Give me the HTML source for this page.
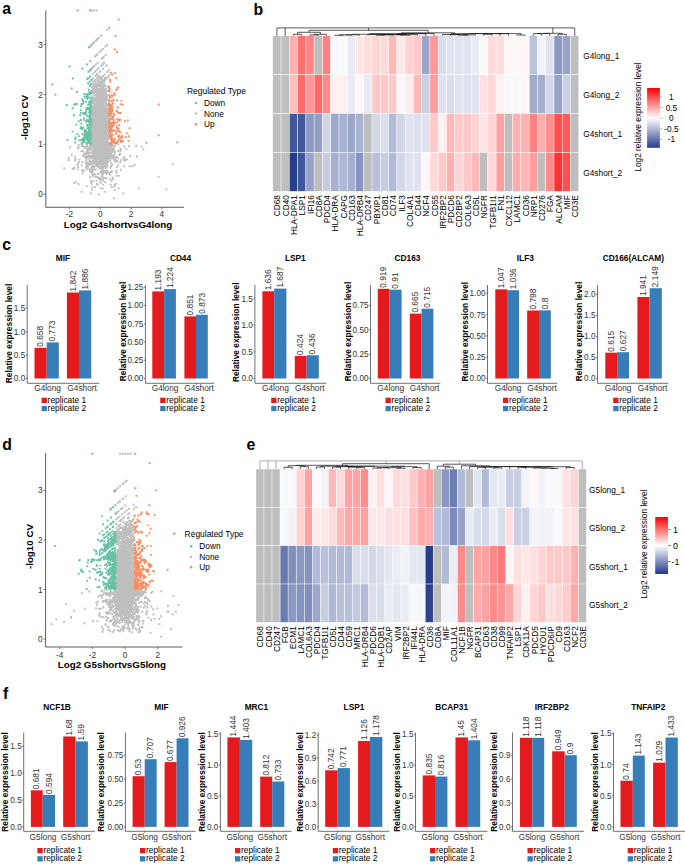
<!DOCTYPE html>
<html><head><meta charset="utf-8"><style>
html,body{margin:0;padding:0;background:#fff;width:685px;height:864px;overflow:hidden}
svg{display:block}
text{font-family:"Liberation Sans",sans-serif}
</style></head><body>
<svg width="685" height="864" viewBox="0 0 685 864">
<rect width="685" height="864" fill="#fff"/>
<text x="2.2" y="14.2" style="font-size:15.8px;font-weight:bold">a</text>
<text x="253.5" y="15.3" style="font-size:15.8px;font-weight:bold">b</text>
<text x="2.2" y="250.4" style="font-size:15.8px;font-weight:bold">c</text>
<text x="2.2" y="450.3" style="font-size:15.8px;font-weight:bold">d</text>
<text x="246.5" y="449.6" style="font-size:15.8px;font-weight:bold">e</text>
<text x="3" y="698.5" style="font-size:15.8px;font-weight:bold">f</text>
<text x="62.9" y="261" style="font-size:8.3px;font-weight:bold" text-anchor="middle">MIF</text>
<rect x="34.5" y="347.8" width="12.2" height="30.7" fill="#E41A1C"/>
<text transform="translate(43.2 346.8) rotate(-90)" style="font-size:8.35px" fill="#333">0.658</text>
<rect x="46.7" y="342.4" width="12.1" height="36.1" fill="#377EB8"/>
<text transform="translate(55.4 341.4) rotate(-90)" style="font-size:8.35px" fill="#333">0.773</text>
<rect x="66.9" y="292.5" width="12.1" height="86" fill="#E41A1C"/>
<text transform="translate(75.5 291.5) rotate(-90)" style="font-size:8.35px" fill="#333">1.842</text>
<rect x="79" y="290.4" width="12.2" height="88.1" fill="#377EB8"/>
<text transform="translate(87.7 289.4) rotate(-90)" style="font-size:8.35px" fill="#333">1.886</text>
<line x1="27.2" y1="285" x2="27.2" y2="383.3" stroke="#333" stroke-width="0.7"/>
<line x1="27.2" y1="383.3" x2="99.3" y2="383.3" stroke="#333" stroke-width="0.7"/>
<line x1="25.7" y1="378.5" x2="27.2" y2="378.5" stroke="#333" stroke-width="0.6"/>
<text x="25.2" y="381.4" style="font-size:8.2px" text-anchor="end" fill="#333">0.0</text>
<line x1="25.7" y1="355.1" x2="27.2" y2="355.1" stroke="#333" stroke-width="0.6"/>
<text x="25.2" y="358.1" style="font-size:8.2px" text-anchor="end" fill="#333">0.5</text>
<line x1="25.7" y1="331.8" x2="27.2" y2="331.8" stroke="#333" stroke-width="0.6"/>
<text x="25.2" y="334.8" style="font-size:8.2px" text-anchor="end" fill="#333">1.0</text>
<line x1="25.7" y1="308.4" x2="27.2" y2="308.4" stroke="#333" stroke-width="0.6"/>
<text x="25.2" y="311.4" style="font-size:8.2px" text-anchor="end" fill="#333">1.5</text>
<line x1="46.6" y1="383.3" x2="46.6" y2="384.8" stroke="#333" stroke-width="0.6"/>
<text x="47.6" y="391.3" style="font-size:8.3px" text-anchor="middle" fill="#333">G4long</text>
<line x1="79.1" y1="383.3" x2="79.1" y2="384.8" stroke="#333" stroke-width="0.6"/>
<text x="82.1" y="391.3" style="font-size:8.3px" text-anchor="middle" fill="#333">G4short</text>
<text transform="translate(12.3 333.5) rotate(-90)" style="font-size:8.4px;font-weight:bold" text-anchor="middle">Relative expression level</text>
<rect x="41.6" y="397.7" width="5.3" height="5.3" fill="#E41A1C"/>
<rect x="41.6" y="405.9" width="5.3" height="5.3" fill="#377EB8"/>
<text x="47.6" y="402.6" style="font-size:8.4px">replicate 1</text>
<text x="47.6" y="410.8" style="font-size:8.4px">replicate 2</text>
<text x="180.5" y="261" style="font-size:8.3px;font-weight:bold" text-anchor="middle">CD44</text>
<rect x="152.3" y="291.4" width="11.8" height="87.1" fill="#E41A1C"/>
<text transform="translate(160.8 290.4) rotate(-90)" style="font-size:8.35px" fill="#333">1.193</text>
<rect x="164.1" y="289.1" width="11.8" height="89.4" fill="#377EB8"/>
<text transform="translate(172.6 288.1) rotate(-90)" style="font-size:8.35px" fill="#333">1.224</text>
<rect x="184.4" y="316.4" width="11.6" height="62.1" fill="#E41A1C"/>
<text transform="translate(192.8 315.4) rotate(-90)" style="font-size:8.35px" fill="#333">0.851</text>
<rect x="196" y="314.8" width="11.8" height="63.7" fill="#377EB8"/>
<text transform="translate(204.5 313.8) rotate(-90)" style="font-size:8.35px" fill="#333">0.873</text>
<line x1="145.4" y1="285" x2="145.4" y2="383.3" stroke="#333" stroke-width="0.7"/>
<line x1="145.4" y1="383.3" x2="214.3" y2="383.3" stroke="#333" stroke-width="0.7"/>
<line x1="143.9" y1="378.5" x2="145.4" y2="378.5" stroke="#333" stroke-width="0.6"/>
<text x="143.4" y="381.4" style="font-size:8.2px" text-anchor="end" fill="#333">0.00</text>
<line x1="143.9" y1="360.2" x2="145.4" y2="360.2" stroke="#333" stroke-width="0.6"/>
<text x="143.4" y="363.2" style="font-size:8.2px" text-anchor="end" fill="#333">0.25</text>
<line x1="143.9" y1="342" x2="145.4" y2="342" stroke="#333" stroke-width="0.6"/>
<text x="143.4" y="344.9" style="font-size:8.2px" text-anchor="end" fill="#333">0.50</text>
<line x1="143.9" y1="323.8" x2="145.4" y2="323.8" stroke="#333" stroke-width="0.6"/>
<text x="143.4" y="326.7" style="font-size:8.2px" text-anchor="end" fill="#333">0.75</text>
<line x1="143.9" y1="305.5" x2="145.4" y2="305.5" stroke="#333" stroke-width="0.6"/>
<text x="143.4" y="308.4" style="font-size:8.2px" text-anchor="end" fill="#333">1.00</text>
<line x1="143.9" y1="287.2" x2="145.4" y2="287.2" stroke="#333" stroke-width="0.6"/>
<text x="143.4" y="290.2" style="font-size:8.2px" text-anchor="end" fill="#333">1.25</text>
<line x1="164.1" y1="383.3" x2="164.1" y2="384.8" stroke="#333" stroke-width="0.6"/>
<text x="165.1" y="391.3" style="font-size:8.3px" text-anchor="middle" fill="#333">G4long</text>
<line x1="196.1" y1="383.3" x2="196.1" y2="384.8" stroke="#333" stroke-width="0.6"/>
<text x="199.1" y="391.3" style="font-size:8.3px" text-anchor="middle" fill="#333">G4short</text>
<text transform="translate(125.8 331.5) rotate(-90)" style="font-size:8.4px;font-weight:bold" text-anchor="middle">Relative expression level</text>
<rect x="160.2" y="397.7" width="5.3" height="5.3" fill="#E41A1C"/>
<rect x="160.2" y="405.9" width="5.3" height="5.3" fill="#377EB8"/>
<text x="166.2" y="402.6" style="font-size:8.4px">replicate 1</text>
<text x="166.2" y="410.8" style="font-size:8.4px">replicate 2</text>
<text x="295.3" y="261" style="font-size:8.3px;font-weight:bold" text-anchor="middle">LSP1</text>
<rect x="262.4" y="291.3" width="11.8" height="87.2" fill="#E41A1C"/>
<text transform="translate(270.9 290.3) rotate(-90)" style="font-size:8.35px" fill="#333">1.636</text>
<rect x="274.2" y="288.6" width="12.2" height="89.9" fill="#377EB8"/>
<text transform="translate(282.9 287.6) rotate(-90)" style="font-size:8.35px" fill="#333">1.687</text>
<rect x="294.8" y="355.9" width="11.8" height="22.6" fill="#E41A1C"/>
<text transform="translate(303.3 354.9) rotate(-90)" style="font-size:8.35px" fill="#333">0.424</text>
<rect x="306.6" y="355.3" width="12.2" height="23.2" fill="#377EB8"/>
<text transform="translate(315.3 354.3) rotate(-90)" style="font-size:8.35px" fill="#333">0.436</text>
<line x1="254.9" y1="285" x2="254.9" y2="383.3" stroke="#333" stroke-width="0.7"/>
<line x1="254.9" y1="383.3" x2="326.3" y2="383.3" stroke="#333" stroke-width="0.7"/>
<line x1="253.4" y1="378.5" x2="254.9" y2="378.5" stroke="#333" stroke-width="0.6"/>
<text x="252.9" y="381.4" style="font-size:8.2px" text-anchor="end" fill="#333">0.0</text>
<line x1="253.4" y1="351.9" x2="254.9" y2="351.9" stroke="#333" stroke-width="0.6"/>
<text x="252.9" y="354.8" style="font-size:8.2px" text-anchor="end" fill="#333">0.5</text>
<line x1="253.4" y1="325.2" x2="254.9" y2="325.2" stroke="#333" stroke-width="0.6"/>
<text x="252.9" y="328.1" style="font-size:8.2px" text-anchor="end" fill="#333">1.0</text>
<line x1="253.4" y1="298.6" x2="254.9" y2="298.6" stroke="#333" stroke-width="0.6"/>
<text x="252.9" y="301.5" style="font-size:8.2px" text-anchor="end" fill="#333">1.5</text>
<line x1="274.4" y1="383.3" x2="274.4" y2="384.8" stroke="#333" stroke-width="0.6"/>
<text x="275.4" y="391.3" style="font-size:8.3px" text-anchor="middle" fill="#333">G4long</text>
<line x1="306.8" y1="383.3" x2="306.8" y2="384.8" stroke="#333" stroke-width="0.6"/>
<text x="309.8" y="391.3" style="font-size:8.3px" text-anchor="middle" fill="#333">G4short</text>
<text transform="translate(239 332.3) rotate(-90)" style="font-size:8.4px;font-weight:bold" text-anchor="middle">Relative expression level</text>
<rect x="271.2" y="397.7" width="5.3" height="5.3" fill="#E41A1C"/>
<rect x="271.2" y="405.9" width="5.3" height="5.3" fill="#377EB8"/>
<text x="277.2" y="402.6" style="font-size:8.4px">replicate 1</text>
<text x="277.2" y="410.8" style="font-size:8.4px">replicate 2</text>
<text x="407.5" y="261" style="font-size:8.3px;font-weight:bold" text-anchor="middle">CD163</text>
<rect x="377.8" y="288.8" width="11.8" height="89.7" fill="#E41A1C"/>
<text transform="translate(386.3 287.8) rotate(-90)" style="font-size:8.35px" fill="#333">0.919</text>
<rect x="389.6" y="289.7" width="12" height="88.8" fill="#377EB8"/>
<text transform="translate(398.2 288.7) rotate(-90)" style="font-size:8.35px" fill="#333">0.91</text>
<rect x="409.8" y="313.6" width="11.8" height="64.9" fill="#E41A1C"/>
<text transform="translate(418.3 312.6) rotate(-90)" style="font-size:8.35px" fill="#333">0.665</text>
<rect x="421.6" y="308.7" width="11.8" height="69.8" fill="#377EB8"/>
<text transform="translate(430.1 307.7) rotate(-90)" style="font-size:8.35px" fill="#333">0.715</text>
<line x1="370.5" y1="285" x2="370.5" y2="383.3" stroke="#333" stroke-width="0.7"/>
<line x1="370.5" y1="383.3" x2="440.3" y2="383.3" stroke="#333" stroke-width="0.7"/>
<line x1="369" y1="378.5" x2="370.5" y2="378.5" stroke="#333" stroke-width="0.6"/>
<text x="368.5" y="381.4" style="font-size:8.2px" text-anchor="end" fill="#333">0.00</text>
<line x1="369" y1="354.1" x2="370.5" y2="354.1" stroke="#333" stroke-width="0.6"/>
<text x="368.5" y="357.1" style="font-size:8.2px" text-anchor="end" fill="#333">0.25</text>
<line x1="369" y1="329.7" x2="370.5" y2="329.7" stroke="#333" stroke-width="0.6"/>
<text x="368.5" y="332.6" style="font-size:8.2px" text-anchor="end" fill="#333">0.50</text>
<line x1="369" y1="305.3" x2="370.5" y2="305.3" stroke="#333" stroke-width="0.6"/>
<text x="368.5" y="308.2" style="font-size:8.2px" text-anchor="end" fill="#333">0.75</text>
<line x1="389.7" y1="383.3" x2="389.7" y2="384.8" stroke="#333" stroke-width="0.6"/>
<text x="390.7" y="391.3" style="font-size:8.3px" text-anchor="middle" fill="#333">G4long</text>
<line x1="421.6" y1="383.3" x2="421.6" y2="384.8" stroke="#333" stroke-width="0.6"/>
<text x="424.6" y="391.3" style="font-size:8.3px" text-anchor="middle" fill="#333">G4short</text>
<text transform="translate(350.9 331.5) rotate(-90)" style="font-size:8.4px;font-weight:bold" text-anchor="middle">Relative expression level</text>
<rect x="385.5" y="397.7" width="5.3" height="5.3" fill="#E41A1C"/>
<rect x="385.5" y="405.9" width="5.3" height="5.3" fill="#377EB8"/>
<text x="391.5" y="402.6" style="font-size:8.4px">replicate 1</text>
<text x="391.5" y="410.8" style="font-size:8.4px">replicate 2</text>
<text x="525.3" y="261" style="font-size:8.3px;font-weight:bold" text-anchor="middle">ILF3</text>
<rect x="495.3" y="289.3" width="11.8" height="89.2" fill="#E41A1C"/>
<text transform="translate(503.8 288.3) rotate(-90)" style="font-size:8.35px" fill="#333">1.047</text>
<rect x="507.1" y="290.2" width="11.9" height="88.3" fill="#377EB8"/>
<text transform="translate(515.6 289.2) rotate(-90)" style="font-size:8.35px" fill="#333">1.036</text>
<rect x="527.2" y="310.5" width="11.8" height="68" fill="#E41A1C"/>
<text transform="translate(535.7 309.5) rotate(-90)" style="font-size:8.35px" fill="#333">0.798</text>
<rect x="539" y="310.3" width="11.8" height="68.2" fill="#377EB8"/>
<text transform="translate(547.5 309.3) rotate(-90)" style="font-size:8.35px" fill="#333">0.8</text>
<line x1="487.5" y1="285" x2="487.5" y2="383.3" stroke="#333" stroke-width="0.7"/>
<line x1="487.5" y1="383.3" x2="557.3" y2="383.3" stroke="#333" stroke-width="0.7"/>
<line x1="486" y1="378.5" x2="487.5" y2="378.5" stroke="#333" stroke-width="0.6"/>
<text x="485.5" y="381.4" style="font-size:8.2px" text-anchor="end" fill="#333">0.00</text>
<line x1="486" y1="357.2" x2="487.5" y2="357.2" stroke="#333" stroke-width="0.6"/>
<text x="485.5" y="360.1" style="font-size:8.2px" text-anchor="end" fill="#333">0.25</text>
<line x1="486" y1="335.9" x2="487.5" y2="335.9" stroke="#333" stroke-width="0.6"/>
<text x="485.5" y="338.8" style="font-size:8.2px" text-anchor="end" fill="#333">0.50</text>
<line x1="486" y1="314.6" x2="487.5" y2="314.6" stroke="#333" stroke-width="0.6"/>
<text x="485.5" y="317.6" style="font-size:8.2px" text-anchor="end" fill="#333">0.75</text>
<line x1="486" y1="293.3" x2="487.5" y2="293.3" stroke="#333" stroke-width="0.6"/>
<text x="485.5" y="296.2" style="font-size:8.2px" text-anchor="end" fill="#333">1.00</text>
<line x1="507.1" y1="383.3" x2="507.1" y2="384.8" stroke="#333" stroke-width="0.6"/>
<text x="508.1" y="391.3" style="font-size:8.3px" text-anchor="middle" fill="#333">G4long</text>
<line x1="539" y1="383.3" x2="539" y2="384.8" stroke="#333" stroke-width="0.6"/>
<text x="542" y="391.3" style="font-size:8.3px" text-anchor="middle" fill="#333">G4short</text>
<text transform="translate(468.2 331.7) rotate(-90)" style="font-size:8.4px;font-weight:bold" text-anchor="middle">Relative expression level</text>
<rect x="503" y="397.7" width="5.3" height="5.3" fill="#E41A1C"/>
<rect x="503" y="405.9" width="5.3" height="5.3" fill="#377EB8"/>
<text x="509" y="402.6" style="font-size:8.4px">replicate 1</text>
<text x="509" y="410.8" style="font-size:8.4px">replicate 2</text>
<text x="633.3" y="261" style="font-size:8.3px;font-weight:bold" text-anchor="middle">CD166(ALCAM)</text>
<rect x="605.3" y="352.7" width="11.8" height="25.8" fill="#E41A1C"/>
<text transform="translate(613.8 351.7) rotate(-90)" style="font-size:8.35px" fill="#333">0.615</text>
<rect x="617.1" y="352.2" width="11.9" height="26.3" fill="#377EB8"/>
<text transform="translate(625.6 351.2) rotate(-90)" style="font-size:8.35px" fill="#333">0.627</text>
<rect x="637.4" y="297" width="12.2" height="81.5" fill="#E41A1C"/>
<text transform="translate(646.1 296) rotate(-90)" style="font-size:8.35px" fill="#333">1.941</text>
<rect x="649.6" y="288.2" width="12.2" height="90.3" fill="#377EB8"/>
<text transform="translate(658.3 287.2) rotate(-90)" style="font-size:8.35px" fill="#333">2.149</text>
<line x1="597.5" y1="285" x2="597.5" y2="383.3" stroke="#333" stroke-width="0.7"/>
<line x1="597.5" y1="383.3" x2="668.3" y2="383.3" stroke="#333" stroke-width="0.7"/>
<line x1="596" y1="378.5" x2="597.5" y2="378.5" stroke="#333" stroke-width="0.6"/>
<text x="595.5" y="381.4" style="font-size:8.2px" text-anchor="end" fill="#333">0.0</text>
<line x1="596" y1="357.5" x2="597.5" y2="357.5" stroke="#333" stroke-width="0.6"/>
<text x="595.5" y="360.4" style="font-size:8.2px" text-anchor="end" fill="#333">0.5</text>
<line x1="596" y1="336.5" x2="597.5" y2="336.5" stroke="#333" stroke-width="0.6"/>
<text x="595.5" y="339.4" style="font-size:8.2px" text-anchor="end" fill="#333">1.0</text>
<line x1="596" y1="315.5" x2="597.5" y2="315.5" stroke="#333" stroke-width="0.6"/>
<text x="595.5" y="318.4" style="font-size:8.2px" text-anchor="end" fill="#333">1.5</text>
<line x1="596" y1="294.5" x2="597.5" y2="294.5" stroke="#333" stroke-width="0.6"/>
<text x="595.5" y="297.4" style="font-size:8.2px" text-anchor="end" fill="#333">2.0</text>
<line x1="617.1" y1="383.3" x2="617.1" y2="384.8" stroke="#333" stroke-width="0.6"/>
<text x="618.1" y="391.3" style="font-size:8.3px" text-anchor="middle" fill="#333">G4long</text>
<line x1="649.6" y1="383.3" x2="649.6" y2="384.8" stroke="#333" stroke-width="0.6"/>
<text x="652.6" y="391.3" style="font-size:8.3px" text-anchor="middle" fill="#333">G4short</text>
<text transform="translate(582 331.5) rotate(-90)" style="font-size:8.4px;font-weight:bold" text-anchor="middle">Relative expression level</text>
<rect x="613.2" y="397.7" width="5.3" height="5.3" fill="#E41A1C"/>
<rect x="613.2" y="405.9" width="5.3" height="5.3" fill="#377EB8"/>
<text x="619.2" y="402.6" style="font-size:8.4px">replicate 1</text>
<text x="619.2" y="410.8" style="font-size:8.4px">replicate 2</text>
<text x="57" y="709.9" style="font-size:8.3px;font-weight:bold" text-anchor="middle">NCF1B</text>
<rect x="30.9" y="790.3" width="11.8" height="36.6" fill="#E41A1C"/>
<text transform="translate(39.4 789.3) rotate(-90)" style="font-size:8.35px" fill="#333">0.681</text>
<rect x="42.7" y="794.9" width="12.3" height="32" fill="#377EB8"/>
<text transform="translate(51.5 793.9) rotate(-90)" style="font-size:8.35px" fill="#333">0.594</text>
<rect x="63.2" y="736.5" width="12.3" height="90.4" fill="#E41A1C"/>
<text transform="translate(71.9 735.5) rotate(-90)" style="font-size:8.35px" fill="#333">1.68</text>
<rect x="75.5" y="741.4" width="12.4" height="85.5" fill="#377EB8"/>
<text transform="translate(84.3 740.4) rotate(-90)" style="font-size:8.35px" fill="#333">1.59</text>
<line x1="23.7" y1="732.5" x2="23.7" y2="831.3" stroke="#333" stroke-width="0.7"/>
<line x1="23.7" y1="831.3" x2="95" y2="831.3" stroke="#333" stroke-width="0.7"/>
<line x1="22.2" y1="826.9" x2="23.7" y2="826.9" stroke="#333" stroke-width="0.6"/>
<text x="21.7" y="829.9" style="font-size:8.2px" text-anchor="end" fill="#333">0.0</text>
<line x1="22.2" y1="800" x2="23.7" y2="800" stroke="#333" stroke-width="0.6"/>
<text x="21.7" y="803" style="font-size:8.2px" text-anchor="end" fill="#333">0.5</text>
<line x1="22.2" y1="773.1" x2="23.7" y2="773.1" stroke="#333" stroke-width="0.6"/>
<text x="21.7" y="776.1" style="font-size:8.2px" text-anchor="end" fill="#333">1.0</text>
<line x1="22.2" y1="746.2" x2="23.7" y2="746.2" stroke="#333" stroke-width="0.6"/>
<text x="21.7" y="749.2" style="font-size:8.2px" text-anchor="end" fill="#333">1.5</text>
<line x1="43" y1="831.3" x2="43" y2="832.8" stroke="#333" stroke-width="0.6"/>
<text x="43" y="839.6" style="font-size:8.3px" text-anchor="middle" fill="#333">G5long</text>
<line x1="75.6" y1="831.3" x2="75.6" y2="832.8" stroke="#333" stroke-width="0.6"/>
<text x="75.6" y="839.6" style="font-size:8.3px" text-anchor="middle" fill="#333">G5short</text>
<text transform="translate(7.8 782) rotate(-90)" style="font-size:8.4px;font-weight:bold" text-anchor="middle">Relative expression level</text>
<rect x="37.4" y="848" width="5.3" height="5.3" fill="#E41A1C"/>
<rect x="37.4" y="856.2" width="5.3" height="5.3" fill="#377EB8"/>
<text x="43.4" y="852.9" style="font-size:8.4px">replicate 1</text>
<text x="43.4" y="861.1" style="font-size:8.4px">replicate 2</text>
<text x="161.4" y="709.9" style="font-size:8.3px;font-weight:bold" text-anchor="middle">MIF</text>
<rect x="132.6" y="776.2" width="12.1" height="50.7" fill="#E41A1C"/>
<text transform="translate(141.2 775.2) rotate(-90)" style="font-size:8.35px" fill="#333">0.53</text>
<rect x="144.7" y="759.2" width="12" height="67.7" fill="#377EB8"/>
<text transform="translate(153.3 758.2) rotate(-90)" style="font-size:8.35px" fill="#333">0.707</text>
<rect x="164.6" y="762.1" width="12" height="64.8" fill="#E41A1C"/>
<text transform="translate(173.2 761.1) rotate(-90)" style="font-size:8.35px" fill="#333">0.677</text>
<rect x="176.6" y="738.3" width="11.9" height="88.6" fill="#377EB8"/>
<text transform="translate(185.2 737.3) rotate(-90)" style="font-size:8.35px" fill="#333">0.926</text>
<line x1="125.4" y1="732.5" x2="125.4" y2="831.3" stroke="#333" stroke-width="0.7"/>
<line x1="125.4" y1="831.3" x2="195.5" y2="831.3" stroke="#333" stroke-width="0.7"/>
<line x1="123.9" y1="826.9" x2="125.4" y2="826.9" stroke="#333" stroke-width="0.6"/>
<text x="123.4" y="829.9" style="font-size:8.2px" text-anchor="end" fill="#333">0.00</text>
<line x1="123.9" y1="803" x2="125.4" y2="803" stroke="#333" stroke-width="0.6"/>
<text x="123.4" y="805.9" style="font-size:8.2px" text-anchor="end" fill="#333">0.25</text>
<line x1="123.9" y1="779" x2="125.4" y2="779" stroke="#333" stroke-width="0.6"/>
<text x="123.4" y="782" style="font-size:8.2px" text-anchor="end" fill="#333">0.50</text>
<line x1="123.9" y1="755.1" x2="125.4" y2="755.1" stroke="#333" stroke-width="0.6"/>
<text x="123.4" y="758.1" style="font-size:8.2px" text-anchor="end" fill="#333">0.75</text>
<line x1="144.6" y1="831.3" x2="144.6" y2="832.8" stroke="#333" stroke-width="0.6"/>
<text x="144.6" y="839.6" style="font-size:8.3px" text-anchor="middle" fill="#333">G5long</text>
<line x1="176.6" y1="831.3" x2="176.6" y2="832.8" stroke="#333" stroke-width="0.6"/>
<text x="176.6" y="839.6" style="font-size:8.3px" text-anchor="middle" fill="#333">G5short</text>
<text transform="translate(104.3 782) rotate(-90)" style="font-size:8.4px;font-weight:bold" text-anchor="middle">Relative expression level</text>
<rect x="140" y="848" width="5.3" height="5.3" fill="#E41A1C"/>
<rect x="140" y="856.2" width="5.3" height="5.3" fill="#377EB8"/>
<text x="146" y="852.9" style="font-size:8.4px">replicate 1</text>
<text x="146" y="861.1" style="font-size:8.4px">replicate 2</text>
<text x="256.4" y="709.9" style="font-size:8.3px;font-weight:bold" text-anchor="middle">MRC1</text>
<rect x="227.4" y="737.4" width="12.5" height="89.5" fill="#E41A1C"/>
<text transform="translate(236.2 736.4) rotate(-90)" style="font-size:8.35px" fill="#333">1.444</text>
<rect x="239.9" y="739.9" width="12.3" height="87" fill="#377EB8"/>
<text transform="translate(248.7 738.9) rotate(-90)" style="font-size:8.35px" fill="#333">1.403</text>
<rect x="260.2" y="776.6" width="12" height="50.3" fill="#E41A1C"/>
<text transform="translate(268.8 775.6) rotate(-90)" style="font-size:8.35px" fill="#333">0.812</text>
<rect x="272.2" y="781.5" width="12.1" height="45.4" fill="#377EB8"/>
<text transform="translate(280.9 780.5) rotate(-90)" style="font-size:8.35px" fill="#333">0.733</text>
<line x1="220.4" y1="732.5" x2="220.4" y2="831.3" stroke="#333" stroke-width="0.7"/>
<line x1="220.4" y1="831.3" x2="291.5" y2="831.3" stroke="#333" stroke-width="0.7"/>
<line x1="218.9" y1="826.9" x2="220.4" y2="826.9" stroke="#333" stroke-width="0.6"/>
<text x="218.4" y="829.9" style="font-size:8.2px" text-anchor="end" fill="#333">0.0</text>
<line x1="218.9" y1="795.9" x2="220.4" y2="795.9" stroke="#333" stroke-width="0.6"/>
<text x="218.4" y="798.9" style="font-size:8.2px" text-anchor="end" fill="#333">0.5</text>
<line x1="218.9" y1="764.9" x2="220.4" y2="764.9" stroke="#333" stroke-width="0.6"/>
<text x="218.4" y="767.9" style="font-size:8.2px" text-anchor="end" fill="#333">1.0</text>
<line x1="218.9" y1="733.9" x2="220.4" y2="733.9" stroke="#333" stroke-width="0.6"/>
<text x="218.4" y="736.9" style="font-size:8.2px" text-anchor="end" fill="#333">1.5</text>
<line x1="239.8" y1="831.3" x2="239.8" y2="832.8" stroke="#333" stroke-width="0.6"/>
<text x="239.8" y="839.6" style="font-size:8.3px" text-anchor="middle" fill="#333">G5long</text>
<line x1="272.2" y1="831.3" x2="272.2" y2="832.8" stroke="#333" stroke-width="0.6"/>
<text x="272.2" y="839.6" style="font-size:8.3px" text-anchor="middle" fill="#333">G5short</text>
<text transform="translate(205.4 782) rotate(-90)" style="font-size:8.4px;font-weight:bold" text-anchor="middle">Relative expression level</text>
<rect x="235" y="848" width="5.3" height="5.3" fill="#E41A1C"/>
<rect x="235" y="856.2" width="5.3" height="5.3" fill="#377EB8"/>
<text x="241" y="852.9" style="font-size:8.4px">replicate 1</text>
<text x="241" y="861.1" style="font-size:8.4px">replicate 2</text>
<text x="354" y="709.9" style="font-size:8.3px;font-weight:bold" text-anchor="middle">LSP1</text>
<rect x="325.2" y="770.3" width="12.4" height="56.6" fill="#E41A1C"/>
<text transform="translate(334 769.3) rotate(-90)" style="font-size:8.35px" fill="#333">0.742</text>
<rect x="337.6" y="768.1" width="12.3" height="58.8" fill="#377EB8"/>
<text transform="translate(346.4 767.1) rotate(-90)" style="font-size:8.35px" fill="#333">0.771</text>
<rect x="358.1" y="741" width="11.9" height="85.9" fill="#E41A1C"/>
<text transform="translate(366.7 740) rotate(-90)" style="font-size:8.35px" fill="#333">1.126</text>
<rect x="370" y="737" width="12.3" height="89.9" fill="#377EB8"/>
<text transform="translate(378.8 736) rotate(-90)" style="font-size:8.35px" fill="#333">1.178</text>
<line x1="318.2" y1="732.5" x2="318.2" y2="831.3" stroke="#333" stroke-width="0.7"/>
<line x1="318.2" y1="831.3" x2="389.5" y2="831.3" stroke="#333" stroke-width="0.7"/>
<line x1="316.7" y1="826.9" x2="318.2" y2="826.9" stroke="#333" stroke-width="0.6"/>
<text x="316.2" y="829.9" style="font-size:8.2px" text-anchor="end" fill="#333">0.0</text>
<line x1="316.7" y1="804" x2="318.2" y2="804" stroke="#333" stroke-width="0.6"/>
<text x="316.2" y="807" style="font-size:8.2px" text-anchor="end" fill="#333">0.3</text>
<line x1="316.7" y1="781.1" x2="318.2" y2="781.1" stroke="#333" stroke-width="0.6"/>
<text x="316.2" y="784.1" style="font-size:8.2px" text-anchor="end" fill="#333">0.6</text>
<line x1="316.7" y1="758.2" x2="318.2" y2="758.2" stroke="#333" stroke-width="0.6"/>
<text x="316.2" y="761.2" style="font-size:8.2px" text-anchor="end" fill="#333">0.9</text>
<line x1="316.7" y1="735.3" x2="318.2" y2="735.3" stroke="#333" stroke-width="0.6"/>
<text x="316.2" y="738.3" style="font-size:8.2px" text-anchor="end" fill="#333">1.2</text>
<line x1="337.5" y1="831.3" x2="337.5" y2="832.8" stroke="#333" stroke-width="0.6"/>
<text x="337.5" y="839.6" style="font-size:8.3px" text-anchor="middle" fill="#333">G5long</text>
<line x1="370.2" y1="831.3" x2="370.2" y2="832.8" stroke="#333" stroke-width="0.6"/>
<text x="370.2" y="839.6" style="font-size:8.3px" text-anchor="middle" fill="#333">G5short</text>
<text transform="translate(302.6 782) rotate(-90)" style="font-size:8.4px;font-weight:bold" text-anchor="middle">Relative expression level</text>
<rect x="332.8" y="848" width="5.3" height="5.3" fill="#E41A1C"/>
<rect x="332.8" y="856.2" width="5.3" height="5.3" fill="#377EB8"/>
<text x="338.8" y="852.9" style="font-size:8.4px">replicate 1</text>
<text x="338.8" y="861.1" style="font-size:8.4px">replicate 2</text>
<text x="451.7" y="709.9" style="font-size:8.3px;font-weight:bold" text-anchor="middle">BCAP31</text>
<rect x="422.7" y="775.4" width="12.3" height="51.5" fill="#E41A1C"/>
<text transform="translate(431.5 774.4) rotate(-90)" style="font-size:8.35px" fill="#333">0.835</text>
<rect x="435" y="776.6" width="12.4" height="50.3" fill="#377EB8"/>
<text transform="translate(443.8 775.6) rotate(-90)" style="font-size:8.35px" fill="#333">0.816</text>
<rect x="455.5" y="737.4" width="12.4" height="89.5" fill="#E41A1C"/>
<text transform="translate(464.3 736.4) rotate(-90)" style="font-size:8.35px" fill="#333">1.45</text>
<rect x="467.9" y="740.3" width="12.3" height="86.6" fill="#377EB8"/>
<text transform="translate(476.6 739.3) rotate(-90)" style="font-size:8.35px" fill="#333">1.404</text>
<line x1="415.5" y1="732.5" x2="415.5" y2="831.3" stroke="#333" stroke-width="0.7"/>
<line x1="415.5" y1="831.3" x2="487.5" y2="831.3" stroke="#333" stroke-width="0.7"/>
<line x1="414" y1="826.9" x2="415.5" y2="826.9" stroke="#333" stroke-width="0.6"/>
<text x="413.5" y="829.9" style="font-size:8.2px" text-anchor="end" fill="#333">0.0</text>
<line x1="414" y1="796" x2="415.5" y2="796" stroke="#333" stroke-width="0.6"/>
<text x="413.5" y="799" style="font-size:8.2px" text-anchor="end" fill="#333">0.5</text>
<line x1="414" y1="765.2" x2="415.5" y2="765.2" stroke="#333" stroke-width="0.6"/>
<text x="413.5" y="768.1" style="font-size:8.2px" text-anchor="end" fill="#333">1.0</text>
<line x1="414" y1="734.3" x2="415.5" y2="734.3" stroke="#333" stroke-width="0.6"/>
<text x="413.5" y="737.3" style="font-size:8.2px" text-anchor="end" fill="#333">1.5</text>
<line x1="435" y1="831.3" x2="435" y2="832.8" stroke="#333" stroke-width="0.6"/>
<text x="435" y="839.6" style="font-size:8.3px" text-anchor="middle" fill="#333">G5long</text>
<line x1="467.9" y1="831.3" x2="467.9" y2="832.8" stroke="#333" stroke-width="0.6"/>
<text x="467.9" y="839.6" style="font-size:8.3px" text-anchor="middle" fill="#333">G5short</text>
<text transform="translate(400.2 782) rotate(-90)" style="font-size:8.4px;font-weight:bold" text-anchor="middle">Relative expression level</text>
<rect x="430" y="848" width="5.3" height="5.3" fill="#E41A1C"/>
<rect x="430" y="856.2" width="5.3" height="5.3" fill="#377EB8"/>
<text x="436" y="852.9" style="font-size:8.4px">replicate 1</text>
<text x="436" y="861.1" style="font-size:8.4px">replicate 2</text>
<text x="551.8" y="709.9" style="font-size:8.3px;font-weight:bold" text-anchor="middle">IRF2BP2</text>
<rect x="520" y="737.8" width="12.3" height="89.1" fill="#E41A1C"/>
<text transform="translate(528.8 736.8) rotate(-90)" style="font-size:8.35px" fill="#333">1.118</text>
<rect x="532.3" y="737.8" width="11.9" height="89.1" fill="#377EB8"/>
<text transform="translate(540.9 736.8) rotate(-90)" style="font-size:8.35px" fill="#333">1.118</text>
<rect x="552.2" y="751.3" width="12.5" height="75.6" fill="#E41A1C"/>
<text transform="translate(561.1 750.3) rotate(-90)" style="font-size:8.35px" fill="#333">0.949</text>
<rect x="564.7" y="755.2" width="12.1" height="71.7" fill="#377EB8"/>
<text transform="translate(573.4 754.2) rotate(-90)" style="font-size:8.35px" fill="#333">0.9</text>
<line x1="512.5" y1="732.5" x2="512.5" y2="831.3" stroke="#333" stroke-width="0.7"/>
<line x1="512.5" y1="831.3" x2="584" y2="831.3" stroke="#333" stroke-width="0.7"/>
<line x1="511" y1="826.9" x2="512.5" y2="826.9" stroke="#333" stroke-width="0.6"/>
<text x="510.5" y="829.9" style="font-size:8.2px" text-anchor="end" fill="#333">0.0</text>
<line x1="511" y1="803" x2="512.5" y2="803" stroke="#333" stroke-width="0.6"/>
<text x="510.5" y="805.9" style="font-size:8.2px" text-anchor="end" fill="#333">0.3</text>
<line x1="511" y1="779.1" x2="512.5" y2="779.1" stroke="#333" stroke-width="0.6"/>
<text x="510.5" y="782" style="font-size:8.2px" text-anchor="end" fill="#333">0.6</text>
<line x1="511" y1="755.2" x2="512.5" y2="755.2" stroke="#333" stroke-width="0.6"/>
<text x="510.5" y="758.1" style="font-size:8.2px" text-anchor="end" fill="#333">0.9</text>
<line x1="532.1" y1="831.3" x2="532.1" y2="832.8" stroke="#333" stroke-width="0.6"/>
<text x="532.1" y="839.6" style="font-size:8.3px" text-anchor="middle" fill="#333">G5long</text>
<line x1="564.5" y1="831.3" x2="564.5" y2="832.8" stroke="#333" stroke-width="0.6"/>
<text x="564.5" y="839.6" style="font-size:8.3px" text-anchor="middle" fill="#333">G5short</text>
<text transform="translate(497.1 782) rotate(-90)" style="font-size:8.4px;font-weight:bold" text-anchor="middle">Relative expression level</text>
<rect x="527.5" y="848" width="5.3" height="5.3" fill="#E41A1C"/>
<rect x="527.5" y="856.2" width="5.3" height="5.3" fill="#377EB8"/>
<text x="533.5" y="852.9" style="font-size:8.4px">replicate 1</text>
<text x="533.5" y="861.1" style="font-size:8.4px">replicate 2</text>
<text x="648.2" y="709.9" style="font-size:8.3px;font-weight:bold" text-anchor="middle">TNFAIP2</text>
<rect x="620.5" y="780.7" width="12.3" height="46.2" fill="#E41A1C"/>
<text transform="translate(629.2 779.7) rotate(-90)" style="font-size:8.35px" fill="#333">0.74</text>
<rect x="632.8" y="755.6" width="12" height="71.3" fill="#377EB8"/>
<text transform="translate(641.4 754.6) rotate(-90)" style="font-size:8.35px" fill="#333">1.143</text>
<rect x="653.1" y="762.7" width="12.4" height="64.2" fill="#E41A1C"/>
<text transform="translate(661.9 761.7) rotate(-90)" style="font-size:8.35px" fill="#333">1.029</text>
<rect x="665.5" y="737.5" width="12.3" height="89.4" fill="#377EB8"/>
<text transform="translate(674.2 736.5) rotate(-90)" style="font-size:8.35px" fill="#333">1.433</text>
<line x1="613.5" y1="732.5" x2="613.5" y2="831.3" stroke="#333" stroke-width="0.7"/>
<line x1="613.5" y1="831.3" x2="685" y2="831.3" stroke="#333" stroke-width="0.7"/>
<line x1="612" y1="826.9" x2="613.5" y2="826.9" stroke="#333" stroke-width="0.6"/>
<text x="611.5" y="829.9" style="font-size:8.2px" text-anchor="end" fill="#333">0.0</text>
<line x1="612" y1="795.7" x2="613.5" y2="795.7" stroke="#333" stroke-width="0.6"/>
<text x="611.5" y="798.6" style="font-size:8.2px" text-anchor="end" fill="#333">0.5</text>
<line x1="612" y1="764.5" x2="613.5" y2="764.5" stroke="#333" stroke-width="0.6"/>
<text x="611.5" y="767.5" style="font-size:8.2px" text-anchor="end" fill="#333">1.0</text>
<line x1="612" y1="733.3" x2="613.5" y2="733.3" stroke="#333" stroke-width="0.6"/>
<text x="611.5" y="736.2" style="font-size:8.2px" text-anchor="end" fill="#333">1.5</text>
<line x1="632.6" y1="831.3" x2="632.6" y2="832.8" stroke="#333" stroke-width="0.6"/>
<text x="632.6" y="839.6" style="font-size:8.3px" text-anchor="middle" fill="#333">G5long</text>
<line x1="665.5" y1="831.3" x2="665.5" y2="832.8" stroke="#333" stroke-width="0.6"/>
<text x="665.5" y="839.6" style="font-size:8.3px" text-anchor="middle" fill="#333">G5short</text>
<text transform="translate(597.6 782) rotate(-90)" style="font-size:8.4px;font-weight:bold" text-anchor="middle">Relative expression level</text>
<rect x="627.7" y="848" width="5.3" height="5.3" fill="#E41A1C"/>
<rect x="627.7" y="856.2" width="5.3" height="5.3" fill="#377EB8"/>
<text x="633.7" y="852.9" style="font-size:8.4px">replicate 1</text>
<text x="633.7" y="861.1" style="font-size:8.4px">replicate 2</text>
<rect x="272.8" y="35.7" width="8.3" height="38.9" fill="#BEBEBE" stroke="#fff" stroke-width="0.45"/>
<rect x="272.8" y="74.6" width="8.3" height="38.9" fill="#BEBEBE" stroke="#fff" stroke-width="0.45"/>
<rect x="272.8" y="113.5" width="8.3" height="38.9" fill="#BEBEBE" stroke="#fff" stroke-width="0.45"/>
<rect x="272.8" y="152.4" width="8.3" height="38.9" fill="#BEBEBE" stroke="#fff" stroke-width="0.45"/>
<rect x="281.1" y="35.7" width="8.3" height="38.9" fill="#BEBEBE" stroke="#fff" stroke-width="0.45"/>
<rect x="281.1" y="74.6" width="8.3" height="38.9" fill="#BEBEBE" stroke="#fff" stroke-width="0.45"/>
<rect x="281.1" y="113.5" width="8.3" height="38.9" fill="#BEBEBE" stroke="#fff" stroke-width="0.45"/>
<rect x="281.1" y="152.4" width="8.3" height="38.9" fill="#BEBEBE" stroke="#fff" stroke-width="0.45"/>
<rect x="289.3" y="35.7" width="8.3" height="38.9" fill="#FFB0B0" stroke="#fff" stroke-width="0.45"/>
<rect x="289.3" y="74.6" width="8.3" height="38.9" fill="#FFBFBF" stroke="#fff" stroke-width="0.45"/>
<rect x="289.3" y="113.5" width="8.3" height="38.9" fill="#42589C" stroke="#fff" stroke-width="0.45"/>
<rect x="289.3" y="152.4" width="8.3" height="38.9" fill="#253E8C" stroke="#fff" stroke-width="0.45"/>
<rect x="297.6" y="35.7" width="8.3" height="38.9" fill="#FF7070" stroke="#fff" stroke-width="0.45"/>
<rect x="297.6" y="74.6" width="8.3" height="38.9" fill="#FF6B6B" stroke="#fff" stroke-width="0.45"/>
<rect x="297.6" y="113.5" width="8.3" height="38.9" fill="#42589C" stroke="#fff" stroke-width="0.45"/>
<rect x="297.6" y="152.4" width="8.3" height="38.9" fill="#40569A" stroke="#fff" stroke-width="0.45"/>
<rect x="305.9" y="35.7" width="8.3" height="38.9" fill="#FF8787" stroke="#fff" stroke-width="0.45"/>
<rect x="305.9" y="74.6" width="8.3" height="38.9" fill="#FF9999" stroke="#fff" stroke-width="0.45"/>
<rect x="305.9" y="113.5" width="8.3" height="38.9" fill="#8C99C2" stroke="#fff" stroke-width="0.45"/>
<rect x="305.9" y="152.4" width="8.3" height="38.9" fill="#97A2C8" stroke="#fff" stroke-width="0.45"/>
<rect x="314.1" y="35.7" width="8.3" height="38.9" fill="#BEBEBE" stroke="#fff" stroke-width="0.45"/>
<rect x="314.1" y="74.6" width="8.3" height="38.9" fill="#FF6969" stroke="#fff" stroke-width="0.45"/>
<rect x="314.1" y="113.5" width="8.3" height="38.9" fill="#929EC6" stroke="#fff" stroke-width="0.45"/>
<rect x="314.1" y="152.4" width="8.3" height="38.9" fill="#BEBEBE" stroke="#fff" stroke-width="0.45"/>
<rect x="322.4" y="35.7" width="8.3" height="38.9" fill="#FF8080" stroke="#fff" stroke-width="0.45"/>
<rect x="322.4" y="74.6" width="8.3" height="38.9" fill="#FF8A8A" stroke="#fff" stroke-width="0.45"/>
<rect x="322.4" y="113.5" width="8.3" height="38.9" fill="#D0D6E6" stroke="#fff" stroke-width="0.45"/>
<rect x="322.4" y="152.4" width="8.3" height="38.9" fill="#C5CCE1" stroke="#fff" stroke-width="0.45"/>
<rect x="330.7" y="35.7" width="8.3" height="38.9" fill="#F8F9FB" stroke="#fff" stroke-width="0.45"/>
<rect x="330.7" y="74.6" width="8.3" height="38.9" fill="#FFF0F0" stroke="#fff" stroke-width="0.45"/>
<rect x="330.7" y="113.5" width="8.3" height="38.9" fill="#9DA8CC" stroke="#fff" stroke-width="0.45"/>
<rect x="330.7" y="152.4" width="8.3" height="38.9" fill="#A6B0D0" stroke="#fff" stroke-width="0.45"/>
<rect x="339" y="35.7" width="8.3" height="38.9" fill="#F8F9FB" stroke="#fff" stroke-width="0.45"/>
<rect x="339" y="74.6" width="8.3" height="38.9" fill="#FFF0F0" stroke="#fff" stroke-width="0.45"/>
<rect x="339" y="113.5" width="8.3" height="38.9" fill="#A6B0D0" stroke="#fff" stroke-width="0.45"/>
<rect x="339" y="152.4" width="8.3" height="38.9" fill="#AFB8D5" stroke="#fff" stroke-width="0.45"/>
<rect x="347.2" y="35.7" width="8.3" height="38.9" fill="#E9EBF3" stroke="#fff" stroke-width="0.45"/>
<rect x="347.2" y="74.6" width="8.3" height="38.9" fill="#E9EBF3" stroke="#fff" stroke-width="0.45"/>
<rect x="347.2" y="113.5" width="8.3" height="38.9" fill="#9BA6CA" stroke="#fff" stroke-width="0.45"/>
<rect x="347.2" y="152.4" width="8.3" height="38.9" fill="#A6B0D0" stroke="#fff" stroke-width="0.45"/>
<rect x="355.5" y="35.7" width="8.3" height="38.9" fill="#FFE6E6" stroke="#fff" stroke-width="0.45"/>
<rect x="355.5" y="74.6" width="8.3" height="38.9" fill="#FFF7F7" stroke="#fff" stroke-width="0.45"/>
<rect x="355.5" y="113.5" width="8.3" height="38.9" fill="#A8B2D1" stroke="#fff" stroke-width="0.45"/>
<rect x="355.5" y="152.4" width="8.3" height="38.9" fill="#8795C0" stroke="#fff" stroke-width="0.45"/>
<rect x="363.8" y="35.7" width="8.3" height="38.9" fill="#FFDEDE" stroke="#fff" stroke-width="0.45"/>
<rect x="363.8" y="74.6" width="8.3" height="38.9" fill="#E9EBF3" stroke="#fff" stroke-width="0.45"/>
<rect x="363.8" y="113.5" width="8.3" height="38.9" fill="#BEBEBE" stroke="#fff" stroke-width="0.45"/>
<rect x="363.8" y="152.4" width="8.3" height="38.9" fill="#BEBEBE" stroke="#fff" stroke-width="0.45"/>
<rect x="372" y="35.7" width="8.3" height="38.9" fill="#FFD4D4" stroke="#fff" stroke-width="0.45"/>
<rect x="372" y="74.6" width="8.3" height="38.9" fill="#FFC7C7" stroke="#fff" stroke-width="0.45"/>
<rect x="372" y="113.5" width="8.3" height="38.9" fill="#D3D8E8" stroke="#fff" stroke-width="0.45"/>
<rect x="372" y="152.4" width="8.3" height="38.9" fill="#B8C0DA" stroke="#fff" stroke-width="0.45"/>
<rect x="380.3" y="35.7" width="8.3" height="38.9" fill="#FFD9D9" stroke="#fff" stroke-width="0.45"/>
<rect x="380.3" y="74.6" width="8.3" height="38.9" fill="#FFC7C7" stroke="#fff" stroke-width="0.45"/>
<rect x="380.3" y="113.5" width="8.3" height="38.9" fill="#D9DEEB" stroke="#fff" stroke-width="0.45"/>
<rect x="380.3" y="152.4" width="8.3" height="38.9" fill="#C8CEE2" stroke="#fff" stroke-width="0.45"/>
<rect x="388.6" y="35.7" width="8.3" height="38.9" fill="#FFB8B8" stroke="#fff" stroke-width="0.45"/>
<rect x="388.6" y="74.6" width="8.3" height="38.9" fill="#FFC9C9" stroke="#fff" stroke-width="0.45"/>
<rect x="388.6" y="113.5" width="8.3" height="38.9" fill="#B1BAD6" stroke="#fff" stroke-width="0.45"/>
<rect x="388.6" y="152.4" width="8.3" height="38.9" fill="#B1BAD6" stroke="#fff" stroke-width="0.45"/>
<rect x="396.9" y="35.7" width="8.3" height="38.9" fill="#FFE8E8" stroke="#fff" stroke-width="0.45"/>
<rect x="396.9" y="74.6" width="8.3" height="38.9" fill="#FFF7F7" stroke="#fff" stroke-width="0.45"/>
<rect x="396.9" y="113.5" width="8.3" height="38.9" fill="#D0D6E6" stroke="#fff" stroke-width="0.45"/>
<rect x="396.9" y="152.4" width="8.3" height="38.9" fill="#D3D8E8" stroke="#fff" stroke-width="0.45"/>
<rect x="405.1" y="35.7" width="8.3" height="38.9" fill="#FFD1D1" stroke="#fff" stroke-width="0.45"/>
<rect x="405.1" y="74.6" width="8.3" height="38.9" fill="#FFEDED" stroke="#fff" stroke-width="0.45"/>
<rect x="405.1" y="113.5" width="8.3" height="38.9" fill="#E0E3EF" stroke="#fff" stroke-width="0.45"/>
<rect x="405.1" y="152.4" width="8.3" height="38.9" fill="#E0E3EF" stroke="#fff" stroke-width="0.45"/>
<rect x="413.4" y="35.7" width="8.3" height="38.9" fill="#FFC9C9" stroke="#fff" stroke-width="0.45"/>
<rect x="413.4" y="74.6" width="8.3" height="38.9" fill="#FFB8B8" stroke="#fff" stroke-width="0.45"/>
<rect x="413.4" y="113.5" width="8.3" height="38.9" fill="#DBDFEC" stroke="#fff" stroke-width="0.45"/>
<rect x="413.4" y="152.4" width="8.3" height="38.9" fill="#E0E3EF" stroke="#fff" stroke-width="0.45"/>
<rect x="421.7" y="35.7" width="8.3" height="38.9" fill="#9BA6CA" stroke="#fff" stroke-width="0.45"/>
<rect x="421.7" y="74.6" width="8.3" height="38.9" fill="#CAD0E3" stroke="#fff" stroke-width="0.45"/>
<rect x="421.7" y="113.5" width="8.3" height="38.9" fill="#E0E3EF" stroke="#fff" stroke-width="0.45"/>
<rect x="421.7" y="152.4" width="8.3" height="38.9" fill="#FFF7F7" stroke="#fff" stroke-width="0.45"/>
<rect x="429.9" y="35.7" width="8.3" height="38.9" fill="#FF9999" stroke="#fff" stroke-width="0.45"/>
<rect x="429.9" y="74.6" width="8.3" height="38.9" fill="#FF9C9C" stroke="#fff" stroke-width="0.45"/>
<rect x="429.9" y="113.5" width="8.3" height="38.9" fill="#FFC9C9" stroke="#fff" stroke-width="0.45"/>
<rect x="429.9" y="152.4" width="8.3" height="38.9" fill="#FFD9D9" stroke="#fff" stroke-width="0.45"/>
<rect x="438.2" y="35.7" width="8.3" height="38.9" fill="#D9DEEB" stroke="#fff" stroke-width="0.45"/>
<rect x="438.2" y="74.6" width="8.3" height="38.9" fill="#E0E3EF" stroke="#fff" stroke-width="0.45"/>
<rect x="438.2" y="113.5" width="8.3" height="38.9" fill="#FFF0F0" stroke="#fff" stroke-width="0.45"/>
<rect x="438.2" y="152.4" width="8.3" height="38.9" fill="#FFC9C9" stroke="#fff" stroke-width="0.45"/>
<rect x="446.5" y="35.7" width="8.3" height="38.9" fill="#E0E3EF" stroke="#fff" stroke-width="0.45"/>
<rect x="446.5" y="74.6" width="8.3" height="38.9" fill="#D9DEEB" stroke="#fff" stroke-width="0.45"/>
<rect x="446.5" y="113.5" width="8.3" height="38.9" fill="#FFB8B8" stroke="#fff" stroke-width="0.45"/>
<rect x="446.5" y="152.4" width="8.3" height="38.9" fill="#FFB0B0" stroke="#fff" stroke-width="0.45"/>
<rect x="454.7" y="35.7" width="8.3" height="38.9" fill="#E0E3EF" stroke="#fff" stroke-width="0.45"/>
<rect x="454.7" y="74.6" width="8.3" height="38.9" fill="#E0E3EF" stroke="#fff" stroke-width="0.45"/>
<rect x="454.7" y="113.5" width="8.3" height="38.9" fill="#FFC9C9" stroke="#fff" stroke-width="0.45"/>
<rect x="454.7" y="152.4" width="8.3" height="38.9" fill="#FFD6D6" stroke="#fff" stroke-width="0.45"/>
<rect x="463" y="35.7" width="8.3" height="38.9" fill="#E0E3EF" stroke="#fff" stroke-width="0.45"/>
<rect x="463" y="74.6" width="8.3" height="38.9" fill="#DEE1ED" stroke="#fff" stroke-width="0.45"/>
<rect x="463" y="113.5" width="8.3" height="38.9" fill="#FFC7C7" stroke="#fff" stroke-width="0.45"/>
<rect x="463" y="152.4" width="8.3" height="38.9" fill="#FFC7C7" stroke="#fff" stroke-width="0.45"/>
<rect x="471.3" y="35.7" width="8.3" height="38.9" fill="#E9EBF3" stroke="#fff" stroke-width="0.45"/>
<rect x="471.3" y="74.6" width="8.3" height="38.9" fill="#E0E3EF" stroke="#fff" stroke-width="0.45"/>
<rect x="471.3" y="113.5" width="8.3" height="38.9" fill="#FFD4D4" stroke="#fff" stroke-width="0.45"/>
<rect x="471.3" y="152.4" width="8.3" height="38.9" fill="#FFB8B8" stroke="#fff" stroke-width="0.45"/>
<rect x="479.6" y="35.7" width="8.3" height="38.9" fill="#F8F9FB" stroke="#fff" stroke-width="0.45"/>
<rect x="479.6" y="74.6" width="8.3" height="38.9" fill="#FFE0E0" stroke="#fff" stroke-width="0.45"/>
<rect x="479.6" y="113.5" width="8.3" height="38.9" fill="#FFE6E6" stroke="#fff" stroke-width="0.45"/>
<rect x="479.6" y="152.4" width="8.3" height="38.9" fill="#BEBEBE" stroke="#fff" stroke-width="0.45"/>
<rect x="487.8" y="35.7" width="8.3" height="38.9" fill="#FFDBDB" stroke="#fff" stroke-width="0.45"/>
<rect x="487.8" y="74.6" width="8.3" height="38.9" fill="#FFD9D9" stroke="#fff" stroke-width="0.45"/>
<rect x="487.8" y="113.5" width="8.3" height="38.9" fill="#FFD4D4" stroke="#fff" stroke-width="0.45"/>
<rect x="487.8" y="152.4" width="8.3" height="38.9" fill="#FFD9D9" stroke="#fff" stroke-width="0.45"/>
<rect x="496.1" y="35.7" width="8.3" height="38.9" fill="#FFDBDB" stroke="#fff" stroke-width="0.45"/>
<rect x="496.1" y="74.6" width="8.3" height="38.9" fill="#FFF0F0" stroke="#fff" stroke-width="0.45"/>
<rect x="496.1" y="113.5" width="8.3" height="38.9" fill="#FFA1A1" stroke="#fff" stroke-width="0.45"/>
<rect x="496.1" y="152.4" width="8.3" height="38.9" fill="#FF9C9C" stroke="#fff" stroke-width="0.45"/>
<rect x="504.4" y="35.7" width="8.3" height="38.9" fill="#FFF7F7" stroke="#fff" stroke-width="0.45"/>
<rect x="504.4" y="74.6" width="8.3" height="38.9" fill="#F8F9FB" stroke="#fff" stroke-width="0.45"/>
<rect x="504.4" y="113.5" width="8.3" height="38.9" fill="#BEBEBE" stroke="#fff" stroke-width="0.45"/>
<rect x="504.4" y="152.4" width="8.3" height="38.9" fill="#BEBEBE" stroke="#fff" stroke-width="0.45"/>
<rect x="512.6" y="35.7" width="8.3" height="38.9" fill="#FFF7F7" stroke="#fff" stroke-width="0.45"/>
<rect x="512.6" y="74.6" width="8.3" height="38.9" fill="#F8F9FB" stroke="#fff" stroke-width="0.45"/>
<rect x="512.6" y="113.5" width="8.3" height="38.9" fill="#FFB0B0" stroke="#fff" stroke-width="0.45"/>
<rect x="512.6" y="152.4" width="8.3" height="38.9" fill="#FFABAB" stroke="#fff" stroke-width="0.45"/>
<rect x="520.9" y="35.7" width="8.3" height="38.9" fill="#FFF7F7" stroke="#fff" stroke-width="0.45"/>
<rect x="520.9" y="74.6" width="8.3" height="38.9" fill="#FFF7F7" stroke="#fff" stroke-width="0.45"/>
<rect x="520.9" y="113.5" width="8.3" height="38.9" fill="#FFB0B0" stroke="#fff" stroke-width="0.45"/>
<rect x="520.9" y="152.4" width="8.3" height="38.9" fill="#FFB5B5" stroke="#fff" stroke-width="0.45"/>
<rect x="529.2" y="35.7" width="8.3" height="38.9" fill="#BAC2DB" stroke="#fff" stroke-width="0.45"/>
<rect x="529.2" y="74.6" width="8.3" height="38.9" fill="#A0AACD" stroke="#fff" stroke-width="0.45"/>
<rect x="529.2" y="113.5" width="8.3" height="38.9" fill="#FF8080" stroke="#fff" stroke-width="0.45"/>
<rect x="529.2" y="152.4" width="8.3" height="38.9" fill="#FF9C9C" stroke="#fff" stroke-width="0.45"/>
<rect x="537.4" y="35.7" width="8.3" height="38.9" fill="#F2F3F8" stroke="#fff" stroke-width="0.45"/>
<rect x="537.4" y="74.6" width="8.3" height="38.9" fill="#A4AECF" stroke="#fff" stroke-width="0.45"/>
<rect x="537.4" y="113.5" width="8.3" height="38.9" fill="#FFADAD" stroke="#fff" stroke-width="0.45"/>
<rect x="537.4" y="152.4" width="8.3" height="38.9" fill="#BEBEBE" stroke="#fff" stroke-width="0.45"/>
<rect x="545.7" y="35.7" width="8.3" height="38.9" fill="#E0E3EF" stroke="#fff" stroke-width="0.45"/>
<rect x="545.7" y="74.6" width="8.3" height="38.9" fill="#D3D8E8" stroke="#fff" stroke-width="0.45"/>
<rect x="545.7" y="113.5" width="8.3" height="38.9" fill="#FF8F8F" stroke="#fff" stroke-width="0.45"/>
<rect x="545.7" y="152.4" width="8.3" height="38.9" fill="#FF8A8A" stroke="#fff" stroke-width="0.45"/>
<rect x="554" y="35.7" width="8.3" height="38.9" fill="#8C99C2" stroke="#fff" stroke-width="0.45"/>
<rect x="554" y="74.6" width="8.3" height="38.9" fill="#97A2C8" stroke="#fff" stroke-width="0.45"/>
<rect x="554" y="113.5" width="8.3" height="38.9" fill="#FF4F4F" stroke="#fff" stroke-width="0.45"/>
<rect x="554" y="152.4" width="8.3" height="38.9" fill="#FF3030" stroke="#fff" stroke-width="0.45"/>
<rect x="562.2" y="35.7" width="8.3" height="38.9" fill="#99A4C9" stroke="#fff" stroke-width="0.45"/>
<rect x="562.2" y="74.6" width="8.3" height="38.9" fill="#CAD0E3" stroke="#fff" stroke-width="0.45"/>
<rect x="562.2" y="113.5" width="8.3" height="38.9" fill="#FF5959" stroke="#fff" stroke-width="0.45"/>
<rect x="562.2" y="152.4" width="8.3" height="38.9" fill="#FF4F4F" stroke="#fff" stroke-width="0.45"/>
<rect x="570.5" y="35.7" width="8.3" height="38.9" fill="#BEBEBE" stroke="#fff" stroke-width="0.45"/>
<rect x="570.5" y="74.6" width="8.3" height="38.9" fill="#BEBEBE" stroke="#fff" stroke-width="0.45"/>
<rect x="570.5" y="113.5" width="8.3" height="38.9" fill="#BEBEBE" stroke="#fff" stroke-width="0.45"/>
<rect x="570.5" y="152.4" width="8.3" height="38.9" fill="#BEBEBE" stroke="#fff" stroke-width="0.45"/>
<text x="583.3" y="59.3" style="font-size:8.3px">G4long_1</text>
<text x="583.3" y="98.1" style="font-size:8.3px">G4long_2</text>
<text x="583.3" y="137" style="font-size:8.3px">G4short_1</text>
<text x="583.3" y="176" style="font-size:8.3px">G4short_2</text>
<text transform="translate(280.4 195.1) rotate(-90)" style="font-size:8.3px" text-anchor="end">CD68</text>
<text transform="translate(288.7 195.1) rotate(-90)" style="font-size:8.3px" text-anchor="end">CD40</text>
<text transform="translate(297 195.1) rotate(-90)" style="font-size:8.3px" text-anchor="end">HLA-DPA1</text>
<text transform="translate(305.2 195.1) rotate(-90)" style="font-size:8.3px" text-anchor="end">LSP1</text>
<text transform="translate(313.5 195.1) rotate(-90)" style="font-size:8.3px" text-anchor="end">IFI16</text>
<text transform="translate(321.8 195.1) rotate(-90)" style="font-size:8.3px" text-anchor="end">CD8A</text>
<text transform="translate(330.1 195.1) rotate(-90)" style="font-size:8.3px" text-anchor="end">PDCD4</text>
<text transform="translate(338.3 195.1) rotate(-90)" style="font-size:8.3px" text-anchor="end">HLA-DRA</text>
<text transform="translate(346.6 195.1) rotate(-90)" style="font-size:8.3px" text-anchor="end">CAPG</text>
<text transform="translate(354.9 195.1) rotate(-90)" style="font-size:8.3px" text-anchor="end">CD163</text>
<text transform="translate(363.1 195.1) rotate(-90)" style="font-size:8.3px" text-anchor="end">HLA-DRB4</text>
<text transform="translate(371.4 195.1) rotate(-90)" style="font-size:8.3px" text-anchor="end">CD247</text>
<text transform="translate(379.7 195.1) rotate(-90)" style="font-size:8.3px" text-anchor="end">PBXIP1</text>
<text transform="translate(387.9 195.1) rotate(-90)" style="font-size:8.3px" text-anchor="end">CD81</text>
<text transform="translate(396.2 195.1) rotate(-90)" style="font-size:8.3px" text-anchor="end">CD74</text>
<text transform="translate(404.5 195.1) rotate(-90)" style="font-size:8.3px" text-anchor="end">ILF3</text>
<text transform="translate(412.8 195.1) rotate(-90)" style="font-size:8.3px" text-anchor="end">COL4A1</text>
<text transform="translate(421 195.1) rotate(-90)" style="font-size:8.3px" text-anchor="end">CD44</text>
<text transform="translate(429.3 195.1) rotate(-90)" style="font-size:8.3px" text-anchor="end">NCF4</text>
<text transform="translate(437.6 195.1) rotate(-90)" style="font-size:8.3px" text-anchor="end">CD55</text>
<text transform="translate(445.8 195.1) rotate(-90)" style="font-size:8.3px" text-anchor="end">IRF2BP2</text>
<text transform="translate(454.1 195.1) rotate(-90)" style="font-size:8.3px" text-anchor="end">PDCD6</text>
<text transform="translate(462.4 195.1) rotate(-90)" style="font-size:8.3px" text-anchor="end">CD2BP2</text>
<text transform="translate(470.6 195.1) rotate(-90)" style="font-size:8.3px" text-anchor="end">COL6A3</text>
<text transform="translate(478.9 195.1) rotate(-90)" style="font-size:8.3px" text-anchor="end">CD5L</text>
<text transform="translate(487.2 195.1) rotate(-90)" style="font-size:8.3px" text-anchor="end">NGFR</text>
<text transform="translate(495.5 195.1) rotate(-90)" style="font-size:8.3px" text-anchor="end">TGFB1I1</text>
<text transform="translate(503.7 195.1) rotate(-90)" style="font-size:8.3px" text-anchor="end">FN1</text>
<text transform="translate(512 195.1) rotate(-90)" style="font-size:8.3px" text-anchor="end">CXCL12</text>
<text transform="translate(520.3 195.1) rotate(-90)" style="font-size:8.3px" text-anchor="end">LAMC1</text>
<text transform="translate(528.5 195.1) rotate(-90)" style="font-size:8.3px" text-anchor="end">CD36</text>
<text transform="translate(536.8 195.1) rotate(-90)" style="font-size:8.3px" text-anchor="end">NRP1</text>
<text transform="translate(545.1 195.1) rotate(-90)" style="font-size:8.3px" text-anchor="end">CD276</text>
<text transform="translate(553.3 195.1) rotate(-90)" style="font-size:8.3px" text-anchor="end">FGA</text>
<text transform="translate(561.6 195.1) rotate(-90)" style="font-size:8.3px" text-anchor="end">ALCAM</text>
<text transform="translate(569.9 195.1) rotate(-90)" style="font-size:8.3px" text-anchor="end">MIF</text>
<text transform="translate(578.2 195.1) rotate(-90)" style="font-size:8.3px" text-anchor="end">CD3E</text>
<linearGradient id="g272" x1="0" y1="0" x2="0" y2="1">
<stop offset="0.000" stop-color="#FF0000"/>
<stop offset="0.050" stop-color="#FF1919"/>
<stop offset="0.100" stop-color="#FF3232"/>
<stop offset="0.150" stop-color="#FF4C4C"/>
<stop offset="0.200" stop-color="#FF6565"/>
<stop offset="0.250" stop-color="#FF7E7E"/>
<stop offset="0.300" stop-color="#FF9797"/>
<stop offset="0.350" stop-color="#FFB1B1"/>
<stop offset="0.400" stop-color="#FFCACA"/>
<stop offset="0.450" stop-color="#FFE3E3"/>
<stop offset="0.500" stop-color="#FFFCFC"/>
<stop offset="0.550" stop-color="#EBEDF5"/>
<stop offset="0.600" stop-color="#D5DAE9"/>
<stop offset="0.650" stop-color="#BFC6DD"/>
<stop offset="0.700" stop-color="#A9B3D2"/>
<stop offset="0.750" stop-color="#939FC6"/>
<stop offset="0.800" stop-color="#7D8CBB"/>
<stop offset="0.850" stop-color="#6778AF"/>
<stop offset="0.900" stop-color="#5165A3"/>
<stop offset="0.950" stop-color="#3B5198"/>
<stop offset="1.000" stop-color="#253E8C"/>
</linearGradient>
<rect x="647.1" y="88" width="12.8" height="59.8" fill="url(#g272)"/>
<line x1="659.9" y1="97" x2="662.7" y2="97" stroke="#999" stroke-width="0.6"/>
<text x="671.4" y="100" style="font-size:8.3px" text-anchor="middle">1</text>
<line x1="659.9" y1="107.6" x2="662.7" y2="107.6" stroke="#999" stroke-width="0.6"/>
<text x="671.4" y="110.6" style="font-size:8.3px" text-anchor="middle">0.5</text>
<line x1="659.9" y1="118.2" x2="662.7" y2="118.2" stroke="#999" stroke-width="0.6"/>
<text x="671.4" y="121.2" style="font-size:8.3px" text-anchor="middle">0</text>
<line x1="659.9" y1="128.8" x2="662.7" y2="128.8" stroke="#999" stroke-width="0.6"/>
<text x="671.4" y="131.8" style="font-size:8.3px" text-anchor="middle">-0.5</text>
<line x1="659.9" y1="139.4" x2="662.7" y2="139.4" stroke="#999" stroke-width="0.6"/>
<text x="671.4" y="142.4" style="font-size:8.3px" text-anchor="middle">-1</text>
<text transform="translate(640.7 117) rotate(-90)" style="font-size:8.3px" text-anchor="middle">Log2 relative expression level</text>
<path d="M276.9 27.9H574.7M276.9 27.9V35.7M285.2 27.9V35.7M368.5 27.9V30.3M552.9 27.9V33.3M574.7 27.9V35.7" fill="none" stroke="#111" stroke-width="0.7"/>
<path d="M309.0 30.3H428.0M309.0 30.3V32.3M297.6 32.3H320.4M297.6 32.3V34.3M293.5 34.3H301.7M293.5 34.3V35.7M301.7 34.3V35.7M320.4 32.3V34.3M314.1 34.3H326.6M314.1 34.3V34.9M310.0 34.9H318.3M310.0 34.9V35.7M318.3 34.9V35.7M326.6 34.3V35.7M428.0 30.3V32.8M401.2 32.8H454.8M401.2 32.8V33.6M397.8 33.6H434.1M397.8 33.6V33.7M369.8 33.7H425.8M369.8 33.7V34.3M352.4 34.3H387.3M352.4 34.3V34.8M345.2 34.8H359.6M345.2 34.8V34.9M339.0 34.9H351.4M339.0 34.9V35.3M334.8 35.3H343.1M334.8 35.3V35.7M343.1 35.3V35.7M351.4 34.9V35.7M359.6 34.8V35.7M387.3 34.3V34.3M367.9 34.3H406.7M367.9 34.3V35.7M406.7 34.3V34.7M395.8 34.7H417.5M395.8 34.7V34.7M386.5 34.7H405.1M386.5 34.7V34.8M380.3 34.8H392.7M380.3 34.8V35.2M376.2 35.2H384.4M376.2 35.2V35.7M384.4 35.2V35.7M392.7 34.8V35.7M405.1 34.7V35.0M401.0 35.0H409.3M401.0 35.0V35.7M409.3 35.0V35.7M417.5 34.7V35.7M425.8 33.7V35.7M434.1 33.6V35.7M454.8 32.8V33.6M496.7 33.6H520.9M496.7 33.6V33.6M484.8 33.6H508.5M484.8 33.6V33.6M469.5 33.6H500.2M469.5 33.6V33.6M451.1 33.6H487.8M451.1 33.6V34.5M442.3 34.5H459.9M442.3 34.5V35.7M459.9 34.5V34.7M450.6 34.7H469.2M450.6 34.7V35.7M469.2 34.7V34.8M463.0 34.8H475.4M463.0 34.8V35.0M458.9 35.0H467.1M458.9 35.0V35.7M467.1 35.0V35.7M475.4 34.8V35.7M487.8 33.6V34.2M483.7 34.2H492.0M483.7 34.2V35.7M492.0 34.2V35.7M500.2 33.6V35.7M508.5 33.6V35.7M520.9 33.6V35.0M516.8 35.0H525.0M516.8 35.0V35.7M525.0 35.0V35.7M543.6 33.3H562.2M543.6 33.3V33.6M537.4 33.6H549.8M537.4 33.6V33.6M533.3 33.6H541.6M533.3 33.6V35.7M541.6 33.6V35.7M549.8 33.6V35.7M562.2 33.3V34.3M558.1 34.3H566.4M558.1 34.3V35.7M566.4 34.3V35.7" fill="none" stroke="#111" stroke-width="0.7"/>
<rect x="255.9" y="469" width="8.1" height="38.4" fill="#BEBEBE" stroke="#fff" stroke-width="0.45"/>
<rect x="255.9" y="507.4" width="8.1" height="38.4" fill="#BEBEBE" stroke="#fff" stroke-width="0.45"/>
<rect x="255.9" y="545.7" width="8.1" height="38.4" fill="#BEBEBE" stroke="#fff" stroke-width="0.45"/>
<rect x="255.9" y="584" width="8.1" height="38.4" fill="#BEBEBE" stroke="#fff" stroke-width="0.45"/>
<rect x="264" y="469" width="8.1" height="38.4" fill="#BEBEBE" stroke="#fff" stroke-width="0.45"/>
<rect x="264" y="507.4" width="8.1" height="38.4" fill="#BEBEBE" stroke="#fff" stroke-width="0.45"/>
<rect x="264" y="545.7" width="8.1" height="38.4" fill="#BEBEBE" stroke="#fff" stroke-width="0.45"/>
<rect x="264" y="584" width="8.1" height="38.4" fill="#BEBEBE" stroke="#fff" stroke-width="0.45"/>
<rect x="272" y="469" width="8.1" height="38.4" fill="#BEBEBE" stroke="#fff" stroke-width="0.45"/>
<rect x="272" y="507.4" width="8.1" height="38.4" fill="#BEBEBE" stroke="#fff" stroke-width="0.45"/>
<rect x="272" y="545.7" width="8.1" height="38.4" fill="#BEBEBE" stroke="#fff" stroke-width="0.45"/>
<rect x="272" y="584" width="8.1" height="38.4" fill="#BEBEBE" stroke="#fff" stroke-width="0.45"/>
<rect x="280.1" y="469" width="8.1" height="38.4" fill="#F8F9FB" stroke="#fff" stroke-width="0.45"/>
<rect x="280.1" y="507.4" width="8.1" height="38.4" fill="#F8F9FB" stroke="#fff" stroke-width="0.45"/>
<rect x="280.1" y="545.7" width="8.1" height="38.4" fill="#6879AF" stroke="#fff" stroke-width="0.45"/>
<rect x="280.1" y="584" width="8.1" height="38.4" fill="#6C7DB2" stroke="#fff" stroke-width="0.45"/>
<rect x="288.1" y="469" width="8.1" height="38.4" fill="#F8F9FB" stroke="#fff" stroke-width="0.45"/>
<rect x="288.1" y="507.4" width="8.1" height="38.4" fill="#F2F3F8" stroke="#fff" stroke-width="0.45"/>
<rect x="288.1" y="545.7" width="8.1" height="38.4" fill="#808FBC" stroke="#fff" stroke-width="0.45"/>
<rect x="288.1" y="584" width="8.1" height="38.4" fill="#8997C1" stroke="#fff" stroke-width="0.45"/>
<rect x="296.2" y="469" width="8.1" height="38.4" fill="#FFD1D1" stroke="#fff" stroke-width="0.45"/>
<rect x="296.2" y="507.4" width="8.1" height="38.4" fill="#FFD1D1" stroke="#fff" stroke-width="0.45"/>
<rect x="296.2" y="545.7" width="8.1" height="38.4" fill="#8997C1" stroke="#fff" stroke-width="0.45"/>
<rect x="296.2" y="584" width="8.1" height="38.4" fill="#8593BF" stroke="#fff" stroke-width="0.45"/>
<rect x="304.3" y="469" width="8.1" height="38.4" fill="#FFA3A3" stroke="#fff" stroke-width="0.45"/>
<rect x="304.3" y="507.4" width="8.1" height="38.4" fill="#FFA3A3" stroke="#fff" stroke-width="0.45"/>
<rect x="304.3" y="545.7" width="8.1" height="38.4" fill="#8593BF" stroke="#fff" stroke-width="0.45"/>
<rect x="304.3" y="584" width="8.1" height="38.4" fill="#808FBC" stroke="#fff" stroke-width="0.45"/>
<rect x="312.3" y="469" width="8.1" height="38.4" fill="#FFF7F7" stroke="#fff" stroke-width="0.45"/>
<rect x="312.3" y="507.4" width="8.1" height="38.4" fill="#FFEDED" stroke="#fff" stroke-width="0.45"/>
<rect x="312.3" y="545.7" width="8.1" height="38.4" fill="#B1BAD6" stroke="#fff" stroke-width="0.45"/>
<rect x="312.3" y="584" width="8.1" height="38.4" fill="#9DA8CC" stroke="#fff" stroke-width="0.45"/>
<rect x="320.4" y="469" width="8.1" height="38.4" fill="#F2F3F8" stroke="#fff" stroke-width="0.45"/>
<rect x="320.4" y="507.4" width="8.1" height="38.4" fill="#FFE6E6" stroke="#fff" stroke-width="0.45"/>
<rect x="320.4" y="545.7" width="8.1" height="38.4" fill="#BAC2DB" stroke="#fff" stroke-width="0.45"/>
<rect x="320.4" y="584" width="8.1" height="38.4" fill="#C8CEE2" stroke="#fff" stroke-width="0.45"/>
<rect x="328.4" y="469" width="8.1" height="38.4" fill="#FFB8B8" stroke="#fff" stroke-width="0.45"/>
<rect x="328.4" y="507.4" width="8.1" height="38.4" fill="#FFDBDB" stroke="#fff" stroke-width="0.45"/>
<rect x="328.4" y="545.7" width="8.1" height="38.4" fill="#B1BAD6" stroke="#fff" stroke-width="0.45"/>
<rect x="328.4" y="584" width="8.1" height="38.4" fill="#AFB8D5" stroke="#fff" stroke-width="0.45"/>
<rect x="336.5" y="469" width="8.1" height="38.4" fill="#FFD9D9" stroke="#fff" stroke-width="0.45"/>
<rect x="336.5" y="507.4" width="8.1" height="38.4" fill="#FFB8B8" stroke="#fff" stroke-width="0.45"/>
<rect x="336.5" y="545.7" width="8.1" height="38.4" fill="#B1BAD6" stroke="#fff" stroke-width="0.45"/>
<rect x="336.5" y="584" width="8.1" height="38.4" fill="#BAC2DB" stroke="#fff" stroke-width="0.45"/>
<rect x="344.6" y="469" width="8.1" height="38.4" fill="#FFA3A3" stroke="#fff" stroke-width="0.45"/>
<rect x="344.6" y="507.4" width="8.1" height="38.4" fill="#FFA8A8" stroke="#fff" stroke-width="0.45"/>
<rect x="344.6" y="545.7" width="8.1" height="38.4" fill="#B1BAD6" stroke="#fff" stroke-width="0.45"/>
<rect x="344.6" y="584" width="8.1" height="38.4" fill="#BAC2DB" stroke="#fff" stroke-width="0.45"/>
<rect x="352.6" y="469" width="8.1" height="38.4" fill="#FFA3A3" stroke="#fff" stroke-width="0.45"/>
<rect x="352.6" y="507.4" width="8.1" height="38.4" fill="#FFA8A8" stroke="#fff" stroke-width="0.45"/>
<rect x="352.6" y="545.7" width="8.1" height="38.4" fill="#D9DEEB" stroke="#fff" stroke-width="0.45"/>
<rect x="352.6" y="584" width="8.1" height="38.4" fill="#C3CADF" stroke="#fff" stroke-width="0.45"/>
<rect x="360.7" y="469" width="8.1" height="38.4" fill="#FF8C8C" stroke="#fff" stroke-width="0.45"/>
<rect x="360.7" y="507.4" width="8.1" height="38.4" fill="#FFA1A1" stroke="#fff" stroke-width="0.45"/>
<rect x="360.7" y="545.7" width="8.1" height="38.4" fill="#D9DEEB" stroke="#fff" stroke-width="0.45"/>
<rect x="360.7" y="584" width="8.1" height="38.4" fill="#B1BAD6" stroke="#fff" stroke-width="0.45"/>
<rect x="368.7" y="469" width="8.1" height="38.4" fill="#FFF0F0" stroke="#fff" stroke-width="0.45"/>
<rect x="368.7" y="507.4" width="8.1" height="38.4" fill="#FFE6E6" stroke="#fff" stroke-width="0.45"/>
<rect x="368.7" y="545.7" width="8.1" height="38.4" fill="#D3D8E8" stroke="#fff" stroke-width="0.45"/>
<rect x="368.7" y="584" width="8.1" height="38.4" fill="#DBDFEC" stroke="#fff" stroke-width="0.45"/>
<rect x="376.8" y="469" width="8.1" height="38.4" fill="#FFE0E0" stroke="#fff" stroke-width="0.45"/>
<rect x="376.8" y="507.4" width="8.1" height="38.4" fill="#FFE6E6" stroke="#fff" stroke-width="0.45"/>
<rect x="376.8" y="545.7" width="8.1" height="38.4" fill="#DBDFEC" stroke="#fff" stroke-width="0.45"/>
<rect x="376.8" y="584" width="8.1" height="38.4" fill="#D9DEEB" stroke="#fff" stroke-width="0.45"/>
<rect x="384.9" y="469" width="8.1" height="38.4" fill="#FFF7F7" stroke="#fff" stroke-width="0.45"/>
<rect x="384.9" y="507.4" width="8.1" height="38.4" fill="#FFE0E0" stroke="#fff" stroke-width="0.45"/>
<rect x="384.9" y="545.7" width="8.1" height="38.4" fill="#E4E7F1" stroke="#fff" stroke-width="0.45"/>
<rect x="384.9" y="584" width="8.1" height="38.4" fill="#EBEDF4" stroke="#fff" stroke-width="0.45"/>
<rect x="392.9" y="469" width="8.1" height="38.4" fill="#FFD9D9" stroke="#fff" stroke-width="0.45"/>
<rect x="392.9" y="507.4" width="8.1" height="38.4" fill="#FFE0E0" stroke="#fff" stroke-width="0.45"/>
<rect x="392.9" y="545.7" width="8.1" height="38.4" fill="#EBEDF4" stroke="#fff" stroke-width="0.45"/>
<rect x="392.9" y="584" width="8.1" height="38.4" fill="#E4E7F1" stroke="#fff" stroke-width="0.45"/>
<rect x="401" y="469" width="8.1" height="38.4" fill="#FFE0E0" stroke="#fff" stroke-width="0.45"/>
<rect x="401" y="507.4" width="8.1" height="38.4" fill="#FFE0E0" stroke="#fff" stroke-width="0.45"/>
<rect x="401" y="545.7" width="8.1" height="38.4" fill="#F2F3F8" stroke="#fff" stroke-width="0.45"/>
<rect x="401" y="584" width="8.1" height="38.4" fill="#EBEDF4" stroke="#fff" stroke-width="0.45"/>
<rect x="409" y="469" width="8.1" height="38.4" fill="#FFC9C9" stroke="#fff" stroke-width="0.45"/>
<rect x="409" y="507.4" width="8.1" height="38.4" fill="#FFBFBF" stroke="#fff" stroke-width="0.45"/>
<rect x="409" y="545.7" width="8.1" height="38.4" fill="#E4E7F1" stroke="#fff" stroke-width="0.45"/>
<rect x="409" y="584" width="8.1" height="38.4" fill="#F8F9FB" stroke="#fff" stroke-width="0.45"/>
<rect x="417.1" y="469" width="8.1" height="38.4" fill="#FFB0B0" stroke="#fff" stroke-width="0.45"/>
<rect x="417.1" y="507.4" width="8.1" height="38.4" fill="#FFA8A8" stroke="#fff" stroke-width="0.45"/>
<rect x="417.1" y="545.7" width="8.1" height="38.4" fill="#E4E7F1" stroke="#fff" stroke-width="0.45"/>
<rect x="417.1" y="584" width="8.1" height="38.4" fill="#F6F7FA" stroke="#fff" stroke-width="0.45"/>
<rect x="425.2" y="469" width="8.1" height="38.4" fill="#FFA3A3" stroke="#fff" stroke-width="0.45"/>
<rect x="425.2" y="507.4" width="8.1" height="38.4" fill="#FFB0B0" stroke="#fff" stroke-width="0.45"/>
<rect x="425.2" y="545.7" width="8.1" height="38.4" fill="#253E8C" stroke="#fff" stroke-width="0.45"/>
<rect x="425.2" y="584" width="8.1" height="38.4" fill="#2C4490" stroke="#fff" stroke-width="0.45"/>
<rect x="433.2" y="469" width="8.1" height="38.4" fill="#BEBEBE" stroke="#fff" stroke-width="0.45"/>
<rect x="433.2" y="507.4" width="8.1" height="38.4" fill="#BAC2DB" stroke="#fff" stroke-width="0.45"/>
<rect x="433.2" y="545.7" width="8.1" height="38.4" fill="#BEBEBE" stroke="#fff" stroke-width="0.45"/>
<rect x="433.2" y="584" width="8.1" height="38.4" fill="#BEBEBE" stroke="#fff" stroke-width="0.45"/>
<rect x="441.3" y="469" width="8.1" height="38.4" fill="#8997C1" stroke="#fff" stroke-width="0.45"/>
<rect x="441.3" y="507.4" width="8.1" height="38.4" fill="#B1BAD6" stroke="#fff" stroke-width="0.45"/>
<rect x="441.3" y="545.7" width="8.1" height="38.4" fill="#B1BAD6" stroke="#fff" stroke-width="0.45"/>
<rect x="441.3" y="584" width="8.1" height="38.4" fill="#F2F3F8" stroke="#fff" stroke-width="0.45"/>
<rect x="449.3" y="469" width="8.1" height="38.4" fill="#6C7DB2" stroke="#fff" stroke-width="0.45"/>
<rect x="449.3" y="507.4" width="8.1" height="38.4" fill="#7A89B9" stroke="#fff" stroke-width="0.45"/>
<rect x="449.3" y="545.7" width="8.1" height="38.4" fill="#EBEDF4" stroke="#fff" stroke-width="0.45"/>
<rect x="449.3" y="584" width="8.1" height="38.4" fill="#F2F3F8" stroke="#fff" stroke-width="0.45"/>
<rect x="457.4" y="469" width="8.1" height="38.4" fill="#B1BAD6" stroke="#fff" stroke-width="0.45"/>
<rect x="457.4" y="507.4" width="8.1" height="38.4" fill="#97A2C8" stroke="#fff" stroke-width="0.45"/>
<rect x="457.4" y="545.7" width="8.1" height="38.4" fill="#FF8787" stroke="#fff" stroke-width="0.45"/>
<rect x="457.4" y="584" width="8.1" height="38.4" fill="#FF8C8C" stroke="#fff" stroke-width="0.45"/>
<rect x="465.5" y="469" width="8.1" height="38.4" fill="#BEBEBE" stroke="#fff" stroke-width="0.45"/>
<rect x="465.5" y="507.4" width="8.1" height="38.4" fill="#E9EBF3" stroke="#fff" stroke-width="0.45"/>
<rect x="465.5" y="545.7" width="8.1" height="38.4" fill="#BEBEBE" stroke="#fff" stroke-width="0.45"/>
<rect x="465.5" y="584" width="8.1" height="38.4" fill="#BEBEBE" stroke="#fff" stroke-width="0.45"/>
<rect x="473.5" y="469" width="8.1" height="38.4" fill="#E4E7F1" stroke="#fff" stroke-width="0.45"/>
<rect x="473.5" y="507.4" width="8.1" height="38.4" fill="#D9DEEB" stroke="#fff" stroke-width="0.45"/>
<rect x="473.5" y="545.7" width="8.1" height="38.4" fill="#FFA3A3" stroke="#fff" stroke-width="0.45"/>
<rect x="473.5" y="584" width="8.1" height="38.4" fill="#FFABAB" stroke="#fff" stroke-width="0.45"/>
<rect x="481.6" y="469" width="8.1" height="38.4" fill="#B1BAD6" stroke="#fff" stroke-width="0.45"/>
<rect x="481.6" y="507.4" width="8.1" height="38.4" fill="#D3D8E8" stroke="#fff" stroke-width="0.45"/>
<rect x="481.6" y="545.7" width="8.1" height="38.4" fill="#FFA1A1" stroke="#fff" stroke-width="0.45"/>
<rect x="481.6" y="584" width="8.1" height="38.4" fill="#FFA1A1" stroke="#fff" stroke-width="0.45"/>
<rect x="489.6" y="469" width="8.1" height="38.4" fill="#E4E7F1" stroke="#fff" stroke-width="0.45"/>
<rect x="489.6" y="507.4" width="8.1" height="38.4" fill="#EBEDF4" stroke="#fff" stroke-width="0.45"/>
<rect x="489.6" y="545.7" width="8.1" height="38.4" fill="#FF8787" stroke="#fff" stroke-width="0.45"/>
<rect x="489.6" y="584" width="8.1" height="38.4" fill="#FF8C8C" stroke="#fff" stroke-width="0.45"/>
<rect x="497.7" y="469" width="8.1" height="38.4" fill="#EBEDF4" stroke="#fff" stroke-width="0.45"/>
<rect x="497.7" y="507.4" width="8.1" height="38.4" fill="#D9DEEB" stroke="#fff" stroke-width="0.45"/>
<rect x="497.7" y="545.7" width="8.1" height="38.4" fill="#FF7878" stroke="#fff" stroke-width="0.45"/>
<rect x="497.7" y="584" width="8.1" height="38.4" fill="#FF9494" stroke="#fff" stroke-width="0.45"/>
<rect x="505.8" y="469" width="8.1" height="38.4" fill="#C8CEE2" stroke="#fff" stroke-width="0.45"/>
<rect x="505.8" y="507.4" width="8.1" height="38.4" fill="#FFE0E0" stroke="#fff" stroke-width="0.45"/>
<rect x="505.8" y="545.7" width="8.1" height="38.4" fill="#FFF7F7" stroke="#fff" stroke-width="0.45"/>
<rect x="505.8" y="584" width="8.1" height="38.4" fill="#FFA8A8" stroke="#fff" stroke-width="0.45"/>
<rect x="513.8" y="469" width="8.1" height="38.4" fill="#C8CEE2" stroke="#fff" stroke-width="0.45"/>
<rect x="513.8" y="507.4" width="8.1" height="38.4" fill="#C8CEE2" stroke="#fff" stroke-width="0.45"/>
<rect x="513.8" y="545.7" width="8.1" height="38.4" fill="#FFE0E0" stroke="#fff" stroke-width="0.45"/>
<rect x="513.8" y="584" width="8.1" height="38.4" fill="#FFD4D4" stroke="#fff" stroke-width="0.45"/>
<rect x="521.9" y="469" width="8.1" height="38.4" fill="#F2F3F8" stroke="#fff" stroke-width="0.45"/>
<rect x="521.9" y="507.4" width="8.1" height="38.4" fill="#CAD0E3" stroke="#fff" stroke-width="0.45"/>
<rect x="521.9" y="545.7" width="8.1" height="38.4" fill="#FFE6E6" stroke="#fff" stroke-width="0.45"/>
<rect x="521.9" y="584" width="8.1" height="38.4" fill="#FFF0F0" stroke="#fff" stroke-width="0.45"/>
<rect x="529.9" y="469" width="8.1" height="38.4" fill="#FFF7F7" stroke="#fff" stroke-width="0.45"/>
<rect x="529.9" y="507.4" width="8.1" height="38.4" fill="#F2F3F8" stroke="#fff" stroke-width="0.45"/>
<rect x="529.9" y="545.7" width="8.1" height="38.4" fill="#FFE0E0" stroke="#fff" stroke-width="0.45"/>
<rect x="529.9" y="584" width="8.1" height="38.4" fill="#FFD4D4" stroke="#fff" stroke-width="0.45"/>
<rect x="538" y="469" width="8.1" height="38.4" fill="#F2F3F8" stroke="#fff" stroke-width="0.45"/>
<rect x="538" y="507.4" width="8.1" height="38.4" fill="#F2F3F8" stroke="#fff" stroke-width="0.45"/>
<rect x="538" y="545.7" width="8.1" height="38.4" fill="#FFD4D4" stroke="#fff" stroke-width="0.45"/>
<rect x="538" y="584" width="8.1" height="38.4" fill="#FFC7C7" stroke="#fff" stroke-width="0.45"/>
<rect x="546.1" y="469" width="8.1" height="38.4" fill="#F8F9FB" stroke="#fff" stroke-width="0.45"/>
<rect x="546.1" y="507.4" width="8.1" height="38.4" fill="#F2F3F8" stroke="#fff" stroke-width="0.45"/>
<rect x="546.1" y="545.7" width="8.1" height="38.4" fill="#FFC9C9" stroke="#fff" stroke-width="0.45"/>
<rect x="546.1" y="584" width="8.1" height="38.4" fill="#FFE0E0" stroke="#fff" stroke-width="0.45"/>
<rect x="554.1" y="469" width="8.1" height="38.4" fill="#F8F9FB" stroke="#fff" stroke-width="0.45"/>
<rect x="554.1" y="507.4" width="8.1" height="38.4" fill="#F8F9FB" stroke="#fff" stroke-width="0.45"/>
<rect x="554.1" y="545.7" width="8.1" height="38.4" fill="#FFC9C9" stroke="#fff" stroke-width="0.45"/>
<rect x="554.1" y="584" width="8.1" height="38.4" fill="#FFD9D9" stroke="#fff" stroke-width="0.45"/>
<rect x="562.2" y="469" width="8.1" height="38.4" fill="#FFE0E0" stroke="#fff" stroke-width="0.45"/>
<rect x="562.2" y="507.4" width="8.1" height="38.4" fill="#FFE6E6" stroke="#fff" stroke-width="0.45"/>
<rect x="562.2" y="545.7" width="8.1" height="38.4" fill="#FFC9C9" stroke="#fff" stroke-width="0.45"/>
<rect x="562.2" y="584" width="8.1" height="38.4" fill="#FFCCCC" stroke="#fff" stroke-width="0.45"/>
<rect x="570.2" y="469" width="8.1" height="38.4" fill="#FFD4D4" stroke="#fff" stroke-width="0.45"/>
<rect x="570.2" y="507.4" width="8.1" height="38.4" fill="#FFE0E0" stroke="#fff" stroke-width="0.45"/>
<rect x="570.2" y="545.7" width="8.1" height="38.4" fill="#FFB0B0" stroke="#fff" stroke-width="0.45"/>
<rect x="570.2" y="584" width="8.1" height="38.4" fill="#FFA8A8" stroke="#fff" stroke-width="0.45"/>
<rect x="578.3" y="469" width="8.1" height="38.4" fill="#BEBEBE" stroke="#fff" stroke-width="0.45"/>
<rect x="578.3" y="507.4" width="8.1" height="38.4" fill="#BEBEBE" stroke="#fff" stroke-width="0.45"/>
<rect x="578.3" y="545.7" width="8.1" height="38.4" fill="#BEBEBE" stroke="#fff" stroke-width="0.45"/>
<rect x="578.3" y="584" width="8.1" height="38.4" fill="#BEBEBE" stroke="#fff" stroke-width="0.45"/>
<text x="589.1" y="493.1" style="font-size:8.3px">G5long_1</text>
<text x="589.1" y="531.4" style="font-size:8.3px">G5long_2</text>
<text x="589.1" y="569.8" style="font-size:8.3px">G5short_1</text>
<text x="589.1" y="608.1" style="font-size:8.3px">G5short_2</text>
<text transform="translate(263.4 626.2) rotate(-90)" style="font-size:8.3px" text-anchor="end">CD68</text>
<text transform="translate(271.5 626.2) rotate(-90)" style="font-size:8.3px" text-anchor="end">CD40</text>
<text transform="translate(279.6 626.2) rotate(-90)" style="font-size:8.3px" text-anchor="end">CD247</text>
<text transform="translate(287.6 626.2) rotate(-90)" style="font-size:8.3px" text-anchor="end">FGB</text>
<text transform="translate(295.7 626.2) rotate(-90)" style="font-size:8.3px" text-anchor="end">ECM1</text>
<text transform="translate(303.7 626.2) rotate(-90)" style="font-size:8.3px" text-anchor="end">LAMC1</text>
<text transform="translate(311.8 626.2) rotate(-90)" style="font-size:8.3px" text-anchor="end">COL6A3</text>
<text transform="translate(319.9 626.2) rotate(-90)" style="font-size:8.3px" text-anchor="end">PDCD4</text>
<text transform="translate(327.9 626.2) rotate(-90)" style="font-size:8.3px" text-anchor="end">TGFB1I1</text>
<text transform="translate(336 626.2) rotate(-90)" style="font-size:8.3px" text-anchor="end">CD5L</text>
<text transform="translate(344 626.2) rotate(-90)" style="font-size:8.3px" text-anchor="end">CD44</text>
<text transform="translate(352.1 626.2) rotate(-90)" style="font-size:8.3px" text-anchor="end">CD59</text>
<text transform="translate(360.1 626.2) rotate(-90)" style="font-size:8.3px" text-anchor="end">MRC1</text>
<text transform="translate(368.2 626.2) rotate(-90)" style="font-size:8.3px" text-anchor="end">HLA-DRB4</text>
<text transform="translate(376.3 626.2) rotate(-90)" style="font-size:8.3px" text-anchor="end">PDCD6</text>
<text transform="translate(384.3 626.2) rotate(-90)" style="font-size:8.3px" text-anchor="end">HLA-DQB1</text>
<text transform="translate(392.4 626.2) rotate(-90)" style="font-size:8.3px" text-anchor="end">CD2AP</text>
<text transform="translate(400.5 626.2) rotate(-90)" style="font-size:8.3px" text-anchor="end">VIM</text>
<text transform="translate(408.5 626.2) rotate(-90)" style="font-size:8.3px" text-anchor="end">IRF2BP2</text>
<text transform="translate(416.6 626.2) rotate(-90)" style="font-size:8.3px" text-anchor="end">IFI44L</text>
<text transform="translate(424.6 626.2) rotate(-90)" style="font-size:8.3px" text-anchor="end">HLA-DRA</text>
<text transform="translate(432.7 626.2) rotate(-90)" style="font-size:8.3px" text-anchor="end">CD36</text>
<text transform="translate(440.8 626.2) rotate(-90)" style="font-size:8.3px" text-anchor="end">CD8A</text>
<text transform="translate(448.8 626.2) rotate(-90)" style="font-size:8.3px" text-anchor="end">MIF</text>
<text transform="translate(456.9 626.2) rotate(-90)" style="font-size:8.3px" text-anchor="end">COL11A1</text>
<text transform="translate(464.9 626.2) rotate(-90)" style="font-size:8.3px" text-anchor="end">NCF1B</text>
<text transform="translate(473 626.2) rotate(-90)" style="font-size:8.3px" text-anchor="end">NGFR</text>
<text transform="translate(481.1 626.2) rotate(-90)" style="font-size:8.3px" text-anchor="end">BCAP31</text>
<text transform="translate(489.1 626.2) rotate(-90)" style="font-size:8.3px" text-anchor="end">CD63</text>
<text transform="translate(497.2 626.2) rotate(-90)" style="font-size:8.3px" text-anchor="end">CD38</text>
<text transform="translate(505.2 626.2) rotate(-90)" style="font-size:8.3px" text-anchor="end">CD99</text>
<text transform="translate(513.3 626.2) rotate(-90)" style="font-size:8.3px" text-anchor="end">TNFAIP2</text>
<text transform="translate(521.4 626.2) rotate(-90)" style="font-size:8.3px" text-anchor="end">LSP1</text>
<text transform="translate(529.4 626.2) rotate(-90)" style="font-size:8.3px" text-anchor="end">CDK11A</text>
<text transform="translate(537.5 626.2) rotate(-90)" style="font-size:8.3px" text-anchor="end">PDCD5</text>
<text transform="translate(545.5 626.2) rotate(-90)" style="font-size:8.3px" text-anchor="end">HYOU1</text>
<text transform="translate(553.6 626.2) rotate(-90)" style="font-size:8.3px" text-anchor="end">PDCD6IP</text>
<text transform="translate(561.6 626.2) rotate(-90)" style="font-size:8.3px" text-anchor="end">CD9</text>
<text transform="translate(569.7 626.2) rotate(-90)" style="font-size:8.3px" text-anchor="end">CD163</text>
<text transform="translate(577.8 626.2) rotate(-90)" style="font-size:8.3px" text-anchor="end">NCF2</text>
<text transform="translate(585.8 626.2) rotate(-90)" style="font-size:8.3px" text-anchor="end">CD3E</text>
<linearGradient id="g255" x1="0" y1="0" x2="0" y2="1">
<stop offset="0.000" stop-color="#FF0000"/>
<stop offset="0.050" stop-color="#FF1A1A"/>
<stop offset="0.100" stop-color="#FF3333"/>
<stop offset="0.150" stop-color="#FF4C4C"/>
<stop offset="0.200" stop-color="#FF6666"/>
<stop offset="0.250" stop-color="#FF8080"/>
<stop offset="0.300" stop-color="#FF9999"/>
<stop offset="0.350" stop-color="#FFB2B2"/>
<stop offset="0.400" stop-color="#FFCCCC"/>
<stop offset="0.450" stop-color="#FFE6E6"/>
<stop offset="0.500" stop-color="#FFFFFF"/>
<stop offset="0.550" stop-color="#E9EBF3"/>
<stop offset="0.600" stop-color="#D3D8E8"/>
<stop offset="0.650" stop-color="#BCC4DC"/>
<stop offset="0.700" stop-color="#A6B0D0"/>
<stop offset="0.750" stop-color="#909CC4"/>
<stop offset="0.800" stop-color="#7A89B9"/>
<stop offset="0.850" stop-color="#6475AD"/>
<stop offset="0.900" stop-color="#4D61A1"/>
<stop offset="0.950" stop-color="#374E96"/>
<stop offset="1.000" stop-color="#213A8A"/>
</linearGradient>
<rect x="655.2" y="517" width="12.8" height="57" fill="url(#g255)"/>
<line x1="668" y1="529.5" x2="670.8" y2="529.5" stroke="#333" stroke-width="0.6"/>
<text x="675.5" y="532.7" style="font-size:8.9px" text-anchor="middle">1</text>
<line x1="668" y1="545.5" x2="670.8" y2="545.5" stroke="#333" stroke-width="0.6"/>
<text x="675.5" y="548.7" style="font-size:8.9px" text-anchor="middle">0</text>
<line x1="668" y1="561.5" x2="670.8" y2="561.5" stroke="#333" stroke-width="0.6"/>
<text x="675.5" y="564.7" style="font-size:8.9px" text-anchor="middle">-1</text>
<text transform="translate(647 544.2) rotate(-90)" style="font-size:8.3px" text-anchor="middle">Log2 relative expression level</text>
<path d="M259.9 460.9H582.3M259.9 460.9V469.0M268.0 460.9V469.0M276.1 460.9V469.0M385.9 460.9V463.7M459.4 460.9V464.2M582.3 460.9V469.0" fill="none" stroke="#8a8a8a" stroke-width="0.7"/>
<path d="M342.6 463.7H429.2M342.6 463.7V465.3M296.2 465.3H347.7M296.2 465.3V465.7M288.1 465.7H304.3M288.1 465.7V467.3M284.1 467.3H292.2M284.1 467.3V469.0M292.2 467.3V469.0M304.3 465.7V466.7M300.2 466.7H308.3M300.2 466.7V469.0M308.3 466.7V469.0M347.7 465.3V466.2M320.4 466.2H375.0M320.4 466.2V467.0M316.4 467.0H324.4M316.4 467.0V469.0M324.4 467.0V469.0M375.0 466.2V466.2M345.6 466.2H404.5M345.6 466.2V466.7M336.5 466.7H354.6M336.5 466.7V467.1M332.5 467.1H340.5M332.5 467.1V469.0M340.5 467.1V469.0M354.6 466.7V467.2M348.6 467.2H360.7M348.6 467.2V469.0M360.7 467.2V467.6M356.6 467.6H364.7M356.6 467.6V469.0M364.7 467.6V469.0M404.5 466.2V466.7M391.9 466.7H417.1M391.9 466.7V467.7M382.8 467.7H401.0M382.8 467.7V467.7M376.8 467.7H388.9M376.8 467.7V468.0M372.8 468.0H380.8M372.8 468.0V469.0M380.8 468.0V469.0M388.9 467.7V469.0M401.0 467.7V468.2M397.0 468.2H405.0M397.0 468.2V469.0M405.0 468.2V469.0M417.1 466.7V467.5M413.1 467.5H421.1M413.1 467.5V469.0M421.1 467.5V469.0M429.2 463.7V469.0M443.3 464.2H475.6M443.3 464.2V466.2M437.2 466.2H449.3M437.2 466.2V469.0M449.3 466.2V467.1M445.3 467.1H453.4M445.3 467.1V469.0M453.4 467.1V469.0M475.6 464.2V465.8M461.4 465.8H489.7M461.4 465.8V469.0M489.7 465.8V466.6M469.5 466.6H510.0M469.5 466.6V469.0M510.0 466.6V466.6M489.6 466.6H530.3M489.6 466.6V467.2M481.6 467.2H497.7M481.6 467.2V467.2M477.6 467.2H485.6M477.6 467.2V469.0M485.6 467.2V469.0M497.7 467.2V467.9M493.7 467.9H501.7M493.7 467.9V469.0M501.7 467.9V469.0M530.3 466.6V466.6M509.8 466.6H550.8M509.8 466.6V469.0M550.8 466.6V466.7M531.5 466.7H570.2M531.5 466.7V467.2M521.9 467.2H541.0M521.9 467.2V467.3M517.9 467.3H525.9M517.9 467.3V469.0M525.9 467.3V469.0M541.0 467.2V468.0M534.0 468.0H548.1M534.0 468.0V469.0M548.1 468.0V468.0M542.0 468.0H554.1M542.0 468.0V469.0M554.1 468.0V468.4M550.1 468.4H558.1M550.1 468.4V469.0M558.1 468.4V469.0M570.2 466.7V467.5M566.2 467.5H574.3M566.2 467.5V469.0M574.3 467.5V469.0" fill="none" stroke="#111" stroke-width="0.7"/>
<path d="M95.7 121.7h0M103.2 111.0h0M99.0 122.0h0M105.2 158.7h0M100.9 109.1h0M93.0 141.5h0M103.9 116.4h0M103.0 121.2h0M91.6 122.8h0M97.7 128.8h0M100.7 117.1h0M93.7 146.0h0M96.4 116.0h0M94.4 128.5h0M105.4 147.0h0M98.4 135.2h0M103.0 129.3h0M102.4 135.6h0M97.8 100.7h0M102.9 106.8h0M111.8 171.9h0M100.1 133.4h0M104.2 124.6h0M102.6 124.6h0M104.8 154.4h0M91.5 137.9h0M102.1 82.0h0M105.4 114.9h0M105.2 114.5h0M97.3 141.0h0M106.2 166.5h0M102.8 125.7h0M108.0 127.0h0M85.6 157.0h0M100.3 144.8h0M94.4 131.1h0M97.7 150.7h0M104.3 131.6h0M100.1 127.3h0M103.8 128.6h0M99.7 116.1h0M92.2 109.4h0M101.8 122.2h0M107.2 147.8h0M103.2 113.0h0M101.1 140.7h0M91.3 109.7h0M101.4 153.5h0M93.0 108.9h0M99.1 129.9h0M105.8 157.5h0M94.8 136.5h0M99.8 128.2h0M95.2 151.5h0M103.9 154.3h0M100.3 125.0h0M93.3 139.9h0M107.5 124.1h0M96.3 112.4h0M103.6 166.5h0M99.0 123.7h0M99.6 102.0h0M106.8 147.7h0M97.5 112.5h0M102.6 123.7h0M95.7 109.3h0M93.7 137.2h0M87.5 162.8h0M107.0 131.9h0M95.5 139.5h0M92.8 112.0h0M97.4 125.1h0M98.5 166.1h0M90.2 156.3h0M102.3 109.6h0M100.2 114.2h0M99.8 143.8h0M101.9 129.5h0M99.4 118.9h0M105.8 109.7h0M104.9 123.7h0M98.6 135.3h0M96.8 105.7h0M100.7 180.1h0M106.3 161.5h0M105.7 122.0h0M94.3 144.1h0M104.2 110.0h0M101.8 132.3h0M98.2 114.4h0M91.6 102.8h0M105.9 120.8h0M110.5 149.1h0M96.5 163.5h0M100.1 90.1h0M100.4 131.9h0M112.3 144.9h0M105.6 133.7h0M100.9 128.7h0M92.1 129.1h0M103.5 145.5h0M105.7 118.9h0M96.2 152.7h0M97.5 114.5h0M100.6 95.0h0M103.8 163.7h0M97.4 184.9h0M100.9 115.6h0M102.8 151.9h0M99.0 157.6h0M97.4 116.2h0M101.0 148.3h0M96.9 140.8h0M101.9 137.3h0M95.1 117.5h0M96.3 138.6h0M100.7 123.2h0M103.1 133.4h0M100.7 148.4h0M92.4 150.8h0M98.5 129.3h0M101.2 154.7h0M103.0 154.0h0M97.2 97.6h0M98.3 130.6h0M93.0 130.7h0M99.9 117.9h0M102.4 138.9h0M94.2 134.6h0M97.2 123.1h0M107.8 155.5h0M98.0 110.7h0M103.7 153.2h0M87.0 149.7h0M95.4 138.2h0M96.3 94.6h0M93.6 155.9h0M93.9 125.8h0M112.7 177.5h0M101.3 129.5h0M98.9 109.2h0M106.7 134.8h0M104.6 143.6h0M107.3 124.2h0M99.9 113.7h0M99.6 114.5h0M96.9 87.6h0M98.5 124.7h0M92.2 132.3h0M91.7 131.1h0M101.3 127.0h0M103.8 125.5h0M78.1 167.0h0M99.7 110.8h0M106.1 142.4h0M104.5 155.8h0M100.3 99.8h0M100.6 118.4h0M108.1 125.8h0M97.7 150.4h0M96.5 109.6h0M99.5 155.1h0M101.6 147.0h0M104.0 127.5h0M112.2 164.4h0M104.4 139.8h0M97.7 107.8h0M95.3 128.5h0M101.3 165.8h0M99.7 104.5h0M104.2 125.7h0M107.2 117.1h0M98.0 153.4h0M96.7 90.5h0M101.0 83.4h0M107.8 153.4h0M104.7 144.6h0M106.5 130.0h0M110.2 157.9h0M102.2 86.1h0M82.9 151.2h0M108.2 136.1h0M92.1 134.8h0M106.2 142.1h0M97.4 132.4h0M88.1 155.8h0M97.1 139.3h0M99.9 134.1h0M91.5 128.2h0M97.7 136.0h0M93.9 112.5h0M104.4 136.7h0M100.4 132.5h0M100.0 144.4h0M98.7 141.3h0M97.9 157.9h0M99.4 117.8h0M107.0 155.1h0M104.6 146.2h0M108.0 121.4h0M103.8 120.4h0M104.9 138.4h0M110.0 174.8h0M99.3 120.0h0M94.1 123.6h0M103.3 161.2h0M107.3 112.1h0M104.0 145.2h0M113.7 154.8h0M95.6 127.3h0M108.8 133.5h0M105.2 165.5h0M99.5 89.1h0M96.6 143.0h0M97.9 164.1h0M94.1 115.5h0M92.7 137.4h0M96.0 137.1h0M96.4 123.9h0M99.2 146.2h0M94.4 140.0h0M105.7 149.0h0M102.5 127.7h0M98.7 119.4h0M98.2 134.6h0M100.0 148.8h0M103.1 115.5h0M72.7 169.0h0M100.7 152.6h0M97.8 128.6h0M106.1 160.0h0M98.9 128.8h0M104.9 130.7h0M106.9 109.2h0M107.5 150.0h0M98.8 143.5h0M104.2 121.9h0M97.4 184.7h0M102.4 145.1h0M90.9 145.9h0M103.3 110.1h0M107.3 130.3h0M94.2 169.5h0M99.0 115.3h0M95.5 139.6h0M99.7 118.5h0M102.9 149.9h0M97.3 119.6h0M99.7 144.6h0M124.3 160.7h0M98.2 134.5h0M100.8 149.1h0M96.2 106.9h0M92.4 126.2h0M102.5 111.9h0M99.8 126.4h0M97.9 123.5h0M98.0 147.0h0M96.4 114.4h0M100.6 89.1h0M95.6 136.4h0M102.0 133.0h0M97.3 140.3h0M95.8 145.2h0M102.6 126.3h0M107.0 136.0h0M99.8 97.2h0M101.4 129.4h0M108.4 122.2h0M96.9 108.0h0M103.3 136.2h0M100.5 97.1h0M93.0 143.7h0M85.7 147.6h0M92.2 137.7h0M105.3 132.0h0M86.3 160.9h0M91.5 166.9h0M100.9 98.0h0M96.5 131.3h0M104.2 143.9h0M101.7 149.9h0M99.5 138.1h0M99.0 134.5h0M86.8 152.9h0M98.6 150.1h0M106.2 133.6h0M97.2 141.1h0M101.0 108.3h0M102.1 103.8h0M96.9 129.1h0M102.9 118.8h0M86.5 159.5h0M107.7 115.1h0M101.7 130.1h0M100.9 118.5h0M95.1 95.6h0M91.2 180.7h0M100.6 123.6h0M110.1 154.2h0M97.7 159.0h0M104.6 140.6h0M101.1 124.9h0M101.6 127.8h0M88.6 147.3h0M102.2 109.5h0M103.9 129.6h0M116.8 167.3h0M106.3 110.5h0M101.5 109.8h0M102.6 137.0h0M102.1 110.8h0M100.9 153.3h0M93.9 116.6h0M101.7 140.5h0M104.6 114.3h0M98.0 106.8h0M114.2 146.0h0M101.7 130.6h0M99.8 128.6h0M93.1 103.2h0M105.8 113.5h0M93.3 156.9h0M106.4 112.7h0M93.6 167.2h0M98.5 141.5h0M101.4 99.2h0M95.9 159.9h0M101.7 156.4h0M94.9 117.8h0M98.7 106.5h0M99.0 144.5h0M97.8 117.3h0M101.6 126.8h0M97.5 96.2h0M99.6 129.5h0M100.7 107.2h0M110.1 149.7h0M95.9 133.6h0M96.2 103.9h0M106.9 116.4h0M95.5 146.3h0M98.5 114.1h0M95.4 112.1h0M97.3 131.9h0M95.7 135.2h0M103.1 133.8h0M100.0 167.6h0M108.7 125.2h0M100.8 124.2h0M106.4 148.9h0M101.1 112.7h0M68.5 160.3h0M103.8 141.8h0M100.3 140.1h0M81.6 165.4h0M102.3 116.8h0M97.8 108.3h0M100.8 120.9h0M102.9 102.7h0M96.5 152.0h0M103.3 180.7h0M107.7 112.2h0M98.7 156.3h0M103.2 136.8h0M102.0 155.9h0M99.0 105.8h0M101.4 110.0h0M105.7 145.6h0M100.8 126.7h0M97.9 132.6h0M100.2 128.1h0M102.0 115.6h0M104.5 122.5h0M98.4 106.8h0M95.3 143.2h0M93.6 123.0h0M95.9 119.9h0M100.1 140.8h0M101.3 89.6h0M98.6 125.5h0M118.4 144.6h0M105.0 116.3h0M104.9 154.3h0M94.4 154.8h0M101.5 141.9h0M98.2 144.6h0M102.4 104.9h0M99.2 98.7h0M96.4 109.9h0M100.1 139.1h0M98.1 109.5h0M106.7 108.9h0M103.1 135.7h0M101.4 128.6h0M93.7 140.3h0M106.1 147.0h0M102.2 133.6h0M106.4 125.0h0M98.8 89.1h0M100.2 128.3h0M101.0 98.8h0M102.4 88.4h0M101.4 127.7h0M92.7 113.4h0M99.1 138.8h0M98.3 123.5h0M106.5 128.9h0M92.7 134.7h0M96.6 126.2h0M98.6 119.7h0M89.9 149.3h0M102.7 129.7h0M89.8 163.7h0M96.3 123.6h0M96.0 115.4h0M99.1 125.8h0M92.7 123.0h0M98.0 116.2h0M107.2 144.4h0M99.4 134.8h0M98.2 118.0h0M100.4 106.9h0M98.5 120.6h0M95.8 131.5h0M94.3 107.0h0M97.7 101.3h0M104.5 132.4h0M103.8 147.9h0M111.4 156.0h0M99.6 125.8h0M101.5 104.5h0M102.0 138.0h0M98.1 116.8h0M90.2 177.5h0M107.1 124.2h0M99.9 128.8h0M97.1 160.3h0M117.2 160.6h0M93.6 153.7h0M94.1 156.4h0M103.0 149.4h0M103.8 114.4h0M105.4 123.6h0M101.3 158.8h0M103.4 90.3h0M102.2 158.5h0M113.5 148.1h0M106.5 133.1h0M95.3 111.2h0M103.8 112.8h0M108.4 153.4h0M96.5 116.6h0M96.8 165.3h0M102.5 94.0h0M95.7 146.7h0M97.9 128.2h0M95.2 162.7h0M94.9 174.2h0M106.4 158.6h0M96.7 142.4h0M100.7 115.8h0M106.6 123.4h0M100.8 157.5h0M102.8 116.7h0M100.9 102.5h0M99.3 107.2h0M100.9 129.0h0M98.4 107.3h0M102.4 151.2h0M104.5 112.6h0M100.4 104.0h0M103.0 119.0h0M110.0 153.9h0M99.8 126.6h0M97.8 102.3h0M101.8 154.8h0M96.0 142.0h0M91.8 146.7h0M103.8 163.1h0M101.9 107.8h0M96.9 100.5h0M106.1 111.4h0M101.4 124.0h0M101.3 130.6h0M102.4 124.1h0M98.3 145.9h0M104.4 109.3h0M95.6 105.9h0M97.1 108.5h0M93.4 141.4h0M98.2 133.2h0M105.2 86.3h0M100.1 125.4h0M100.8 171.8h0M91.4 120.5h0M104.1 84.5h0M98.1 114.0h0M102.2 109.7h0M96.8 128.6h0M82.7 173.8h0M81.8 170.1h0M114.1 157.5h0M98.8 132.3h0M99.0 113.9h0M102.2 137.1h0M101.2 107.9h0M97.5 135.7h0M107.1 145.3h0M103.2 110.3h0M97.7 150.0h0M96.0 153.3h0M99.9 136.9h0M95.5 161.5h0M97.3 162.8h0M91.9 139.8h0M100.9 141.7h0M107.4 100.2h0M98.5 121.0h0M102.6 165.0h0M87.9 148.7h0M99.5 113.6h0M95.6 90.0h0M107.2 120.7h0M94.0 122.5h0M97.7 89.2h0M102.8 136.4h0M103.4 161.2h0M104.0 161.4h0M102.4 129.2h0M98.9 161.1h0M100.1 126.6h0M95.1 134.9h0M99.2 113.0h0M104.8 113.2h0M101.0 119.4h0M98.9 91.5h0M103.7 111.9h0M98.2 136.3h0M103.4 144.7h0M95.4 148.4h0M99.0 118.7h0M96.7 136.7h0M101.2 87.3h0M94.8 134.3h0M104.3 136.8h0M105.6 88.7h0M107.0 171.8h0M107.3 139.6h0M104.2 108.1h0M107.0 149.9h0M102.6 137.3h0M97.4 114.6h0M98.1 126.3h0M95.9 120.4h0M102.2 116.1h0M99.4 128.8h0M99.6 145.8h0M90.0 161.7h0M77.7 169.4h0M98.3 165.9h0M94.0 141.8h0M99.9 106.3h0M96.1 153.5h0M104.0 138.5h0M101.1 161.7h0M98.7 140.1h0M99.9 106.6h0M98.3 178.3h0M102.8 134.8h0M97.2 177.1h0M106.0 146.2h0M101.5 176.3h0M99.0 127.2h0M105.3 85.4h0M104.2 127.0h0M103.3 103.2h0M98.0 131.0h0M105.4 178.0h0M99.4 118.4h0M82.4 162.3h0M99.1 111.8h0M95.6 123.0h0M101.6 141.3h0M92.5 109.9h0M111.0 149.0h0M105.2 115.0h0M82.9 150.6h0M101.4 117.4h0M120.1 154.2h0M105.4 94.2h0M99.2 123.7h0M105.1 147.9h0M99.4 140.1h0M95.5 110.6h0M92.6 153.4h0M101.1 106.2h0M105.4 119.0h0M92.9 136.4h0M106.7 116.8h0M107.0 145.9h0M115.1 160.3h0M85.8 167.5h0M102.2 174.4h0M92.7 141.4h0M99.6 123.0h0M96.4 149.2h0M93.5 181.3h0M101.3 83.1h0M96.9 154.2h0M102.3 93.5h0M98.4 123.3h0M104.2 142.3h0M102.4 126.5h0M110.8 155.4h0M95.4 129.4h0M95.1 117.5h0M94.6 108.1h0M107.8 86.3h0M105.3 138.2h0M102.1 106.0h0M100.1 147.2h0M111.2 149.6h0M100.0 143.3h0M98.3 151.5h0M100.7 107.4h0M102.5 108.7h0M102.6 100.5h0M98.2 130.0h0M103.8 123.3h0M97.1 142.4h0M100.2 155.3h0M103.8 123.4h0M101.9 154.3h0M99.0 116.3h0M100.2 168.6h0M98.3 133.5h0M101.6 143.6h0M97.2 141.3h0M98.8 153.8h0M93.7 108.0h0M103.2 116.7h0M99.2 102.9h0M103.1 158.6h0M91.7 138.0h0M99.6 156.2h0M97.1 102.7h0M98.7 122.3h0M93.4 143.2h0M103.6 138.1h0M101.9 125.2h0M98.5 162.3h0M99.7 126.4h0M98.9 125.3h0M93.0 142.0h0M98.6 139.2h0M96.4 126.0h0M108.1 148.3h0M111.5 148.3h0M97.7 112.3h0M102.4 124.9h0M102.7 90.9h0M96.4 152.1h0M91.7 169.9h0M104.2 108.8h0M101.4 108.4h0M104.2 146.6h0M93.6 163.0h0M101.5 131.1h0M90.3 169.4h0M96.4 137.7h0M112.9 179.2h0M98.1 135.5h0M99.4 177.8h0M96.7 135.5h0M101.3 95.7h0M101.1 144.7h0M94.7 150.3h0M88.2 164.0h0M91.4 106.9h0M106.9 131.6h0M107.0 91.1h0M93.4 156.9h0M98.3 128.6h0M102.0 98.3h0M100.3 89.4h0M102.2 145.1h0M90.4 156.0h0M95.8 169.6h0M103.2 100.0h0M101.8 132.5h0M105.8 145.1h0M97.7 131.7h0M100.6 188.1h0M92.9 169.4h0M101.7 109.6h0M102.4 121.7h0M95.5 127.2h0M94.1 153.1h0M92.6 117.4h0M103.0 89.1h0M68.6 158.2h0M99.0 130.3h0M103.4 140.4h0M106.7 130.3h0M98.6 150.5h0M98.0 131.0h0M100.1 144.5h0M103.6 133.9h0M95.5 132.1h0M100.6 143.7h0M93.8 137.9h0M98.3 106.5h0M102.0 135.6h0M104.5 136.5h0M102.8 111.2h0M101.3 124.5h0M97.5 128.6h0M101.5 125.7h0M99.7 158.5h0M102.3 120.3h0M102.7 100.4h0M99.8 117.5h0M93.7 165.6h0M107.0 124.1h0M94.3 150.9h0M101.5 135.6h0M98.2 127.6h0M93.8 157.3h0M94.1 101.3h0M105.2 131.9h0M100.2 116.1h0M99.5 103.6h0M100.0 163.5h0M98.9 129.3h0M98.4 178.3h0M100.2 140.3h0M99.8 114.2h0M95.0 109.7h0M103.0 100.9h0M91.4 138.7h0M97.3 123.0h0M103.2 128.0h0M98.8 101.8h0M102.2 138.2h0M97.3 130.2h0M95.3 138.4h0M97.7 116.7h0M95.8 113.1h0M99.9 117.8h0M108.1 144.7h0M103.7 96.0h0M106.8 128.9h0M106.5 93.3h0M106.7 97.3h0M113.4 158.6h0M109.8 152.0h0M101.5 152.5h0M95.6 124.3h0M103.0 128.7h0M96.9 123.9h0M99.8 148.2h0M95.1 120.3h0M104.0 97.4h0M108.0 159.9h0M95.4 124.2h0M105.6 132.7h0M105.2 134.3h0M103.0 88.5h0M101.5 100.8h0M94.0 110.7h0M78.7 146.9h0M104.3 121.7h0M99.1 142.8h0M103.5 140.8h0M95.7 86.0h0M95.5 128.3h0M103.4 178.2h0M97.7 113.2h0M106.7 153.5h0M93.4 155.1h0M105.4 116.0h0M89.0 149.1h0M97.7 110.9h0M99.7 104.5h0M102.2 170.0h0M102.9 132.8h0M87.2 165.1h0M109.1 109.2h0M97.7 160.4h0M96.5 91.4h0M97.3 136.7h0M94.3 156.4h0M98.7 132.6h0M99.1 112.0h0M106.5 160.8h0M101.0 129.8h0M103.1 126.3h0M97.3 139.4h0M96.0 106.6h0M98.5 158.8h0M100.8 138.7h0M99.3 132.7h0M97.2 100.0h0M102.5 125.5h0M106.0 145.6h0M101.7 135.4h0M101.4 128.2h0M102.5 139.1h0M120.5 148.4h0M97.8 147.5h0M104.5 163.3h0M98.1 127.4h0M105.6 121.1h0M104.2 113.1h0M102.9 170.5h0M93.0 111.8h0M104.0 130.3h0M105.8 162.1h0M93.3 127.7h0M102.7 118.2h0M104.4 109.8h0M101.8 130.7h0M95.3 176.8h0M106.8 147.0h0M96.5 121.9h0M103.4 114.5h0M96.1 112.0h0M100.3 128.8h0M96.3 90.2h0M101.4 151.8h0M97.6 140.5h0M94.3 147.4h0M105.9 116.6h0M102.1 143.7h0M101.2 156.1h0M99.5 129.1h0M110.4 148.8h0M104.1 135.2h0M98.9 138.2h0M113.9 155.3h0M90.5 157.9h0M107.6 151.9h0M104.7 108.0h0M100.0 114.8h0M106.7 122.2h0M89.8 157.0h0M91.8 146.6h0M99.5 152.2h0M104.1 123.3h0M98.1 104.8h0M101.3 107.9h0M100.8 134.9h0M100.8 148.2h0M100.5 152.1h0M105.7 116.5h0M102.4 137.4h0M100.5 137.1h0M91.6 183.8h0M102.8 131.2h0M93.4 138.4h0M99.8 123.3h0M92.2 125.1h0M100.4 110.6h0M92.4 187.4h0M84.4 154.5h0M103.4 157.2h0M92.2 136.0h0M100.7 113.9h0M94.3 149.6h0M101.0 113.5h0M108.3 161.9h0M103.0 172.8h0M98.5 159.6h0M100.2 166.9h0M107.1 130.2h0M94.6 136.9h0M101.2 122.4h0M102.1 153.0h0M101.7 131.9h0M95.1 130.8h0M94.2 119.5h0M98.9 135.2h0M99.8 127.8h0M99.6 109.1h0M105.4 114.8h0M106.3 108.6h0M101.7 147.2h0M99.5 135.1h0M95.9 119.0h0M92.3 99.8h0M94.9 160.1h0M94.3 140.5h0M98.0 139.5h0M102.9 136.5h0M78.5 184.0h0M97.1 131.9h0M102.1 123.0h0M106.3 117.6h0M100.5 116.2h0M105.9 156.8h0M103.5 149.1h0M106.6 157.3h0M105.9 151.7h0M95.9 148.7h0M97.2 125.8h0M98.3 111.1h0M96.3 176.9h0M100.0 141.8h0M99.2 109.3h0M103.2 125.0h0M101.4 118.2h0M98.3 163.3h0M103.6 108.1h0M112.3 164.7h0M96.1 125.2h0M94.0 100.2h0M94.2 91.2h0M93.8 117.9h0M97.7 109.6h0M103.7 143.1h0M108.9 102.7h0M105.8 129.4h0M101.9 132.3h0M104.8 161.2h0M102.1 126.1h0M98.7 114.9h0M107.4 147.3h0M105.9 140.8h0M99.7 125.4h0M103.9 135.9h0M100.1 155.0h0M107.4 143.4h0M99.1 135.1h0M101.5 98.4h0M94.8 92.3h0M97.6 150.3h0M95.1 137.5h0M97.0 110.5h0M98.6 134.8h0M104.3 148.1h0M96.2 119.3h0M105.6 168.0h0M98.3 135.0h0M101.8 131.9h0M98.3 138.5h0M97.4 137.6h0M100.7 128.6h0M95.8 113.0h0M102.3 134.4h0M98.5 95.9h0M106.5 149.9h0M97.1 101.0h0M100.5 148.7h0M103.3 133.1h0M101.3 121.3h0M99.1 84.2h0M104.5 109.3h0M97.4 138.6h0M101.1 100.1h0M102.0 134.2h0M99.5 147.2h0M97.5 119.3h0M94.8 141.8h0M98.7 120.9h0M105.4 115.2h0M97.9 123.2h0M101.3 130.1h0M82.0 145.1h0M102.4 126.4h0M100.6 118.3h0M105.8 129.1h0M97.9 152.8h0M101.8 112.2h0M96.1 127.3h0M101.1 110.1h0M98.4 122.4h0M96.8 99.5h0M96.5 133.7h0M124.3 166.3h0M102.2 119.7h0M102.2 133.2h0M100.0 151.3h0M102.4 114.8h0M105.5 123.5h0M100.7 119.4h0M99.4 136.9h0M107.5 123.7h0M100.0 89.7h0M100.0 144.8h0M97.5 129.7h0M104.8 121.3h0M100.2 168.2h0M86.5 165.5h0M86.8 169.2h0M100.8 116.5h0M98.4 148.5h0M111.3 146.6h0M98.2 174.0h0M94.7 149.7h0M103.7 160.7h0M104.2 116.0h0M97.3 122.4h0M105.1 140.1h0M91.9 102.1h0M97.8 135.9h0M106.9 166.8h0M93.8 97.7h0M103.2 160.1h0M106.1 140.1h0M98.5 109.6h0M95.0 104.4h0M97.7 148.5h0M95.0 130.2h0M94.6 135.3h0M99.3 102.9h0M104.4 170.6h0M93.3 108.8h0M104.2 129.1h0M102.8 154.4h0M103.9 81.8h0M97.8 125.7h0M87.1 146.0h0M97.3 140.7h0M96.6 142.4h0M101.1 125.2h0M106.6 114.7h0M92.2 113.7h0M95.5 157.0h0M97.2 166.0h0M82.0 146.4h0M101.4 105.8h0M95.8 137.0h0M106.8 144.5h0M100.2 126.3h0M89.6 161.3h0M96.4 155.1h0M102.6 118.0h0M103.5 136.3h0M92.3 139.6h0M102.1 122.3h0M99.0 144.9h0M95.4 139.8h0M99.4 115.9h0M102.7 128.1h0M103.0 156.3h0M101.9 136.3h0M99.4 114.9h0M94.8 91.0h0M98.7 155.1h0M96.3 135.3h0M102.3 110.9h0M96.8 97.4h0M105.4 117.8h0M97.2 141.7h0M102.5 141.6h0M100.9 120.3h0M98.3 120.6h0M93.5 95.1h0M99.2 155.8h0M103.8 121.6h0M100.1 159.4h0M87.8 166.7h0M101.8 112.7h0M97.4 117.0h0M96.1 152.8h0M105.1 90.2h0M105.6 151.4h0M100.7 155.7h0M93.4 114.8h0M102.1 124.5h0M98.0 133.0h0M108.4 124.4h0M98.0 132.6h0M106.3 133.3h0M101.0 172.1h0M104.5 159.6h0M91.7 115.7h0M91.1 145.3h0M109.0 100.7h0M98.4 123.1h0M92.6 89.1h0M103.9 113.8h0M93.8 92.1h0M92.0 98.0h0M103.5 112.5h0M95.8 148.4h0M99.1 154.4h0M106.9 118.5h0M97.6 118.9h0M102.9 133.4h0M104.6 110.4h0M97.8 104.5h0M106.0 128.5h0M100.3 130.3h0M103.6 129.4h0M103.1 131.7h0M105.9 165.7h0M103.0 125.5h0M98.1 101.7h0M104.4 113.3h0M100.3 136.2h0M97.4 91.9h0M96.3 153.5h0M106.2 158.8h0M103.6 116.7h0M79.0 162.1h0M74.2 182.9h0M104.7 109.6h0M99.0 112.3h0M108.4 113.0h0M102.3 140.4h0M99.7 125.3h0M82.8 151.1h0M97.7 91.8h0M95.5 111.7h0M100.6 112.7h0M92.3 173.3h0M93.6 111.3h0M93.0 98.2h0M105.4 101.6h0M93.9 111.7h0M92.3 129.5h0M102.4 137.1h0M98.2 115.9h0M100.8 120.8h0M100.9 124.1h0M95.9 136.4h0M103.3 90.1h0M99.9 155.7h0M97.9 129.9h0M100.2 142.5h0M106.5 95.5h0M98.5 101.7h0M105.9 112.5h0M90.5 161.0h0M97.9 84.6h0M92.8 117.8h0M104.0 131.9h0M92.8 129.0h0M104.0 137.1h0M94.8 119.9h0M97.9 122.5h0M99.7 137.5h0M111.9 187.2h0M101.1 130.2h0M96.0 118.7h0M98.3 117.6h0M103.2 132.9h0M98.4 119.2h0M96.9 106.3h0M99.7 140.0h0M93.3 98.6h0M107.0 173.4h0M101.4 157.8h0M103.8 149.8h0M97.5 184.4h0M96.2 151.9h0M100.7 101.3h0M94.4 124.1h0M99.0 124.0h0M100.5 132.5h0M101.7 112.9h0M86.0 163.2h0M99.8 107.0h0M101.4 139.8h0M98.1 110.2h0M78.2 164.1h0M96.0 109.2h0M95.5 156.8h0M100.7 91.7h0M99.8 118.6h0M97.1 141.3h0M98.6 102.2h0M95.8 127.1h0M96.2 103.6h0M93.9 112.2h0M95.4 139.0h0M93.4 116.3h0M85.3 148.2h0M97.8 144.5h0M102.5 114.5h0M102.9 188.6h0M104.0 113.2h0M97.6 134.2h0M103.2 111.9h0M101.7 109.9h0M93.2 128.3h0M97.4 152.3h0M101.7 160.9h0M106.8 171.6h0M79.5 159.6h0M93.7 122.6h0M97.1 100.3h0M96.6 103.9h0M86.6 164.6h0M99.8 98.9h0M91.1 146.6h0M104.8 172.5h0M124.4 157.1h0M108.6 151.2h0M96.1 129.6h0M90.0 152.6h0M89.4 163.4h0M103.9 135.4h0M101.5 145.2h0M94.9 119.0h0M105.2 127.6h0M111.2 172.1h0M109.0 158.3h0M99.8 142.8h0M95.7 131.6h0M97.6 146.6h0M116.5 171.9h0M106.4 99.3h0M103.3 148.3h0M100.1 134.9h0M92.2 130.0h0M95.5 127.3h0M106.8 123.4h0M102.0 120.7h0M95.3 110.2h0M105.8 139.0h0M103.7 146.3h0M84.3 153.4h0M103.1 116.1h0M101.0 117.0h0M106.2 117.3h0M98.2 92.6h0M98.9 124.8h0M94.5 112.5h0M89.3 156.5h0M94.7 153.7h0M97.8 136.4h0M106.2 156.8h0M101.0 113.9h0M127.1 159.4h0M96.2 127.9h0M110.6 184.7h0M106.7 154.3h0M99.7 135.3h0M120.9 169.7h0M94.9 127.0h0M99.4 107.5h0M103.0 114.9h0M100.0 144.2h0M100.1 142.6h0M108.7 156.1h0M102.8 115.3h0M97.6 97.8h0M102.8 141.3h0M73.9 167.6h0M101.5 124.9h0M95.2 113.5h0M104.0 126.3h0M97.3 111.0h0M104.7 117.1h0M101.7 120.4h0M108.3 105.6h0M106.1 150.6h0M98.1 148.4h0M96.4 120.3h0M104.4 144.8h0M101.1 123.6h0M101.2 172.4h0M99.3 112.4h0M99.1 110.4h0M102.6 128.5h0M99.6 125.7h0M103.3 153.8h0M105.0 150.0h0M97.5 154.0h0M111.9 152.2h0M103.7 144.1h0M101.0 162.0h0M97.2 164.3h0M95.9 102.6h0M102.6 131.0h0M99.4 134.6h0M99.6 128.8h0M102.8 131.3h0M95.8 116.8h0M107.2 148.0h0M104.0 153.9h0M96.9 157.6h0M89.1 150.0h0M93.6 174.8h0M100.0 148.4h0M90.9 147.2h0M97.0 122.0h0M94.0 149.4h0M91.3 120.7h0M108.7 99.8h0M98.5 99.4h0M94.4 155.5h0M93.1 138.5h0M92.5 123.9h0M100.4 82.8h0M99.5 114.2h0M97.1 102.6h0M102.6 133.4h0M95.4 116.2h0M106.5 113.3h0M103.6 139.7h0M101.6 105.4h0M103.9 90.6h0M106.5 129.4h0M104.2 136.4h0M105.8 143.4h0M106.4 138.7h0M102.6 136.5h0M99.2 146.8h0M99.4 164.0h0M103.4 150.5h0M97.2 122.0h0M112.9 156.0h0M97.2 93.9h0M97.5 145.0h0M99.6 115.9h0M98.0 144.1h0M101.4 92.3h0M96.2 142.6h0M101.9 127.6h0M100.5 98.2h0M108.9 148.1h0M104.3 99.4h0M99.3 147.8h0M96.8 124.1h0M96.4 131.4h0M100.5 125.8h0M93.6 131.1h0M103.6 152.3h0M100.7 113.2h0M94.1 101.4h0M125.9 159.7h0M105.6 99.7h0M96.3 100.9h0M102.1 106.1h0M97.3 97.3h0M107.7 141.6h0M106.0 160.4h0M106.3 137.5h0M100.0 156.7h0M95.5 135.1h0M98.2 151.8h0M100.6 138.4h0M95.2 187.0h0M94.4 121.3h0M104.6 96.5h0M96.6 133.9h0M92.7 138.0h0M117.8 157.9h0M104.0 157.5h0M110.2 160.7h0M102.0 133.0h0M99.9 120.6h0M105.1 131.5h0M105.4 117.1h0M103.0 118.3h0M95.6 147.6h0M96.6 101.8h0M95.5 153.0h0M95.5 135.1h0M96.4 133.5h0M100.4 153.6h0M124.4 159.8h0M101.8 108.2h0M94.4 145.5h0M91.4 130.8h0M106.5 114.2h0M99.2 115.6h0M104.6 143.3h0M95.8 137.5h0M94.4 131.3h0M102.4 139.7h0M114.5 184.6h0M98.1 129.0h0M108.2 123.6h0M115.1 151.8h0M98.2 121.7h0M89.2 169.2h0M101.4 179.0h0M102.7 118.7h0M112.0 150.9h0M94.7 106.9h0M107.6 144.9h0M96.5 129.7h0M98.4 114.3h0M119.3 155.0h0M103.5 101.0h0M100.9 114.6h0M97.2 141.6h0M98.9 110.2h0M102.9 156.4h0M96.8 85.4h0M102.4 136.2h0M103.8 121.1h0M103.2 141.2h0M106.0 120.8h0M103.2 103.2h0M104.4 147.6h0M103.3 166.7h0M98.0 139.6h0M101.5 158.8h0M99.4 146.5h0M97.6 132.3h0M105.4 130.9h0M94.6 101.3h0M101.6 152.3h0M105.8 140.9h0M105.1 97.7h0M101.1 122.6h0M99.5 92.1h0M106.9 165.4h0M95.1 158.0h0M77.1 164.9h0M100.2 150.9h0M101.3 103.5h0M93.8 119.0h0M94.7 139.0h0M114.8 145.7h0M108.0 128.7h0M105.4 126.3h0M105.1 123.7h0M102.5 121.1h0M100.5 132.1h0M102.8 172.7h0M104.1 154.5h0M103.9 148.0h0M99.0 91.9h0M98.4 139.0h0M99.2 114.3h0M99.0 96.9h0M99.7 121.9h0M97.7 138.3h0M91.7 152.4h0M97.6 122.5h0M103.0 104.0h0M96.0 116.6h0M104.6 112.1h0M92.6 113.3h0M98.4 85.8h0M107.7 143.7h0M105.3 125.9h0M98.2 113.6h0M92.6 102.3h0M97.0 184.0h0M101.7 152.6h0M97.2 110.4h0M97.5 124.5h0M106.8 138.4h0M129.8 166.2h0M101.5 159.2h0M106.7 151.6h0M92.4 119.2h0M107.7 156.9h0M92.7 176.0h0M105.0 162.1h0M106.2 142.8h0M105.8 89.1h0M102.1 140.3h0M107.6 108.2h0M101.8 97.5h0M101.6 100.3h0M100.0 132.1h0M103.0 158.7h0M111.9 171.3h0M101.4 124.1h0M105.1 112.0h0M107.3 172.0h0M103.0 122.9h0M99.5 101.4h0M103.9 111.4h0M99.4 144.9h0M102.4 137.7h0M99.4 102.4h0M99.4 143.1h0M104.8 130.4h0M105.4 92.3h0M104.2 160.3h0M101.0 136.1h0M97.1 115.1h0M101.5 133.7h0M102.1 103.2h0M95.9 101.3h0M98.6 144.1h0M94.9 140.8h0M98.6 131.8h0M107.9 156.5h0M101.8 120.9h0M101.2 133.5h0M96.7 111.8h0M92.5 142.9h0M101.4 149.2h0M99.4 88.6h0M93.5 149.2h0M99.8 142.6h0M95.3 145.9h0M98.8 150.0h0M93.6 145.3h0M95.3 138.8h0M102.3 121.3h0M136.2 146.0h0M94.4 120.5h0M95.7 132.1h0M97.2 131.8h0M91.6 168.2h0M107.2 114.3h0M100.6 132.6h0M96.5 93.0h0M104.6 115.0h0M109.0 154.5h0M95.5 160.3h0M102.9 103.5h0M99.0 149.1h0M97.6 114.0h0M97.0 136.2h0M95.6 127.6h0M102.5 94.6h0M97.2 100.0h0M103.1 136.8h0M102.6 95.1h0M101.4 129.3h0M101.1 148.8h0M100.8 102.1h0M97.4 130.0h0M96.1 98.6h0M101.4 132.6h0M94.4 99.7h0M94.5 134.2h0M96.7 99.6h0M104.3 116.4h0M96.9 123.2h0M94.8 140.7h0M95.9 153.8h0M104.0 152.2h0M96.1 129.6h0M86.5 152.1h0M102.6 118.3h0M105.1 116.2h0M101.9 117.5h0M102.3 126.8h0M107.4 128.6h0M101.3 98.0h0M92.2 146.1h0M100.3 136.6h0M99.4 133.2h0M104.6 131.1h0M91.2 144.8h0M99.8 142.0h0M108.4 105.0h0M104.4 142.2h0M100.0 107.2h0M105.1 77.8h0M64.3 168.5h0M98.2 110.4h0M103.2 117.1h0M91.6 115.6h0M106.4 164.4h0M94.7 110.8h0M99.1 152.4h0M99.1 99.0h0M94.9 103.9h0M108.6 136.6h0M93.2 162.2h0M100.4 108.3h0M106.7 136.6h0M96.8 98.3h0M95.0 112.5h0M103.0 157.0h0M100.5 135.9h0M104.8 138.1h0M97.5 130.5h0M97.5 123.7h0M91.3 132.5h0M97.7 114.8h0M100.9 129.7h0M94.5 134.1h0M106.3 130.3h0M103.6 171.2h0M102.2 124.5h0M81.3 151.2h0M95.6 125.7h0M100.2 161.2h0M97.3 107.3h0M97.9 122.8h0M100.3 158.5h0M102.2 122.7h0M105.3 145.2h0M94.2 91.5h0M94.8 117.0h0M102.6 146.0h0M99.3 123.0h0M100.9 128.8h0M101.6 100.9h0M98.7 116.5h0M100.6 153.1h0M107.4 110.2h0M100.6 113.6h0M94.3 128.8h0M99.2 124.3h0M108.3 149.4h0M101.3 123.7h0M114.7 152.6h0M104.0 126.9h0M96.3 136.6h0M100.8 146.6h0M102.2 114.9h0M114.6 161.4h0M106.8 128.8h0M94.4 157.7h0M96.5 89.3h0M107.8 77.2h0M98.9 86.2h0M91.3 115.7h0M99.5 148.0h0M99.9 125.0h0M101.9 139.9h0M105.8 137.8h0M100.3 111.5h0M86.5 163.0h0M100.0 132.8h0M96.5 145.1h0M101.0 134.6h0M101.4 152.7h0M106.0 100.2h0M99.0 86.1h0M114.6 153.0h0M101.7 113.4h0M102.5 114.5h0M91.2 152.2h0M106.6 125.7h0M100.3 96.3h0M98.5 109.0h0M109.0 87.2h0M86.5 154.4h0M96.1 144.8h0M100.6 121.5h0M94.2 120.1h0M99.8 127.6h0M102.9 141.8h0M114.8 190.3h0M103.6 90.6h0M102.0 160.4h0M97.3 116.1h0M100.2 159.9h0M101.6 119.7h0M100.7 137.4h0M92.4 115.1h0M99.9 110.7h0M91.4 101.1h0M97.0 135.0h0M101.1 160.3h0M99.8 115.2h0M106.1 125.6h0M101.7 158.7h0M104.9 96.7h0M123.5 158.2h0M96.2 115.7h0M104.5 99.8h0M92.7 109.7h0M101.7 150.7h0M115.6 160.1h0M105.6 139.8h0M106.7 131.0h0M98.1 132.4h0M100.5 131.7h0M101.2 112.2h0M96.7 122.3h0M104.3 123.9h0M102.4 149.3h0M96.6 117.0h0M106.3 130.0h0M99.8 110.5h0M102.8 80.5h0M99.7 124.7h0M98.2 111.8h0M101.7 151.9h0M92.6 97.1h0M106.3 130.3h0M96.0 143.2h0M93.4 124.3h0M95.4 133.1h0M106.6 134.3h0M95.1 88.2h0M102.2 148.5h0M101.3 138.2h0M100.5 141.8h0M108.7 99.9h0M98.6 135.2h0M104.1 125.2h0M104.1 129.5h0M105.7 161.8h0M97.9 102.0h0M98.9 116.8h0M107.6 131.6h0M97.3 138.3h0M100.3 157.5h0M102.2 137.0h0M106.0 143.1h0M107.0 126.4h0M94.0 131.0h0M99.1 92.6h0M94.8 111.6h0M105.0 142.4h0M89.4 153.8h0M99.0 134.3h0M96.6 149.5h0M104.6 127.2h0M94.5 119.9h0M100.5 114.6h0M105.7 119.6h0M101.3 133.2h0M106.1 115.4h0M99.1 148.9h0M105.8 130.6h0M100.9 122.4h0M104.0 157.4h0M71.7 154.8h0M89.5 165.1h0M105.2 163.6h0M93.9 131.9h0M91.8 93.0h0M98.2 104.5h0M97.7 99.6h0M92.2 112.1h0M103.2 129.5h0M97.3 119.4h0M98.9 120.3h0M106.1 95.9h0M94.6 148.9h0M93.9 160.8h0M101.7 128.1h0M105.0 124.0h0M104.9 95.5h0M102.1 112.5h0M103.3 142.7h0M95.2 115.9h0M102.5 103.4h0M100.7 122.2h0M108.1 136.3h0M108.3 113.4h0M91.8 136.6h0M93.1 170.6h0M87.5 157.6h0M98.1 136.2h0M94.0 135.8h0M105.5 136.2h0M96.5 135.1h0M101.0 161.1h0M103.2 116.9h0M101.8 128.1h0M103.8 127.9h0M94.5 104.7h0M102.6 104.0h0M95.2 99.8h0M103.4 85.1h0M99.7 118.6h0M106.3 163.4h0M103.7 124.0h0M98.5 127.3h0M103.1 142.3h0M96.1 148.8h0M101.4 110.9h0M103.9 107.0h0M98.7 153.9h0M102.3 116.7h0M105.4 132.6h0M99.4 137.5h0M97.5 113.4h0M98.3 130.0h0M104.8 141.3h0M101.9 127.6h0M106.7 173.7h0M99.3 142.2h0M99.7 138.8h0M75.0 160.3h0M98.2 124.9h0M103.2 122.9h0M96.5 142.5h0M97.5 132.9h0M99.3 113.9h0M96.6 105.2h0M113.6 146.2h0M99.8 121.5h0M103.2 105.8h0M94.8 129.8h0M93.6 146.5h0M99.1 136.5h0M97.1 152.5h0M95.4 87.9h0M97.6 142.1h0M106.1 120.8h0M98.4 125.2h0M103.3 115.0h0M102.7 138.0h0M92.4 158.6h0M103.4 91.1h0M102.7 126.8h0M98.2 124.9h0M101.3 100.9h0M95.0 112.1h0M101.0 103.0h0M104.9 126.0h0M108.8 146.1h0M103.1 173.0h0M101.0 134.8h0M99.5 153.5h0M104.2 92.8h0M106.0 102.8h0M93.9 141.8h0M103.4 80.4h0M99.3 167.7h0M84.5 156.6h0M97.4 147.0h0M103.1 150.9h0M96.6 126.4h0M102.7 125.0h0M101.7 107.0h0M101.5 120.0h0M104.3 132.7h0M108.3 144.8h0M100.7 163.3h0M99.6 149.0h0M97.9 138.0h0M96.8 112.3h0M98.2 167.3h0M106.0 160.1h0M103.9 124.5h0M94.3 153.0h0M105.8 121.9h0M97.2 138.7h0M99.6 146.3h0M89.4 159.4h0M100.1 131.5h0M96.1 145.8h0M96.6 143.2h0M98.1 143.7h0M103.7 125.2h0M99.9 126.1h0M100.8 168.0h0M99.3 133.0h0M101.0 120.5h0M92.5 111.8h0M108.6 155.1h0M93.4 146.8h0M96.0 108.9h0M102.2 145.2h0M98.9 101.0h0M101.3 153.3h0M107.9 119.5h0M99.5 132.0h0M100.7 110.6h0M100.8 140.9h0M108.4 120.3h0M120.6 150.1h0M105.6 132.8h0M93.6 124.8h0M100.6 126.1h0M97.6 122.5h0M107.5 149.8h0M102.7 171.1h0M99.9 137.6h0M108.7 149.5h0M94.1 145.2h0M103.1 103.2h0M101.9 133.4h0M89.9 161.7h0M96.2 158.6h0M94.5 121.3h0M94.1 135.9h0M102.9 126.4h0M98.3 123.7h0M103.0 105.5h0M92.3 171.7h0M109.1 125.9h0M100.7 120.3h0M102.0 120.5h0M106.2 154.2h0M94.8 142.5h0M94.9 163.7h0M101.3 125.1h0M97.4 125.1h0M98.1 117.9h0M120.2 151.2h0M104.7 155.1h0M103.4 125.3h0M97.3 91.8h0M92.1 119.6h0M97.6 162.3h0M95.6 111.3h0M100.1 139.6h0M116.4 172.7h0M105.6 114.5h0M103.6 132.6h0M100.1 123.2h0M92.0 189.8h0M99.3 119.2h0M113.4 148.9h0M103.1 109.5h0M84.1 170.5h0M104.9 171.3h0M102.7 139.6h0M97.1 93.9h0M104.8 91.1h0M97.1 143.1h0M94.0 107.0h0M103.2 116.4h0M98.0 123.6h0M99.2 145.8h0M103.0 105.6h0M106.4 108.9h0M103.2 184.6h0M101.0 156.6h0M103.4 122.0h0M101.2 128.0h0M82.7 171.4h0M99.9 132.7h0M100.1 130.7h0M99.6 132.3h0M107.0 108.8h0M100.8 96.4h0M103.7 114.2h0M96.6 154.5h0M104.5 149.0h0M99.0 144.4h0M95.3 130.8h0M107.5 137.4h0M101.2 150.3h0M97.2 108.2h0M101.5 110.4h0M95.9 108.1h0M95.7 131.3h0M94.9 119.3h0M100.4 150.0h0M104.1 152.3h0M98.0 116.4h0M95.4 132.9h0M93.5 155.2h0M94.1 127.4h0M107.3 120.0h0M98.3 125.8h0M103.0 144.5h0M101.8 128.0h0M105.9 136.8h0M94.5 131.5h0M99.3 89.0h0M99.3 94.8h0M101.5 115.3h0M108.1 138.5h0M103.2 135.4h0M98.7 123.6h0M102.8 174.2h0M92.1 129.5h0M94.7 100.7h0M97.8 149.9h0M111.4 180.8h0M101.4 100.1h0M102.7 94.7h0M99.6 118.2h0M98.9 101.4h0M96.7 147.5h0M95.5 103.3h0M100.8 90.9h0M99.2 115.0h0M102.2 123.1h0M99.1 104.0h0M100.3 146.3h0M94.6 100.1h0M94.1 125.9h0M102.9 99.7h0M95.9 108.6h0M102.8 112.7h0M103.6 110.7h0M108.7 154.4h0M105.9 167.5h0M110.5 167.8h0M95.5 119.5h0M100.5 131.3h0M101.3 127.5h0M100.8 116.1h0M99.1 121.6h0M106.0 149.4h0M95.8 127.8h0M101.4 141.1h0M100.5 132.2h0M101.6 137.7h0M97.3 144.0h0M104.7 137.0h0M104.9 124.2h0M103.4 80.3h0M101.4 147.8h0M97.1 117.7h0M99.0 162.3h0M102.5 92.7h0M102.9 136.9h0M97.1 126.3h0M108.8 99.5h0M98.1 107.2h0M102.1 163.0h0M97.9 117.0h0M96.5 115.5h0M99.2 126.0h0M101.6 122.9h0M92.6 103.4h0M101.5 164.2h0M99.8 139.2h0M109.6 150.9h0M95.7 132.7h0M101.3 139.1h0M105.7 132.8h0M98.0 140.0h0M104.2 166.4h0M100.9 130.3h0M93.8 142.8h0M100.7 143.9h0M98.5 92.5h0M98.7 125.2h0M100.3 120.7h0M100.5 136.2h0M103.9 140.7h0M101.9 149.2h0M102.2 167.7h0M95.0 122.7h0M100.4 130.0h0M102.0 135.2h0M107.4 164.7h0M96.2 157.2h0M97.5 107.4h0M106.7 145.0h0M95.8 109.7h0M101.9 114.4h0M95.4 116.4h0M99.5 112.3h0M74.6 156.7h0M95.5 114.2h0M112.6 157.8h0M98.7 92.7h0M94.3 130.9h0M101.2 152.5h0M98.3 121.2h0M91.0 145.9h0M98.5 134.9h0M99.2 155.0h0M132.5 166.2h0M98.7 119.3h0M102.2 119.6h0M94.0 152.4h0M101.0 106.2h0M97.6 107.8h0M96.8 125.9h0M106.0 122.4h0M109.1 133.0h0M106.0 115.0h0M105.6 147.9h0M99.8 117.0h0M105.4 120.3h0M96.1 161.1h0M118.6 188.4h0M94.7 132.1h0M103.3 133.1h0M91.5 128.1h0M94.8 140.6h0M98.0 160.0h0M103.5 131.4h0M107.9 142.6h0M100.6 154.2h0M103.2 132.1h0M101.6 105.7h0M99.6 127.4h0M102.4 153.0h0M91.9 122.1h0M97.8 154.1h0M97.6 164.9h0M95.9 118.3h0M96.0 141.8h0M107.1 104.4h0M97.3 122.4h0M100.3 147.6h0M98.8 124.5h0M97.2 100.8h0M94.8 133.7h0M103.6 153.3h0M107.8 144.3h0M107.7 147.7h0M99.4 156.0h0M102.7 158.5h0M97.8 104.5h0M100.2 111.8h0M94.2 109.0h0M98.8 92.3h0M98.9 133.6h0M108.5 137.3h0M105.7 127.2h0M105.0 122.6h0M92.5 101.5h0M93.9 139.1h0M87.9 151.5h0M97.0 133.0h0M100.5 144.6h0M124.2 146.5h0M97.3 134.4h0M98.8 139.5h0M106.5 163.0h0M103.8 106.9h0M99.9 179.5h0M96.3 123.9h0M102.3 144.1h0M102.5 134.6h0M100.6 147.0h0M104.6 109.3h0M103.8 151.3h0M101.2 173.0h0M102.5 114.4h0M102.4 123.9h0M99.1 146.7h0M96.2 102.4h0M97.2 115.4h0M104.7 148.4h0M92.9 158.2h0M101.2 143.6h0M106.4 105.1h0M95.0 101.9h0M103.3 91.8h0M104.6 146.9h0M106.2 137.5h0M107.2 112.3h0M104.8 159.1h0M103.6 137.7h0M104.2 137.4h0M111.1 166.1h0M99.3 162.1h0M98.6 105.1h0M98.9 127.8h0M98.9 113.2h0M96.9 133.6h0M107.5 146.8h0M101.0 146.2h0M96.1 111.7h0M103.9 118.1h0M101.7 114.6h0M101.3 122.6h0M91.7 106.4h0M97.1 104.1h0M97.9 122.3h0M102.4 130.6h0M99.4 138.6h0M94.4 155.8h0M91.7 163.8h0M91.8 129.0h0M99.2 93.6h0M100.2 106.7h0M96.2 127.2h0M106.2 105.9h0M100.2 132.8h0M108.8 120.4h0M98.0 88.9h0M107.0 112.7h0M103.8 101.3h0M102.2 130.9h0M93.4 137.6h0M95.5 89.4h0M103.5 134.7h0M115.9 157.7h0M94.6 124.7h0M101.4 113.5h0M99.5 106.0h0M102.3 176.1h0M101.9 139.6h0M99.1 100.1h0M108.6 94.9h0M94.7 116.0h0M106.5 117.8h0M98.1 90.1h0M104.3 137.9h0M93.8 137.1h0M101.5 124.1h0M103.5 121.5h0M106.1 164.6h0M104.6 97.8h0M100.9 121.3h0M101.4 130.1h0M101.7 112.4h0M100.8 135.3h0M102.9 98.7h0M104.4 124.9h0M96.5 110.1h0M83.0 146.3h0M99.9 118.0h0M95.8 147.7h0M97.2 141.3h0M98.0 127.6h0M102.4 101.2h0M102.1 109.4h0M99.3 106.2h0M94.2 119.7h0M101.7 106.3h0M108.4 87.9h0M103.7 122.8h0M94.8 116.8h0M101.2 113.5h0M91.9 171.6h0M104.3 128.9h0M102.0 117.3h0M93.4 133.9h0M101.8 104.8h0M93.5 141.1h0M100.7 88.7h0M99.9 157.2h0M97.1 128.6h0M104.0 130.2h0M103.6 139.0h0M104.3 112.5h0M111.0 151.2h0M92.8 156.8h0M107.2 116.4h0M101.1 154.0h0M97.6 118.9h0M102.7 126.9h0M99.4 142.8h0M99.6 135.2h0M104.2 129.7h0M102.2 117.4h0M91.8 141.8h0M102.6 132.3h0M104.1 159.9h0M94.6 133.9h0M116.6 170.9h0M92.4 128.9h0M102.3 138.1h0M98.0 99.6h0M102.8 131.4h0M95.1 106.8h0M101.8 121.8h0M94.0 154.0h0M100.9 182.7h0M105.7 103.2h0M103.9 172.4h0M103.0 114.1h0M106.1 143.9h0M100.3 110.8h0M98.7 167.2h0M92.6 133.5h0M96.0 127.8h0M93.9 111.1h0M99.5 119.7h0M95.7 123.7h0M101.0 116.2h0M96.9 96.6h0M103.0 136.4h0M98.5 110.9h0M105.9 128.9h0M102.6 134.3h0M104.4 115.6h0M100.5 118.8h0M103.0 98.0h0M97.7 104.7h0M97.3 141.6h0M98.3 117.6h0M97.8 126.5h0M85.9 146.7h0M111.1 153.6h0M102.7 123.1h0M101.5 140.9h0M114.7 160.0h0M101.7 131.0h0M105.1 123.9h0M95.0 126.6h0M111.6 156.0h0M99.6 141.9h0M101.0 97.9h0M100.4 146.2h0M101.2 136.3h0M96.7 121.1h0M102.9 140.3h0M100.8 172.7h0M101.0 122.1h0M125.5 160.3h0M100.9 129.6h0M94.8 148.6h0M94.7 166.7h0M104.2 90.0h0M100.6 131.5h0M101.5 108.5h0M89.9 145.6h0M95.6 127.2h0M99.3 137.3h0M105.1 107.6h0M104.2 119.6h0M101.7 91.3h0M102.9 117.6h0M95.0 146.9h0M94.8 120.2h0M90.9 162.3h0M96.4 119.0h0M105.1 150.4h0M95.3 125.2h0M97.7 135.6h0M100.9 124.2h0M109.0 121.3h0M96.4 130.7h0M105.4 130.7h0M101.3 162.9h0M102.0 172.1h0M104.0 116.5h0M106.8 162.7h0M100.9 86.0h0M110.1 145.5h0M102.7 117.9h0M97.9 119.9h0M94.7 127.0h0M99.9 115.8h0M121.1 160.3h0M103.7 130.3h0M107.9 135.2h0M97.5 127.5h0M92.2 145.9h0M97.2 109.5h0M100.7 148.5h0M94.0 121.3h0M92.1 121.6h0M103.5 131.6h0M103.3 117.2h0M101.5 141.4h0M103.0 121.9h0M109.6 153.5h0M98.9 136.2h0M96.3 146.7h0M93.3 90.1h0M104.7 161.0h0M98.8 129.3h0M92.9 108.5h0M97.7 149.0h0M94.9 145.4h0M102.3 159.6h0M102.4 131.0h0M99.5 118.3h0M104.0 138.4h0M94.5 125.8h0M98.0 114.1h0M102.0 102.5h0M108.0 157.2h0M108.0 115.7h0M102.5 143.4h0M89.9 171.8h0M100.0 146.9h0M104.1 115.0h0M104.8 122.6h0M100.1 154.1h0M97.4 94.6h0M98.5 131.0h0M95.9 141.6h0M102.6 122.4h0M101.0 115.6h0M99.5 136.3h0M95.9 162.6h0M94.3 117.6h0M100.3 152.1h0M99.6 131.8h0M84.4 147.0h0M98.6 109.5h0M93.5 161.5h0M93.8 98.1h0M101.4 142.7h0M104.8 107.8h0M98.4 100.8h0M97.2 148.8h0M95.2 145.9h0M104.3 108.4h0M101.6 125.3h0M100.7 127.6h0M107.1 170.4h0M92.4 166.2h0M108.6 117.4h0M103.6 96.4h0M100.9 145.3h0M95.6 148.8h0M102.3 124.8h0M95.8 119.1h0M99.5 116.9h0M103.2 139.3h0M109.3 172.9h0M92.9 99.0h0M98.5 101.5h0M97.6 173.9h0M104.5 121.1h0M93.8 140.6h0M107.0 153.7h0M95.1 107.7h0M93.5 101.6h0M102.5 142.5h0M99.3 115.0h0M103.3 153.4h0M106.2 143.3h0M103.4 137.2h0M103.8 115.2h0M86.5 156.4h0M104.0 107.8h0M101.8 107.9h0M100.7 134.3h0M89.0 155.9h0M100.5 182.5h0M96.8 130.8h0M95.1 145.4h0M99.7 127.2h0M103.1 153.0h0M99.9 129.4h0M106.4 130.8h0M99.5 129.2h0M98.8 123.1h0M101.4 122.9h0M102.6 107.8h0M101.2 146.9h0M94.8 113.4h0M101.3 125.9h0M100.4 151.6h0M96.4 98.1h0M100.7 124.1h0M92.0 127.8h0M98.0 129.3h0M96.3 141.0h0M104.8 160.1h0M97.2 126.0h0M100.5 133.0h0M93.8 135.7h0M99.2 158.6h0M93.8 150.6h0M100.9 125.8h0M97.9 110.8h0M102.6 113.2h0M106.5 178.3h0M92.7 118.3h0M99.7 120.1h0M97.0 114.2h0M95.5 144.6h0M94.2 118.0h0M105.0 107.0h0M96.1 95.4h0M98.2 123.7h0M98.1 158.9h0M96.2 128.1h0M95.5 115.0h0M102.2 133.7h0M100.5 151.9h0M103.4 114.7h0M98.4 147.1h0M97.5 152.4h0M100.8 147.8h0M100.8 102.3h0M98.0 124.0h0M96.7 136.7h0M102.0 110.4h0M91.4 114.0h0M118.0 150.9h0M93.5 110.7h0M96.0 123.8h0M92.7 175.0h0M97.4 155.6h0M102.2 123.4h0M98.4 118.4h0M95.9 135.6h0M100.9 151.3h0M103.1 123.6h0M102.4 169.8h0M94.2 116.8h0M94.7 132.5h0M99.7 129.7h0M100.9 143.6h0M100.8 110.7h0M96.6 180.9h0M95.1 148.4h0M100.3 116.2h0M90.2 144.7h0M104.0 95.4h0M97.1 119.6h0M109.9 146.0h0M98.2 130.9h0M99.3 115.9h0M100.2 142.5h0M100.2 142.1h0M91.8 113.0h0M103.6 126.5h0M104.4 145.5h0M77.8 148.2h0M97.6 114.2h0M94.1 93.1h0M105.3 147.2h0M98.5 113.4h0M103.0 159.3h0M98.9 113.4h0M101.9 92.4h0M100.1 127.0h0M97.3 116.3h0M97.4 122.6h0M106.0 106.0h0M105.3 152.4h0M104.0 114.2h0M92.6 138.0h0M100.8 135.9h0M95.3 128.4h0M95.9 132.9h0M109.5 145.4h0M104.6 149.3h0M97.3 96.4h0M102.9 137.5h0M100.5 92.8h0M101.7 99.5h0M94.5 117.5h0M102.4 140.2h0M103.6 122.6h0M106.4 115.6h0M93.7 99.2h0M99.0 132.3h0M100.7 140.8h0M102.5 96.8h0M106.1 121.3h0M94.7 148.7h0M103.0 117.4h0M101.5 103.4h0M99.3 111.5h0M98.6 109.9h0M99.7 127.3h0M96.1 103.2h0M100.9 141.7h0M96.3 138.0h0M108.0 139.4h0M95.3 142.6h0M104.4 81.8h0M111.2 166.0h0M103.3 150.2h0M100.1 156.0h0M98.0 126.1h0M100.3 163.2h0M97.8 130.4h0M101.9 130.9h0M103.6 118.3h0M70.1 147.4h0M102.1 117.7h0M116.8 161.7h0M104.5 130.6h0M95.3 136.8h0M101.4 141.3h0M109.7 155.6h0M101.4 111.7h0M100.1 96.6h0M100.4 137.2h0M102.9 136.9h0M106.3 118.8h0M92.9 161.0h0M111.1 146.3h0M103.9 108.2h0M92.5 171.7h0M104.9 128.9h0M108.1 136.8h0M113.9 149.9h0M97.9 128.0h0M99.6 139.9h0M104.7 105.8h0M102.3 131.9h0M95.9 142.2h0M93.8 130.7h0M108.6 90.7h0M95.2 124.2h0M100.5 104.1h0M94.0 116.2h0M106.7 153.5h0M103.5 112.4h0M96.4 141.6h0M101.0 114.7h0M101.2 130.1h0M94.3 101.9h0M99.8 131.6h0M100.9 143.9h0M101.4 167.3h0M106.1 113.3h0M104.4 125.7h0M95.7 104.2h0M103.0 141.7h0M91.0 145.3h0M92.5 120.0h0M99.2 104.5h0M92.8 133.1h0M108.0 150.0h0M100.8 151.6h0M98.9 111.1h0M100.0 127.0h0M96.9 121.7h0M94.7 147.7h0M97.5 126.3h0M99.4 124.5h0M104.7 115.6h0M120.1 162.3h0M96.4 146.7h0M98.0 91.7h0M91.9 138.3h0M105.3 131.3h0M103.4 163.1h0M114.6 153.6h0M98.2 121.1h0M110.1 144.6h0M100.2 83.9h0M110.9 163.1h0M91.8 173.1h0M103.2 138.3h0M95.8 156.6h0M107.1 96.8h0M95.4 139.0h0M101.4 117.8h0M99.2 161.3h0M101.4 114.6h0M98.9 115.2h0M100.1 124.6h0M94.4 118.0h0M91.7 125.9h0M99.6 108.8h0M98.4 138.9h0M99.5 117.4h0M103.5 142.4h0M103.5 113.8h0M108.4 135.9h0M101.5 144.3h0M78.6 144.9h0M96.9 97.6h0M134.7 164.7h0M100.5 163.0h0M87.8 152.1h0M100.9 140.2h0M103.1 140.8h0M103.2 144.8h0M111.0 145.9h0M93.2 138.4h0M93.2 124.4h0M101.3 118.4h0M103.9 162.7h0M107.5 119.6h0M101.1 85.0h0M90.2 169.8h0M95.4 116.6h0M96.4 112.3h0M99.3 126.1h0M100.8 134.0h0M90.8 182.5h0M99.1 102.7h0M102.2 136.9h0M101.5 134.2h0M95.9 102.4h0M75.8 182.2h0M106.5 131.1h0M100.8 115.9h0M97.3 86.0h0M99.1 123.2h0M105.3 162.8h0M103.3 146.8h0M108.9 75.2h0M108.0 135.6h0M96.4 131.0h0M108.0 159.1h0M75.4 159.0h0M104.7 143.2h0M98.9 117.0h0M89.6 148.1h0M100.2 143.3h0M102.3 118.9h0M93.5 117.9h0M94.8 107.1h0M95.2 141.8h0M116.5 175.7h0M102.6 129.6h0M120.0 154.0h0M99.3 115.5h0M100.1 115.4h0M100.8 125.4h0M118.2 165.2h0M102.6 148.4h0M108.6 148.3h0M94.3 120.8h0M99.2 106.8h0M99.9 146.4h0M99.6 133.5h0M97.1 144.9h0M93.2 106.3h0M98.4 109.3h0M105.3 129.3h0M92.3 120.2h0M103.8 134.7h0M94.4 125.1h0M96.2 101.9h0M105.0 135.8h0M94.7 113.2h0M102.6 177.0h0M98.6 105.6h0M103.0 126.4h0M104.9 134.8h0M99.8 140.6h0M100.3 97.5h0M94.0 140.8h0M99.6 100.9h0M100.4 83.6h0M101.1 123.7h0M105.4 123.9h0M99.6 130.7h0M97.4 136.0h0M101.4 87.8h0M94.5 98.0h0M102.6 144.6h0M88.4 155.6h0M103.0 113.7h0M101.9 126.6h0M105.8 147.3h0M98.5 111.9h0M98.5 115.2h0M104.4 133.1h0M100.0 112.5h0M98.8 159.3h0M101.2 142.6h0M111.6 150.5h0M96.5 126.5h0M104.9 89.2h0M108.4 128.0h0M102.5 103.5h0M101.2 129.8h0M101.1 138.3h0M98.7 106.4h0M101.8 117.0h0M105.0 95.9h0M101.3 107.3h0M98.7 147.5h0M114.7 186.5h0M93.9 126.1h0M105.8 155.7h0M97.2 160.9h0M100.1 162.5h0M97.7 143.7h0M105.4 133.7h0M102.4 129.1h0M105.8 78.6h0M136.9 156.5h0M94.4 129.5h0M104.9 157.3h0M102.7 151.7h0M101.5 119.9h0M107.5 158.2h0M96.6 103.7h0M102.2 150.2h0M93.6 130.5h0M102.2 109.0h0M99.0 116.6h0M97.4 118.6h0M98.0 159.5h0M110.9 158.6h0M109.0 137.4h0M92.7 100.2h0M97.1 146.2h0M98.6 142.8h0M101.0 91.5h0M86.2 153.0h0M102.4 116.0h0M105.4 112.2h0M94.1 122.0h0M94.3 110.8h0M104.1 132.4h0M108.6 109.8h0M103.3 86.9h0M102.4 122.6h0M92.0 156.8h0M100.4 125.1h0M96.0 112.4h0M102.0 154.3h0M99.5 133.7h0M100.9 96.4h0M103.3 155.6h0M92.0 140.6h0M99.7 129.5h0M98.2 142.9h0M102.3 126.6h0M100.9 161.3h0M99.4 142.6h0M102.0 143.1h0M94.5 136.4h0M98.5 136.4h0M106.1 129.8h0M99.5 137.6h0M93.7 121.7h0M96.6 109.6h0M100.1 108.2h0M83.0 155.8h0M101.9 124.3h0M97.3 113.1h0M101.3 135.9h0M103.0 119.4h0M95.6 134.8h0M95.7 121.4h0M102.4 164.1h0M95.5 119.5h0M98.2 140.8h0M92.6 146.5h0M108.2 136.7h0M101.4 107.8h0M93.6 108.7h0M104.1 124.4h0M100.1 110.5h0M100.4 139.1h0M86.0 158.0h0M100.4 171.9h0M103.0 130.7h0M98.2 133.3h0M97.1 129.2h0M102.2 128.5h0M98.8 102.7h0M113.1 150.7h0M98.0 147.4h0M103.9 84.4h0M98.3 112.8h0M119.0 175.9h0M104.9 149.2h0M98.8 138.2h0M99.7 132.0h0M99.9 125.8h0M103.8 135.2h0M103.8 104.3h0M101.7 156.8h0M98.0 136.5h0M107.3 145.4h0M97.7 112.8h0M95.2 112.5h0M91.4 128.5h0M107.3 147.1h0M94.3 130.3h0M96.7 139.2h0M108.3 113.2h0M104.7 108.4h0M99.1 121.5h0M97.2 134.2h0M90.4 145.1h0M101.0 93.7h0M94.8 104.9h0M97.3 128.5h0M102.8 148.8h0M100.1 138.4h0M100.7 91.6h0M92.2 155.4h0M99.1 153.3h0M94.8 140.5h0M103.8 135.1h0M100.8 104.0h0M102.5 141.1h0M102.2 128.8h0M95.4 99.1h0M96.7 165.9h0M93.9 148.3h0M96.8 132.4h0M102.1 109.0h0M95.1 143.9h0M105.2 119.1h0M101.1 141.0h0M100.5 138.3h0M105.9 100.0h0M103.5 134.7h0M98.0 121.4h0M99.0 112.8h0M102.6 164.4h0M91.1 164.1h0M96.0 118.5h0M104.0 154.3h0M99.2 141.8h0M101.7 137.0h0M102.0 150.1h0M99.7 102.9h0M94.3 125.5h0M98.4 116.8h0M111.3 149.8h0M99.0 109.8h0M111.9 148.6h0M101.4 93.9h0M99.8 144.5h0M96.6 141.9h0M91.8 103.6h0M98.7 114.8h0M98.4 150.9h0M105.3 115.9h0M105.5 129.5h0M103.4 129.0h0M99.6 115.5h0M101.5 118.5h0M94.9 122.0h0M94.6 131.7h0M99.1 146.9h0M103.7 83.9h0M97.8 84.1h0M98.4 103.6h0M105.7 124.8h0M98.2 116.4h0M107.0 157.5h0M110.2 179.2h0M102.9 122.7h0M94.8 119.5h0M103.0 113.3h0M92.6 122.4h0M97.6 174.0h0M96.1 104.0h0M92.5 150.5h0M90.7 149.3h0M100.2 144.9h0M94.3 143.6h0M103.2 165.7h0M99.7 144.7h0M109.1 90.0h0M93.1 153.2h0M111.3 171.4h0M102.6 135.6h0M95.6 140.8h0M94.8 114.1h0M129.0 146.2h0M93.5 133.5h0M89.6 148.4h0M102.8 151.4h0M103.1 121.2h0M98.0 126.7h0M99.7 117.8h0M104.0 148.1h0M95.5 129.1h0M98.6 124.9h0M98.4 103.0h0M105.1 172.1h0M98.7 137.5h0M74.2 168.4h0M116.1 156.7h0M102.0 114.9h0M98.3 124.8h0M99.9 99.3h0M96.4 128.4h0M92.8 155.4h0M94.8 105.4h0M94.3 159.3h0M103.2 129.6h0M99.9 134.3h0M100.7 112.1h0M96.9 109.1h0M103.9 146.1h0M93.1 130.7h0M102.3 142.6h0M98.7 108.1h0M100.5 121.0h0M126.3 149.1h0M97.9 118.8h0M97.5 120.5h0M103.1 168.3h0M101.4 127.7h0M130.4 156.0h0M116.0 183.8h0M101.4 97.6h0M96.6 129.5h0M88.1 153.0h0M108.5 131.9h0M102.3 138.4h0M86.8 186.1h0M104.7 119.6h0M105.0 151.5h0M107.0 143.3h0M109.1 120.7h0M107.6 159.8h0M106.4 109.4h0M99.0 117.7h0M94.9 132.6h0M98.8 133.5h0M104.3 124.8h0M106.8 134.4h0M105.9 161.6h0M101.1 152.4h0M96.9 129.5h0M98.2 165.9h0M102.0 132.7h0M102.4 136.9h0M105.7 126.0h0M103.6 136.4h0M97.7 119.9h0M98.5 108.4h0M95.7 154.0h0M105.0 164.5h0M105.5 146.6h0M105.3 182.1h0M92.0 44.4h0M93.3 43.2h0M94.2 42.3h0M96.7 39.9h0M93.3 43.2h0M107.1 29.8h0M101.4 35.4h0M98.7 37.9h0M101.0 35.7h0M97.5 39.1h0M95.8 40.7h0M98.2 38.4h0M96.9 39.7h0M93.1 43.4h0M95.1 56.5h0M102.5 49.3h0M97.2 54.5h0M99.4 52.3h0M107.0 44.9h0M96.4 55.2h0M96.9 54.8h0M97.1 54.6h0M105.4 46.5h0M97.3 54.4h0M102.8 49.0h0M101.0 50.8h0M94.5 65.9h0M102.4 58.2h0M103.6 57.1h0M102.8 57.8h0M93.2 67.1h0M101.9 58.7h0M105.6 55.1h0M91.8 68.5h0M93.8 66.6h0M97.7 62.8h0M92.5 67.8h0M96.0 64.4h0M95.4 71.3h0M98.4 68.3h0M92.8 73.8h0M95.5 71.2h0M101.1 65.7h0M104.4 62.5h0M103.2 63.6h0M97.2 69.5h0M102.7 64.2h0M94.6 72.1h0M102.3 64.6h0M106.6 65.2h0M106.2 65.6h0M96.9 74.6h0M99.9 71.7h0M103.0 68.7h0M97.7 73.8h0M100.5 71.1h0M93.2 78.2h0M96.6 74.9h0M91.9 79.5h0M96.1 75.4h0M100.0 71.6h0M95.4 76.1h0M97.0 74.5h0M96.3 75.2h0M97.5 78.0h0M98.9 76.6h0M98.3 77.3h0M97.7 77.8h0M94.2 81.2h0M97.8 77.7h0M95.7 79.7h0M98.1 77.4h0M99.4 76.2h0M91.3 84.0h0M93.2 82.2h0M97.5 78.0h0M95.2 80.3h0M98.6 76.9h0M97.1 78.4h0M97.1 78.4h0M102.4 76.6h0M100.8 78.2h0M93.4 85.3h0M107.1 72.0h0M104.6 74.5h0M94.3 84.5h0M100.0 78.9h0M94.8 84.0h0M91.8 86.9h0M103.1 75.9h0M97.9 81.0h0M101.9 77.1h0M102.3 76.7h0M96.4 82.4h0M94.0 84.8h0M98.8 80.1h0M101.9 77.1h0M108.8 70.3h0M96.2 82.6h0M98.4 80.5h0M96.6 85.1h0M95.0 86.7h0M98.6 83.2h0M94.0 87.7h0M92.6 89.0h0M93.2 88.4h0M94.3 87.4h0M96.5 85.2h0M101.4 80.4h0M94.1 87.5h0M102.5 79.4h0M94.4 87.3h0M101.4 80.5h0M95.1 86.6h0M94.1 87.6h0M99.5 82.3h0M96.8 84.9h0M95.2 86.5h0M101.1 83.3h0M105.0 79.5h0M104.4 80.1h0M101.9 82.5h0M106.4 78.1h0M91.5 92.6h0M93.1 91.1h0M96.5 87.8h0M92.2 92.0h0M97.8 86.5h0M102.9 81.5h0M99.4 85.0h0M101.9 82.5h0M105.9 78.6h0M100.1 84.3h0M96.4 87.9h0M92.1 92.1h0M94.7 89.6h0M98.8 85.6h0M99.3 85.1h0M98.2 86.1h0M106.1 78.4h0M91.9 10.5h0M94.3 10.5h0M96.8 10.5h0M143.3 149.4h0M172.6 164.4h0M166.4 189.4h0M158.7 176.9h0M138.7 188.4h0M141.8 146.9h0M98.7 194.4h0M104.8 191.9h0M114.1 198.4h0M91.0 193.4h0M81.7 191.9h0M123.3 193.4h0" stroke="#BEBEBE" stroke-width="1.9" stroke-linecap="square" fill="none"/>
<path d="M86.0 133.1h0M79.3 140.3h0M90.2 138.9h0M83.6 140.8h0M85.8 136.1h0M89.6 119.4h0M80.7 110.3h0M84.2 119.9h0M89.2 142.7h0M82.4 142.8h0M80.2 115.1h0M87.2 125.6h0M90.3 121.1h0M90.9 144.0h0M90.0 136.9h0M90.9 110.2h0M90.8 135.8h0M87.4 125.0h0M88.4 142.8h0M90.1 115.6h0M90.6 141.9h0M89.2 120.1h0M72.6 131.6h0M87.7 109.1h0M90.8 134.0h0M88.9 137.3h0M83.4 101.6h0M81.5 128.3h0M87.5 128.2h0M85.2 133.9h0M87.4 116.2h0M90.6 123.8h0M90.8 108.2h0M84.7 142.2h0M82.1 99.4h0M89.2 137.5h0M85.2 129.9h0M88.6 141.0h0M89.1 109.5h0M83.9 140.2h0M89.7 104.5h0M90.7 142.9h0M90.4 141.3h0M88.7 142.1h0M87.5 138.8h0M75.2 142.5h0M89.7 123.6h0M90.7 119.4h0M90.2 136.2h0M84.3 135.4h0M89.2 122.5h0M87.2 134.0h0M85.2 112.6h0M88.8 102.1h0M90.2 134.2h0M87.8 137.4h0M90.0 125.1h0M81.6 104.0h0M91.2 111.6h0M88.9 108.7h0M87.3 140.5h0M90.7 110.6h0M86.2 109.8h0M86.6 109.6h0M89.7 134.2h0M88.2 97.2h0M90.5 113.1h0M72.7 108.2h0M87.5 99.1h0M89.0 132.4h0M81.1 127.3h0M89.4 137.3h0M89.6 111.8h0M87.9 133.0h0M90.7 98.4h0M89.1 121.8h0M87.9 137.4h0M85.0 132.0h0M80.9 106.2h0M83.2 103.5h0M88.8 140.6h0M89.9 138.9h0M88.9 127.7h0M90.6 123.0h0M88.8 134.2h0M83.7 141.6h0M87.8 95.0h0M90.4 137.1h0M90.4 97.4h0M85.4 139.0h0M89.1 112.4h0M90.3 117.4h0M90.1 133.0h0M89.7 127.9h0M79.2 136.1h0M91.0 124.1h0M88.1 104.8h0M84.7 135.5h0M91.0 138.8h0M90.0 118.7h0M76.3 124.6h0M89.2 108.8h0M85.9 121.5h0M87.7 134.8h0M88.8 134.1h0M84.3 140.4h0M89.2 130.6h0M90.9 126.6h0M90.0 130.5h0M90.0 113.7h0M86.9 132.7h0M89.4 139.3h0M89.1 104.4h0M81.6 143.7h0M90.5 134.9h0M86.3 114.5h0M75.6 137.5h0M86.5 137.4h0M83.8 118.1h0M80.8 140.1h0M89.6 128.9h0M90.6 141.3h0M67.3 139.9h0M88.7 135.8h0M89.1 129.0h0M86.1 131.2h0M81.5 123.7h0M90.1 102.9h0M91.1 91.2h0M86.7 108.1h0M74.2 104.5h0M90.1 121.5h0M84.0 137.6h0M84.0 139.1h0M89.8 141.8h0M90.9 112.5h0M90.3 102.1h0M90.2 134.6h0M80.9 112.9h0M90.8 132.6h0M88.6 140.1h0M66.7 105.0h0M91.3 119.9h0M84.4 137.6h0M83.2 113.5h0M90.2 101.9h0M90.7 100.6h0M89.6 124.5h0M88.7 129.8h0M75.9 103.8h0M88.2 126.1h0M87.4 121.4h0M91.1 101.1h0M89.6 109.7h0M85.5 130.7h0M81.9 129.0h0M87.2 119.6h0M88.8 108.0h0M83.6 112.6h0M91.0 118.9h0M76.1 104.3h0M87.0 143.9h0M91.0 119.9h0M90.6 93.3h0M91.1 132.5h0M88.4 138.2h0M82.5 138.7h0M90.3 117.9h0M86.9 95.9h0M91.2 143.4h0M82.5 134.0h0M90.1 113.1h0M81.0 120.0h0M83.0 100.2h0M89.7 117.8h0M76.6 104.2h0M74.1 115.3h0M88.5 116.2h0M90.5 106.6h0M91.2 101.2h0M82.8 140.7h0M78.7 121.3h0M87.9 108.0h0M83.2 127.8h0M89.0 107.8h0M86.7 135.8h0M80.7 128.4h0M90.2 129.4h0M89.5 128.0h0M77.2 133.9h0M89.4 104.3h0M86.3 111.9h0M88.1 132.4h0M91.0 105.2h0M90.9 120.8h0M84.3 130.7h0M87.4 142.6h0M84.6 114.1h0M75.1 139.1h0M85.9 101.6h0M89.8 143.1h0M86.7 137.4h0M91.0 122.1h0M90.6 136.4h0M89.0 47.4h0M89.5 46.9h0M91.0 45.4h0M87.0 64.4h0M90.4 61.1h0M88.8 71.4h0M88.5 71.8h0M90.1 70.2h0M91.1 69.2h0M87.2 79.3h0M88.2 78.2h0M88.2 78.3h0M87.4 79.0h0M90.0 76.5h0M89.6 81.8h0M91.2 80.1h0M88.1 83.2h0M89.7 85.6h0M91.0 84.4h0M91.3 84.1h0M90.1 85.2h0M88.9 89.8h0M84.5 94.0h0M87.5 94.0h0M86.7 94.8h0M89.0 92.5h0M86.7 94.7h0M84.6 96.8h0M89.0 92.5h0M91.1 93.1h0M89.9 94.2h0M86.4 97.7h0M90.9 93.3h0M77.7 10.5h0M90.0 10.5h0M52.5 84.5h0M55.5 94.5h0M69.6 66.5h0M82.3 68.5h0M72.8 78.5h0M71.7 88.5h0M77.1 92.0h0" stroke="#66C2A5" stroke-width="1.9" stroke-linecap="square" fill="none"/>
<path d="M117.3 119.4h0M110.0 136.0h0M114.7 123.3h0M116.7 131.6h0M120.3 132.6h0M110.0 126.2h0M111.1 136.6h0M113.7 130.1h0M110.8 100.8h0M113.5 124.9h0M112.5 122.1h0M110.3 130.8h0M109.7 114.2h0M109.6 116.1h0M117.4 119.1h0M115.9 133.8h0M109.4 121.4h0M109.8 89.1h0M111.3 123.3h0M109.4 104.5h0M109.6 95.7h0M111.5 131.4h0M110.6 127.7h0M114.1 122.5h0M111.6 127.3h0M112.5 125.5h0M119.3 125.3h0M114.4 93.2h0M112.0 107.4h0M117.5 141.8h0M111.6 141.8h0M115.0 143.6h0M109.3 87.0h0M113.6 119.4h0M116.8 126.5h0M109.6 112.9h0M109.5 115.9h0M118.4 87.4h0M112.0 131.1h0M116.3 78.2h0M111.3 113.6h0M110.9 109.0h0M114.1 115.1h0M110.5 108.0h0M121.2 137.5h0M109.7 111.8h0M114.0 142.4h0M115.2 73.1h0M114.5 140.3h0M109.8 143.2h0M120.0 112.9h0M114.4 142.2h0M111.4 108.0h0M111.9 109.1h0M110.2 127.5h0M113.3 125.0h0M112.2 74.5h0M109.7 109.5h0M117.1 142.6h0M109.6 119.3h0M109.5 130.9h0M112.6 117.2h0M116.4 143.0h0M116.6 127.2h0M112.5 141.3h0M110.8 100.9h0M119.1 135.7h0M110.8 104.8h0M126.7 133.3h0M111.6 130.5h0M110.9 128.6h0M114.6 142.7h0M111.8 94.9h0M109.2 112.0h0M112.4 106.5h0M110.8 125.9h0M109.3 104.0h0M111.9 110.0h0M114.3 141.4h0M110.5 127.3h0M116.5 110.8h0M125.8 137.2h0M111.8 142.5h0M117.7 107.1h0M114.5 141.4h0M113.6 113.7h0M110.9 136.0h0M122.8 141.2h0M114.6 95.1h0M128.7 136.3h0M110.3 118.9h0M110.9 72.8h0M111.2 139.8h0M109.8 97.1h0M118.6 120.0h0M109.3 108.8h0M114.8 130.8h0M118.4 136.8h0M118.9 139.6h0M118.4 128.8h0M113.5 99.7h0M118.0 131.3h0M113.0 116.8h0M110.8 126.3h0M122.5 137.3h0M110.2 97.7h0M120.2 119.9h0M110.2 107.7h0M109.4 122.9h0M110.3 110.6h0M110.3 81.8h0M112.2 96.0h0M117.1 128.5h0M110.8 110.9h0M109.8 79.7h0M110.6 106.1h0M111.0 124.7h0M110.8 105.4h0M109.8 91.7h0M117.1 111.4h0M110.6 139.0h0M118.0 136.4h0M113.0 103.1h0M118.2 112.7h0M111.5 140.9h0M120.4 132.3h0M118.7 130.9h0M113.6 140.5h0M114.9 122.5h0M111.6 144.2h0M117.4 88.3h0M120.7 142.0h0M109.9 124.1h0M112.4 100.9h0M109.7 120.0h0M109.3 124.6h0M125.1 121.1h0M112.3 111.4h0M110.8 125.2h0M121.5 101.1h0M114.8 138.7h0M117.0 100.4h0M120.9 141.0h0M109.4 104.6h0M112.2 134.5h0M109.6 132.6h0M111.4 143.4h0M110.5 137.3h0M121.7 135.6h0M127.8 120.4h0M113.7 120.1h0M112.6 103.7h0M109.4 129.8h0M118.3 140.5h0M112.6 134.9h0M128.7 140.9h0M117.8 107.5h0M120.6 104.2h0M110.7 112.8h0M113.3 124.3h0M111.2 131.4h0M117.4 122.3h0M112.4 117.1h0M121.7 137.0h0M109.1 127.4h0M110.3 133.5h0M122.7 104.6h0M120.0 138.4h0M109.3 113.4h0M111.7 137.2h0M111.4 113.0h0M110.7 134.1h0M111.7 130.2h0M129.6 128.3h0M117.0 142.8h0M110.3 125.5h0M112.2 130.6h0M110.2 105.8h0M110.0 132.9h0M112.3 139.2h0M112.8 126.2h0M109.4 114.0h0M111.0 124.1h0M110.7 115.5h0M109.2 106.5h0M116.3 90.2h0M109.2 90.1h0M118.6 119.4h0M111.9 127.5h0M111.7 118.8h0M110.9 137.3h0M111.3 118.3h0M120.6 113.0h0M109.2 27.7h0M118.7 19.5h0M115.6 36.0h0M114.8 49.5h0M117.1 52.0h0M158.7 104.5h0M158.7 135.4h0M177.2 142.4h0M146.4 142.9h0" stroke="#FC8D62" stroke-width="1.9" stroke-linecap="square" fill="none"/>
<line x1="45.8" y1="10.5" x2="45.8" y2="207.3" stroke="#333" stroke-width="0.8"/>
<line x1="45.8" y1="207.3" x2="184" y2="207.3" stroke="#333" stroke-width="0.8"/>
<line x1="43.6" y1="194.4" x2="45.8" y2="194.4" stroke="#333" stroke-width="0.6"/>
<text x="42.8" y="197.4" style="font-size:8.2px" text-anchor="end" fill="#333">0</text>
<line x1="43.6" y1="144.4" x2="45.8" y2="144.4" stroke="#333" stroke-width="0.6"/>
<text x="42.8" y="147.4" style="font-size:8.2px" text-anchor="end" fill="#333">1</text>
<line x1="43.6" y1="94.5" x2="45.8" y2="94.5" stroke="#333" stroke-width="0.6"/>
<text x="42.8" y="97.5" style="font-size:8.2px" text-anchor="end" fill="#333">2</text>
<line x1="43.6" y1="44.5" x2="45.8" y2="44.5" stroke="#333" stroke-width="0.6"/>
<text x="42.8" y="47.5" style="font-size:8.2px" text-anchor="end" fill="#333">3</text>
<line x1="69.4" y1="207.3" x2="69.4" y2="209.5" stroke="#333" stroke-width="0.6"/>
<text x="69.4" y="216.9" style="font-size:8.2px" text-anchor="middle" fill="#333">-2</text>
<line x1="100.2" y1="207.3" x2="100.2" y2="209.5" stroke="#333" stroke-width="0.6"/>
<text x="100.2" y="216.9" style="font-size:8.2px" text-anchor="middle" fill="#333">0</text>
<line x1="131" y1="207.3" x2="131" y2="209.5" stroke="#333" stroke-width="0.6"/>
<text x="131" y="216.9" style="font-size:8.2px" text-anchor="middle" fill="#333">2</text>
<line x1="161.8" y1="207.3" x2="161.8" y2="209.5" stroke="#333" stroke-width="0.6"/>
<text x="161.8" y="216.9" style="font-size:8.2px" text-anchor="middle" fill="#333">4</text>
<text transform="translate(28 117.5) rotate(-90)" style="font-size:9.8px;font-weight:bold" text-anchor="middle">-log10 CV</text>
<text x="118" y="228" style="font-size:9.8px;font-weight:bold" text-anchor="middle">Log2 G4shortvsG4long</text>
<text x="187" y="93.9" style="font-size:8.45px">Regulated Type</text>
<circle cx="195.8" cy="103.0" r="1.25" fill="#66C2A5"/>
<text x="204" y="105.9" style="font-size:8.3px">Down</text>
<circle cx="195.8" cy="113.6" r="1.25" fill="#BEBEBE"/>
<text x="204" y="116.5" style="font-size:8.3px">None</text>
<circle cx="195.8" cy="124.2" r="1.25" fill="#FC8D62"/>
<text x="204" y="127.1" style="font-size:8.3px">Up</text>
<path d="M131.4 586.8h0M126.8 533.8h0M122.5 551.4h0M118.5 570.6h0M130.2 590.0h0M120.9 555.2h0M120.4 595.6h0M132.6 566.5h0M128.5 579.4h0M121.0 591.3h0M123.9 574.2h0M127.9 597.9h0M118.4 572.8h0M123.5 569.4h0M120.5 567.6h0M120.3 600.7h0M125.7 558.9h0M129.7 525.3h0M126.2 615.3h0M124.4 617.4h0M129.6 612.2h0M128.3 557.3h0M116.1 574.1h0M123.6 552.5h0M130.1 560.3h0M123.1 572.2h0M124.4 570.5h0M127.2 581.1h0M121.1 557.3h0M121.5 603.5h0M123.5 587.0h0M130.2 530.9h0M129.9 594.9h0M110.1 602.3h0M104.5 590.3h0M120.4 582.6h0M120.0 548.9h0M118.7 620.8h0M132.3 548.4h0M130.7 610.2h0M120.4 575.1h0M127.9 553.2h0M123.5 570.8h0M123.1 595.1h0M125.2 562.0h0M131.2 581.7h0M123.9 562.0h0M130.4 602.0h0M132.5 612.8h0M133.5 575.4h0M124.5 542.4h0M129.0 577.3h0M111.3 594.4h0M131.7 566.0h0M126.4 578.9h0M129.3 606.4h0M124.4 597.8h0M127.0 567.4h0M122.4 583.6h0M126.3 593.2h0M116.2 557.5h0M122.2 594.8h0M127.8 580.3h0M126.7 598.2h0M125.1 572.7h0M124.2 551.1h0M128.5 596.6h0M130.1 540.8h0M139.4 592.7h0M117.2 596.6h0M134.5 582.3h0M124.0 576.0h0M128.4 587.3h0M139.1 593.5h0M123.3 592.9h0M140.3 596.3h0M146.6 613.7h0M116.0 583.3h0M131.7 567.8h0M123.8 562.1h0M119.4 569.7h0M122.0 536.2h0M97.8 601.5h0M122.8 555.0h0M126.6 599.4h0M116.6 568.9h0M133.7 623.0h0M120.6 556.8h0M119.5 599.7h0M123.9 539.0h0M119.3 559.4h0M118.8 576.1h0M125.3 594.5h0M121.6 578.1h0M124.9 581.0h0M121.2 592.7h0M130.2 589.9h0M129.9 589.5h0M126.0 608.6h0M121.9 590.9h0M130.1 579.3h0M127.8 561.0h0M123.8 547.0h0M127.0 596.0h0M127.3 564.3h0M129.7 587.5h0M123.6 530.1h0M118.7 578.3h0M124.7 565.4h0M130.3 598.9h0M122.8 596.0h0M128.7 572.4h0M128.0 613.5h0M128.8 561.7h0M144.9 598.1h0M128.3 534.3h0M132.1 583.9h0M127.4 550.9h0M117.7 609.6h0M128.9 567.1h0M132.6 597.8h0M120.7 588.5h0M121.8 559.7h0M123.2 561.9h0M129.6 579.2h0M129.0 608.9h0M122.8 595.9h0M116.3 581.7h0M107.9 626.6h0M129.1 559.6h0M130.2 582.7h0M130.5 583.0h0M126.3 554.8h0M124.2 561.6h0M125.3 572.0h0M124.9 600.5h0M118.7 569.9h0M130.3 569.1h0M119.0 597.8h0M125.1 565.3h0M128.7 623.0h0M124.7 606.6h0M127.6 549.8h0M114.7 602.8h0M124.3 597.8h0M124.2 574.8h0M116.3 582.7h0M122.2 543.6h0M122.9 563.7h0M113.9 624.5h0M126.3 569.9h0M125.9 556.9h0M123.8 593.7h0M125.8 530.9h0M120.9 572.4h0M123.6 603.2h0M130.9 539.9h0M126.9 620.9h0M123.8 590.7h0M128.0 555.0h0M126.9 596.9h0M130.0 570.1h0M113.2 617.4h0M119.9 623.1h0M127.6 584.5h0M119.8 549.5h0M122.5 575.6h0M117.6 582.6h0M126.9 559.9h0M122.2 568.3h0M128.7 570.6h0M132.6 600.1h0M124.6 545.7h0M146.8 607.5h0M126.4 560.3h0M125.3 621.5h0M121.2 561.8h0M122.3 564.1h0M127.9 591.0h0M158.9 618.9h0M115.9 554.0h0M120.9 590.8h0M118.8 588.1h0M116.0 535.3h0M134.4 553.2h0M129.0 587.7h0M121.4 562.0h0M114.1 630.3h0M127.9 574.7h0M130.3 594.8h0M112.9 607.1h0M122.6 614.0h0M132.1 564.9h0M129.3 575.1h0M125.3 557.5h0M119.9 596.8h0M123.8 605.9h0M137.3 618.5h0M119.1 559.5h0M123.0 580.6h0M127.9 562.2h0M132.4 604.7h0M102.6 595.0h0M117.4 606.2h0M125.9 533.2h0M119.7 594.9h0M126.8 595.0h0M132.5 578.5h0M74.1 610.7h0M122.0 567.0h0M128.0 607.3h0M127.5 585.8h0M129.4 601.0h0M126.1 588.3h0M137.4 608.2h0M107.1 613.8h0M117.9 599.6h0M109.4 593.0h0M130.3 584.0h0M128.2 575.5h0M127.8 539.7h0M128.6 558.0h0M125.2 560.2h0M124.1 593.2h0M133.7 538.0h0M122.4 564.3h0M99.0 608.7h0M119.1 559.6h0M126.3 594.6h0M120.4 588.2h0M125.6 622.1h0M122.7 602.0h0M137.5 599.2h0M126.9 570.1h0M127.0 586.3h0M127.0 549.6h0M125.4 575.3h0M123.6 570.8h0M126.7 604.2h0M118.6 621.7h0M136.0 595.0h0M123.7 541.3h0M120.8 563.1h0M123.0 565.5h0M129.4 596.7h0M123.1 542.8h0M123.6 546.6h0M122.7 589.5h0M129.1 600.3h0M122.1 544.9h0M123.2 567.7h0M124.5 579.4h0M123.8 567.7h0M132.6 566.9h0M129.3 586.7h0M125.2 606.1h0M109.3 607.0h0M148.3 617.6h0M125.6 566.4h0M117.9 531.6h0M136.6 616.7h0M125.9 573.9h0M123.3 567.6h0M127.5 600.1h0M122.6 572.4h0M122.7 602.7h0M122.0 550.4h0M132.5 591.0h0M129.3 574.8h0M127.7 561.2h0M135.1 618.9h0M129.5 589.5h0M131.6 579.1h0M131.2 571.8h0M112.7 602.3h0M117.6 560.2h0M132.4 576.3h0M122.6 534.8h0M124.9 582.0h0M125.0 601.4h0M124.7 614.8h0M119.6 552.3h0M117.9 578.5h0M131.9 552.0h0M124.7 566.5h0M122.3 541.5h0M123.8 548.2h0M127.7 585.9h0M130.7 570.8h0M127.1 551.2h0M109.5 605.9h0M121.4 545.7h0M119.4 551.3h0M122.4 581.8h0M130.8 570.1h0M122.0 603.2h0M131.6 575.8h0M125.7 590.8h0M122.9 575.1h0M124.1 570.5h0M128.0 548.6h0M122.9 607.6h0M131.7 554.5h0M116.0 623.5h0M142.4 627.5h0M132.0 579.9h0M126.3 577.0h0M124.2 566.8h0M132.2 615.5h0M116.1 578.5h0M127.6 546.8h0M120.4 564.8h0M119.7 599.9h0M115.9 581.5h0M130.4 560.8h0M110.1 600.2h0M126.3 596.6h0M125.7 568.2h0M127.6 534.7h0M131.7 599.2h0M118.8 590.4h0M107.0 600.1h0M128.8 606.3h0M126.7 547.0h0M123.1 606.0h0M127.2 533.8h0M122.4 571.4h0M121.9 599.4h0M118.4 568.1h0M128.1 578.7h0M120.1 595.1h0M129.3 622.4h0M122.2 570.3h0M122.5 574.5h0M116.9 583.7h0M133.0 596.6h0M121.3 585.5h0M130.7 542.6h0M122.5 610.9h0M117.5 571.6h0M119.8 593.6h0M122.2 587.4h0M110.1 609.8h0M118.7 597.0h0M133.5 569.5h0M138.7 598.1h0M135.1 590.4h0M123.9 574.2h0M121.0 582.5h0M116.0 586.5h0M131.9 543.5h0M124.8 546.2h0M125.2 550.5h0M121.0 601.5h0M123.0 553.6h0M138.2 592.3h0M117.6 599.1h0M122.4 621.7h0M121.1 607.3h0M141.1 590.7h0M116.9 600.4h0M132.0 605.8h0M104.0 593.3h0M124.7 581.9h0M127.4 542.0h0M131.4 616.8h0M124.7 590.0h0M136.1 599.4h0M119.5 612.4h0M135.6 606.6h0M133.8 598.2h0M126.0 560.4h0M121.4 589.7h0M133.1 562.9h0M121.2 570.6h0M122.2 582.3h0M120.2 596.4h0M129.2 566.3h0M120.7 586.7h0M117.5 605.5h0M123.8 592.4h0M127.1 557.1h0M124.5 571.2h0M124.8 557.7h0M120.3 595.8h0M122.3 579.5h0M125.7 573.4h0M121.4 563.2h0M121.5 554.1h0M129.4 557.4h0M127.6 603.5h0M105.8 594.3h0M128.7 589.5h0M120.3 585.6h0M123.7 606.1h0M121.6 562.5h0M128.4 595.9h0M138.3 595.0h0M120.8 582.4h0M125.2 566.1h0M135.8 603.3h0M128.5 585.6h0M127.7 597.3h0M123.4 589.8h0M122.3 546.4h0M123.3 560.5h0M130.1 558.5h0M121.8 587.6h0M134.3 591.4h0M143.8 603.4h0M130.1 590.0h0M132.6 603.4h0M122.4 537.3h0M125.8 559.9h0M121.3 593.3h0M120.1 612.8h0M121.9 570.3h0M124.2 570.4h0M131.7 610.0h0M129.6 548.4h0M131.4 558.9h0M128.2 599.6h0M129.6 590.1h0M123.8 587.1h0M128.2 573.4h0M129.5 580.5h0M117.0 615.3h0M123.2 544.0h0M123.9 582.0h0M129.2 560.0h0M128.5 559.1h0M127.1 581.0h0M89.2 591.5h0M132.0 576.3h0M135.7 595.8h0M139.4 590.1h0M125.3 624.4h0M125.1 601.1h0M123.6 590.1h0M124.1 578.4h0M128.4 569.8h0M127.0 531.5h0M129.8 572.4h0M127.5 610.1h0M127.2 574.1h0M119.3 591.0h0M129.7 567.8h0M81.8 593.1h0M143.1 593.6h0M117.4 591.8h0M128.3 619.7h0M136.0 592.7h0M126.5 577.5h0M133.9 545.6h0M119.1 584.0h0M126.2 585.8h0M130.5 563.6h0M133.3 533.7h0M131.3 563.5h0M122.0 577.6h0M121.9 547.6h0M132.0 573.5h0M114.1 616.3h0M133.5 585.6h0M101.7 597.7h0M120.6 588.4h0M120.2 590.2h0M111.1 607.2h0M127.2 547.5h0M132.4 539.8h0M116.7 587.7h0M134.9 612.7h0M129.7 613.5h0M124.3 583.4h0M119.2 546.7h0M115.9 601.5h0M124.7 596.6h0M130.1 535.8h0M129.9 621.3h0M121.2 562.1h0M133.2 565.8h0M127.1 581.9h0M116.9 572.7h0M122.3 603.4h0M125.7 584.5h0M123.6 582.7h0M119.1 593.2h0M110.8 608.4h0M128.4 537.6h0M132.6 572.0h0M125.9 618.1h0M141.7 593.5h0M123.0 567.7h0M116.9 567.7h0M135.7 610.7h0M129.7 579.3h0M125.6 571.1h0M116.6 568.0h0M129.3 567.9h0M114.7 619.6h0M117.2 541.7h0M124.3 605.9h0M126.2 581.4h0M118.9 587.7h0M118.0 601.2h0M125.8 537.2h0M137.2 609.7h0M123.5 587.6h0M127.3 604.1h0M123.5 573.5h0M124.5 586.9h0M114.5 601.8h0M122.0 563.1h0M127.7 592.1h0M131.7 560.3h0M129.6 545.7h0M133.7 585.6h0M126.7 592.2h0M121.3 556.9h0M129.4 577.2h0M128.6 573.9h0M128.1 577.8h0M131.5 569.9h0M122.5 562.5h0M133.9 593.6h0M121.4 588.4h0M121.2 576.1h0M120.5 592.6h0M127.4 574.0h0M122.0 564.6h0M132.8 591.2h0M129.6 595.2h0M132.1 530.4h0M126.3 556.5h0M131.9 603.2h0M131.5 596.7h0M129.6 529.7h0M126.2 541.2h0M128.9 574.2h0M132.0 547.6h0M131.6 611.8h0M125.8 577.1h0M124.4 559.9h0M125.0 620.5h0M133.9 595.4h0M133.8 558.6h0M121.5 552.0h0M124.5 591.0h0M127.7 570.4h0M120.8 543.1h0M130.8 586.0h0M129.8 608.2h0M123.7 578.6h0M126.1 586.3h0M130.1 544.4h0M137.6 595.8h0M125.3 588.8h0M132.9 566.1h0M127.1 561.4h0M128.3 558.8h0M120.1 563.5h0M131.5 578.7h0M126.9 610.2h0M125.4 582.3h0M127.5 581.8h0M129.2 581.3h0M124.7 574.0h0M125.0 591.7h0M122.7 547.6h0M122.7 542.4h0M132.8 628.4h0M125.8 576.9h0M112.0 593.7h0M125.0 591.6h0M142.7 592.3h0M132.9 544.9h0M129.4 570.7h0M121.8 579.8h0M126.3 573.9h0M138.8 594.4h0M125.6 576.3h0M119.1 593.8h0M129.9 568.4h0M126.5 557.8h0M133.5 569.9h0M128.4 626.2h0M116.7 576.8h0M124.1 590.4h0M120.4 587.8h0M100.7 608.8h0M124.8 575.9h0M130.6 583.2h0M125.9 591.9h0M128.8 583.1h0M123.0 590.9h0M102.7 631.7h0M116.0 554.7h0M128.4 599.3h0M124.4 570.0h0M132.9 592.6h0M122.9 627.8h0M161.1 616.2h0M121.7 582.2h0M132.9 541.5h0M116.7 552.7h0M117.9 573.3h0M131.5 594.9h0M119.0 586.8h0M128.8 564.5h0M117.8 592.2h0M124.6 553.3h0M132.3 585.9h0M128.1 586.6h0M124.1 563.4h0M120.5 570.7h0M117.7 555.6h0M128.2 545.4h0M127.8 565.2h0M129.3 631.5h0M129.6 616.7h0M121.7 573.4h0M122.2 578.6h0M116.2 534.4h0M130.9 577.8h0M123.5 580.7h0M121.3 555.8h0M121.1 553.5h0M119.2 582.6h0M127.0 566.1h0M127.1 603.5h0M126.7 599.1h0M125.0 548.5h0M132.5 609.9h0M122.1 556.1h0M120.4 561.3h0M130.5 559.1h0M116.9 557.1h0M131.5 564.0h0M123.9 627.0h0M128.4 600.5h0M121.6 591.1h0M126.8 555.6h0M135.2 603.4h0M123.5 593.6h0M126.0 585.6h0M124.8 610.7h0M127.2 608.7h0M102.1 626.7h0M134.2 569.4h0M124.1 587.7h0M123.1 613.9h0M121.8 586.9h0M130.5 600.5h0M117.8 573.2h0M131.2 568.7h0M121.4 544.9h0M117.9 574.8h0M142.0 590.6h0M127.2 577.7h0M116.7 554.9h0M139.2 622.0h0M130.1 589.6h0M126.9 575.4h0M121.2 569.6h0M126.7 571.6h0M128.7 586.3h0M125.0 569.9h0M127.4 572.4h0M120.9 573.9h0M133.7 573.5h0M130.4 607.1h0M126.4 580.1h0M151.1 620.4h0M118.1 560.4h0M134.4 599.0h0M130.5 544.3h0M118.9 586.4h0M120.8 548.4h0M131.3 567.7h0M122.4 590.1h0M123.4 596.7h0M115.7 564.0h0M125.0 568.9h0M146.1 612.4h0M125.8 601.4h0M128.3 543.8h0M127.4 570.5h0M131.3 581.9h0M125.3 579.2h0M129.2 581.4h0M129.0 618.6h0M124.4 567.6h0M133.7 552.7h0M130.9 604.8h0M173.4 596.1h0M118.2 556.5h0M118.3 569.6h0M120.7 597.2h0M134.3 572.5h0M127.6 592.9h0M123.2 569.9h0M123.0 588.4h0M120.0 553.5h0M121.1 561.4h0M136.7 619.3h0M117.8 556.5h0M121.9 601.4h0M129.1 597.8h0M123.6 576.9h0M129.2 563.8h0M124.3 587.6h0M116.8 614.9h0M118.6 573.2h0M134.1 607.2h0M126.2 535.6h0M123.3 570.1h0M129.6 534.8h0M128.4 574.9h0M126.1 554.2h0M140.3 594.2h0M104.5 600.8h0M128.4 613.8h0M131.9 583.5h0M129.2 592.5h0M125.1 547.5h0M123.8 575.8h0M121.3 616.2h0M124.9 570.9h0M122.7 576.9h0M121.5 602.8h0M113.0 623.3h0M118.2 583.0h0M124.0 546.5h0M131.4 539.3h0M132.4 568.5h0M123.7 550.7h0M127.8 581.9h0M125.1 562.5h0M111.7 606.8h0M117.3 595.6h0M115.9 578.6h0M131.0 598.3h0M130.7 543.1h0M123.8 563.3h0M125.2 591.4h0M120.1 575.5h0M126.4 587.2h0M125.8 562.8h0M120.8 586.0h0M121.8 595.0h0M120.3 592.1h0M116.0 587.3h0M132.1 570.4h0M119.9 598.5h0M124.9 566.8h0M131.6 556.5h0M132.2 586.4h0M133.7 569.7h0M127.7 538.7h0M129.5 559.8h0M109.9 630.8h0M122.4 570.0h0M130.6 567.5h0M124.3 545.9h0M118.0 602.6h0M121.8 552.5h0M116.0 615.7h0M125.7 576.0h0M124.1 568.3h0M143.6 593.5h0M113.8 616.6h0M132.6 592.5h0M126.1 540.0h0M129.7 593.6h0M126.7 597.6h0M128.0 546.9h0M132.8 575.1h0M128.9 553.0h0M123.3 610.5h0M130.4 590.9h0M122.9 558.2h0M117.6 600.6h0M99.7 613.3h0M125.5 583.1h0M122.0 569.0h0M130.9 560.5h0M141.5 596.2h0M118.0 551.1h0M120.3 580.6h0M126.8 571.1h0M115.1 589.9h0M120.0 551.9h0M127.3 606.4h0M110.5 607.9h0M120.5 604.1h0M119.0 560.8h0M124.1 555.8h0M125.7 594.7h0M118.4 592.6h0M134.2 578.2h0M125.6 533.0h0M122.7 577.1h0M127.3 598.4h0M120.0 598.5h0M123.9 549.7h0M137.1 616.0h0M124.9 588.1h0M123.9 586.0h0M118.7 588.1h0M115.8 555.9h0M121.8 571.8h0M132.3 598.1h0M123.1 561.1h0M131.1 565.1h0M126.8 528.5h0M128.9 594.4h0M128.5 586.2h0M132.2 576.2h0M126.0 575.1h0M118.4 579.6h0M121.6 593.3h0M153.5 614.5h0M114.6 590.2h0M138.7 609.6h0M133.0 601.6h0M129.8 589.9h0M114.5 601.5h0M126.2 558.6h0M126.1 615.7h0M108.7 627.7h0M140.9 602.2h0M132.2 539.4h0M132.1 578.7h0M126.5 582.9h0M84.4 623.3h0M118.6 560.2h0M127.2 615.3h0M132.7 561.9h0M126.9 560.7h0M126.7 575.6h0M128.2 538.7h0M124.1 585.3h0M133.0 564.0h0M122.1 571.9h0M118.1 587.5h0M124.2 549.4h0M116.8 567.9h0M116.1 582.2h0M127.6 574.7h0M128.4 575.2h0M130.0 583.3h0M108.3 602.5h0M130.0 606.1h0M64.0 621.9h0M121.3 572.3h0M125.9 577.1h0M132.0 601.7h0M114.8 612.4h0M132.7 585.4h0M124.9 590.0h0M134.0 608.9h0M122.9 570.8h0M123.9 574.5h0M129.3 579.0h0M122.1 593.0h0M127.4 544.9h0M132.1 601.5h0M117.2 565.8h0M128.0 563.0h0M120.6 583.9h0M130.2 607.8h0M120.8 612.9h0M124.0 582.6h0M131.6 594.9h0M116.4 564.1h0M127.4 577.2h0M131.5 563.5h0M132.3 573.1h0M127.7 575.7h0M128.6 586.6h0M132.2 588.7h0M131.3 525.2h0M122.1 618.9h0M124.7 582.2h0M123.3 554.9h0M126.4 568.1h0M125.6 544.8h0M124.6 565.1h0M126.8 607.3h0M112.5 610.7h0M133.4 553.5h0M131.0 540.9h0M123.3 588.3h0M127.4 565.3h0M138.3 611.5h0M115.9 588.5h0M126.2 614.9h0M133.0 591.3h0M120.2 573.2h0M125.6 561.2h0M126.3 547.4h0M122.2 585.9h0M125.3 572.7h0M127.0 568.3h0M121.3 596.3h0M130.4 559.6h0M127.8 604.3h0M116.4 572.5h0M116.8 559.1h0M118.4 622.5h0M117.8 582.8h0M125.1 572.8h0M131.0 578.1h0M134.4 614.0h0M128.7 570.3h0M110.6 591.5h0M123.6 559.3h0M131.9 568.4h0M136.5 591.3h0M127.9 574.4h0M141.4 594.6h0M133.3 594.9h0M99.1 615.4h0M122.0 559.9h0M120.1 576.1h0M133.5 579.3h0M112.4 593.6h0M102.2 591.2h0M131.6 561.7h0M128.8 613.9h0M133.7 580.6h0M116.2 536.1h0M123.7 552.3h0M128.1 562.2h0M133.8 573.4h0M131.1 568.6h0M125.3 592.3h0M129.1 594.0h0M128.1 589.3h0M167.6 611.5h0M124.0 585.8h0M122.0 574.4h0M132.1 573.9h0M126.9 575.3h0M118.2 561.5h0M125.0 627.7h0M133.0 589.2h0M118.0 587.7h0M126.3 564.6h0M122.8 561.5h0M132.0 579.9h0M116.4 558.7h0M115.2 603.7h0M128.4 578.7h0M139.3 629.7h0M123.5 541.8h0M120.7 546.2h0M140.3 594.5h0M133.0 600.4h0M120.8 629.5h0M119.4 616.3h0M124.8 615.0h0M135.4 592.3h0M130.0 596.1h0M124.9 585.7h0M129.7 577.9h0M103.0 629.2h0M126.3 576.4h0M117.6 582.1h0M127.7 563.1h0M127.2 623.3h0M121.6 562.7h0M122.4 595.4h0M125.4 574.3h0M115.8 614.9h0M137.1 611.0h0M122.9 557.5h0M131.4 607.0h0M125.5 602.8h0M130.8 566.4h0M119.0 585.2h0M132.5 562.3h0M122.8 573.4h0M120.1 581.0h0M123.9 530.5h0M118.2 582.7h0M126.9 544.9h0M124.2 554.1h0M119.4 577.8h0M119.1 602.2h0M122.1 594.7h0M116.4 610.6h0M132.9 587.1h0M128.4 595.2h0M127.0 583.8h0M123.7 553.5h0M96.1 608.4h0M126.0 594.0h0M116.2 587.8h0M127.9 556.7h0M121.4 564.7h0M129.8 577.6h0M129.1 584.2h0M127.1 588.6h0M111.1 620.5h0M132.9 597.6h0M125.2 576.3h0M126.9 575.4h0M129.5 614.9h0M125.9 556.6h0M119.5 566.7h0M131.4 610.4h0M130.4 604.3h0M122.8 568.2h0M142.6 621.0h0M123.9 597.3h0M128.8 581.2h0M119.2 582.9h0M120.8 581.2h0M117.4 570.8h0M133.4 598.5h0M131.1 591.2h0M127.3 530.1h0M106.0 612.5h0M134.7 590.3h0M126.3 577.2h0M123.8 594.8h0M132.4 548.9h0M120.4 562.0h0M132.3 549.8h0M128.1 552.0h0M120.3 597.2h0M129.7 547.3h0M122.4 573.4h0M128.7 557.6h0M118.5 577.1h0M123.9 603.1h0M117.6 579.7h0M153.3 609.2h0M126.2 598.1h0M121.2 597.2h0M120.8 595.9h0M124.2 552.4h0M134.1 559.8h0M132.1 600.2h0M122.6 553.5h0M132.0 618.3h0M138.8 594.5h0M124.5 582.4h0M133.7 548.6h0M134.2 562.1h0M118.6 568.4h0M130.1 546.5h0M121.9 562.2h0M125.4 546.9h0M122.0 597.2h0M108.4 618.2h0M133.2 588.5h0M122.2 559.5h0M122.1 572.7h0M127.4 566.7h0M124.9 559.6h0M108.2 595.4h0M131.1 602.1h0M122.1 581.3h0M142.1 611.7h0M122.4 566.9h0M132.5 614.8h0M127.0 544.9h0M130.5 610.0h0M120.6 572.6h0M127.4 599.1h0M127.3 548.6h0M129.6 588.6h0M129.8 541.7h0M119.9 602.6h0M124.5 597.3h0M132.7 625.3h0M118.1 557.9h0M123.2 582.4h0M116.2 600.1h0M129.2 621.6h0M123.1 543.1h0M125.5 579.8h0M112.0 592.4h0M131.9 611.3h0M118.1 566.1h0M127.6 595.9h0M129.4 587.3h0M122.3 593.4h0M125.1 585.7h0M130.5 557.1h0M129.9 578.0h0M118.5 604.4h0M137.4 607.1h0M128.7 603.3h0M125.6 557.7h0M124.6 568.5h0M125.9 587.8h0M123.7 607.4h0M138.2 611.7h0M124.9 531.7h0M119.2 572.0h0M120.5 535.6h0M127.9 565.2h0M124.5 582.1h0M119.1 586.9h0M127.0 566.7h0M123.4 607.8h0M117.8 630.3h0M130.4 557.3h0M133.5 585.0h0M123.3 543.2h0M122.3 605.7h0M133.8 562.4h0M114.4 592.6h0M128.1 616.1h0M117.0 585.4h0M130.8 565.0h0M121.8 610.6h0M134.2 608.6h0M119.8 551.5h0M123.1 569.1h0M123.0 605.5h0M126.9 594.0h0M131.9 575.9h0M133.2 574.4h0M129.5 575.4h0M124.2 542.1h0M126.9 575.1h0M119.6 615.1h0M119.6 599.7h0M116.3 580.6h0M120.6 551.1h0M129.1 595.6h0M116.7 588.7h0M116.6 580.1h0M120.6 596.2h0M126.7 599.1h0M132.6 585.3h0M120.2 557.0h0M120.4 570.4h0M119.5 610.2h0M125.6 562.6h0M122.3 573.0h0M133.6 618.5h0M109.5 603.6h0M121.0 601.8h0M126.4 563.7h0M124.7 615.4h0M125.8 587.0h0M126.1 560.0h0M129.0 544.6h0M131.8 570.7h0M118.6 586.6h0M131.1 587.1h0M132.4 623.7h0M127.2 583.3h0M119.9 607.5h0M125.9 526.1h0M134.3 565.4h0M123.8 571.7h0M124.5 555.9h0M140.0 630.9h0M131.8 583.6h0M133.6 519.0h0M125.2 593.0h0M140.8 592.7h0M128.9 612.4h0M148.1 599.0h0M132.5 584.4h0M116.0 573.4h0M118.9 584.2h0M121.1 535.6h0M129.1 564.4h0M122.7 548.3h0M132.3 564.5h0M121.5 591.8h0M131.5 615.9h0M127.8 571.0h0M125.6 599.0h0M130.1 546.1h0M125.8 597.5h0M112.6 632.0h0M119.2 578.4h0M123.3 554.4h0M129.2 584.3h0M118.6 575.1h0M123.4 575.7h0M123.3 540.1h0M130.9 580.4h0M131.3 594.0h0M125.4 618.2h0M124.6 546.4h0M130.3 550.8h0M124.5 602.0h0M116.2 565.1h0M126.0 571.7h0M129.7 588.5h0M120.0 586.9h0M132.4 561.7h0M116.0 608.0h0M119.1 591.8h0M130.1 581.3h0M132.3 579.7h0M130.8 584.5h0M133.2 574.3h0M119.3 566.9h0M124.3 600.6h0M144.5 592.0h0M123.7 544.7h0M138.0 612.8h0M115.7 563.0h0M123.9 586.2h0M132.4 587.3h0M130.9 592.2h0M138.0 606.9h0M127.4 581.3h0M128.1 613.9h0M124.6 572.8h0M123.4 590.3h0M129.9 571.9h0M129.5 571.0h0M129.7 607.0h0M125.6 571.5h0M133.1 616.8h0M118.6 597.1h0M118.9 544.3h0M126.6 578.8h0M124.1 542.8h0M125.6 578.6h0M121.2 605.1h0M123.2 563.9h0M121.8 568.3h0M129.7 570.8h0M124.9 579.3h0M122.2 594.7h0M135.5 628.5h0M128.9 566.7h0M126.5 527.8h0M133.5 550.3h0M120.1 600.5h0M128.0 560.1h0M122.9 581.5h0M122.4 560.0h0M146.1 598.1h0M126.9 584.0h0M128.7 573.6h0M125.5 549.2h0M121.9 546.6h0M128.8 595.1h0M124.6 606.3h0M120.9 579.4h0M123.5 630.8h0M131.6 547.7h0M130.6 579.6h0M126.1 571.8h0M121.2 552.8h0M116.0 585.7h0M128.3 577.9h0M120.1 568.3h0M129.0 556.4h0M120.0 552.6h0M108.5 611.8h0M113.1 624.9h0M126.0 578.2h0M124.6 602.5h0M122.7 569.7h0M117.3 562.0h0M125.1 567.9h0M124.4 538.5h0M129.5 601.4h0M131.9 576.4h0M123.2 532.9h0M118.3 603.3h0M125.6 548.9h0M121.5 603.2h0M119.8 551.0h0M106.3 599.7h0M124.8 578.5h0M111.0 621.2h0M131.0 538.1h0M127.7 580.2h0M110.3 612.6h0M111.5 608.2h0M127.2 532.4h0M128.8 585.2h0M118.2 590.0h0M127.0 565.0h0M132.1 564.0h0M131.7 623.5h0M138.1 600.2h0M126.7 577.0h0M125.2 568.8h0M124.4 587.3h0M123.9 572.1h0M125.9 593.4h0M145.5 596.9h0M139.7 590.1h0M122.0 577.0h0M123.4 580.7h0M128.5 588.5h0M129.4 583.1h0M129.3 578.4h0M132.4 569.6h0M125.9 568.7h0M118.4 607.6h0M130.4 553.2h0M123.6 615.0h0M122.2 564.4h0M131.0 593.9h0M122.8 563.6h0M132.3 550.3h0M116.8 621.7h0M120.0 563.2h0M119.6 570.9h0M130.9 588.3h0M116.7 568.3h0M130.2 589.1h0M123.5 574.6h0M111.6 602.2h0M127.0 558.9h0M133.3 563.6h0M120.5 560.0h0M151.2 592.9h0M121.2 534.3h0M129.9 587.3h0M124.5 587.1h0M119.6 561.3h0M120.7 554.4h0M124.1 595.0h0M137.9 625.1h0M123.2 566.8h0M116.9 578.5h0M134.2 573.5h0M133.0 565.4h0M132.9 603.6h0M118.6 576.0h0M131.8 584.6h0M131.0 546.5h0M132.2 577.6h0M123.8 597.8h0M124.6 548.7h0M126.2 582.5h0M127.6 620.2h0M120.4 598.4h0M129.8 574.5h0M126.8 590.3h0M125.8 567.8h0M128.5 592.9h0M130.3 588.0h0M116.4 584.5h0M124.5 574.8h0M123.6 557.7h0M124.4 551.9h0M111.0 592.0h0M120.4 584.1h0M115.1 609.3h0M117.4 608.8h0M128.9 571.3h0M138.5 590.5h0M126.2 621.8h0M120.3 565.9h0M122.5 598.0h0M120.2 585.7h0M118.4 568.6h0M133.0 579.7h0M105.6 625.0h0M123.4 565.2h0M119.2 592.3h0M124.4 611.6h0M108.2 630.1h0M128.6 575.1h0M129.0 575.8h0M130.6 564.1h0M125.2 580.2h0M122.2 612.9h0M122.3 555.5h0M122.9 566.3h0M127.8 540.6h0M119.9 538.3h0M116.6 597.0h0M127.4 557.4h0M120.2 574.2h0M127.2 573.3h0M131.3 555.7h0M129.4 561.0h0M129.3 588.6h0M124.5 575.3h0M114.1 594.8h0M130.8 582.8h0M120.1 604.1h0M159.4 624.0h0M133.7 589.8h0M127.3 592.0h0M127.4 539.8h0M129.0 577.5h0M126.8 592.9h0M136.7 599.7h0M130.6 584.7h0M118.5 571.1h0M127.4 537.6h0M116.5 583.0h0M130.5 616.4h0M124.1 575.1h0M120.0 593.3h0M128.7 573.1h0M131.9 549.5h0M106.0 592.8h0M128.7 579.6h0M120.3 565.8h0M113.5 599.9h0M127.0 565.1h0M118.4 559.1h0M129.6 564.8h0M125.5 568.6h0M132.2 610.1h0M123.5 600.2h0M123.8 545.3h0M130.4 574.9h0M114.5 630.1h0M123.1 587.4h0M126.5 569.2h0M106.6 620.7h0M128.7 564.2h0M127.2 604.3h0M124.0 553.6h0M128.0 576.8h0M120.3 608.5h0M121.2 570.9h0M123.9 611.8h0M118.6 552.9h0M128.0 574.5h0M126.6 555.7h0M123.0 575.0h0M147.6 604.6h0M122.6 592.5h0M123.4 606.1h0M116.8 601.7h0M124.2 573.9h0M133.9 556.5h0M124.4 565.3h0M127.1 590.4h0M129.2 565.4h0M120.2 597.2h0M133.6 572.5h0M118.1 558.3h0M134.1 581.6h0M128.1 584.5h0M128.3 610.3h0M107.1 602.0h0M123.3 543.6h0M122.9 577.0h0M121.8 611.5h0M121.9 560.6h0M129.6 573.8h0M125.4 553.9h0M129.7 582.2h0M117.9 576.8h0M133.5 616.8h0M107.4 604.5h0M129.4 619.4h0M101.3 617.1h0M145.7 592.5h0M134.1 563.2h0M131.7 597.9h0M133.5 577.5h0M125.4 601.7h0M125.2 557.1h0M127.7 583.1h0M118.3 587.7h0M120.5 581.0h0M116.5 566.8h0M125.9 557.8h0M125.2 606.0h0M118.1 592.3h0M120.7 620.3h0M129.9 543.8h0M123.0 570.9h0M120.8 577.6h0M121.8 582.7h0M126.1 588.9h0M124.8 545.1h0M127.9 561.3h0M124.2 548.8h0M131.1 584.3h0M131.0 597.6h0M121.2 547.9h0M136.2 605.5h0M132.0 591.4h0M124.5 560.7h0M123.3 552.6h0M103.4 607.7h0M119.2 576.6h0M120.1 580.3h0M127.4 597.2h0M123.1 561.6h0M121.7 589.4h0M134.1 582.8h0M122.5 629.4h0M123.2 579.8h0M129.2 622.3h0M126.6 560.9h0M125.8 565.8h0M127.2 573.5h0M126.0 574.7h0M120.3 580.7h0M120.1 568.9h0M131.6 580.1h0M131.7 588.3h0M133.8 595.7h0M130.8 533.8h0M124.4 572.8h0M120.5 577.7h0M122.3 561.9h0M129.6 561.7h0M115.5 611.6h0M130.4 575.9h0M128.2 577.8h0M117.1 566.8h0M124.9 597.8h0M121.7 601.6h0M126.3 580.0h0M121.4 597.9h0M128.3 601.9h0M128.9 578.9h0M119.6 574.2h0M120.2 553.1h0M133.3 600.3h0M131.8 577.6h0M115.7 597.6h0M127.9 597.2h0M131.4 582.3h0M127.9 594.6h0M119.8 585.6h0M127.5 610.1h0M122.0 581.9h0M121.2 584.7h0M128.0 598.3h0M125.3 597.1h0M121.0 543.1h0M123.1 577.3h0M118.6 564.9h0M119.3 566.0h0M125.4 564.1h0M132.0 550.5h0M120.0 561.6h0M124.5 586.4h0M116.1 612.6h0M120.1 566.8h0M118.3 554.4h0M127.4 571.5h0M99.7 615.8h0M127.5 562.6h0M117.1 612.7h0M117.8 582.9h0M126.7 559.3h0M123.8 558.6h0M121.6 564.8h0M123.4 569.5h0M126.1 561.1h0M131.3 567.9h0M124.2 586.9h0M132.4 550.1h0M130.0 593.7h0M127.1 582.4h0M129.6 574.1h0M114.9 620.5h0M125.6 585.8h0M117.6 558.3h0M122.3 558.7h0M130.1 604.3h0M120.4 596.0h0M141.5 601.6h0M126.1 582.5h0M124.9 578.6h0M107.2 613.4h0M128.8 569.9h0M120.2 575.5h0M129.1 578.8h0M124.2 592.4h0M120.4 581.3h0M126.0 617.6h0M119.5 571.9h0M117.5 572.3h0M132.3 579.5h0M124.0 604.0h0M121.4 549.8h0M123.0 619.7h0M118.3 567.7h0M132.2 573.7h0M118.7 565.4h0M134.4 562.3h0M116.7 560.8h0M130.4 591.9h0M124.1 588.7h0M117.2 565.5h0M125.2 550.5h0M127.0 588.2h0M120.0 583.4h0M119.9 561.3h0M123.3 625.9h0M120.6 566.9h0M121.6 582.3h0M132.6 626.8h0M118.5 559.6h0M129.3 597.8h0M126.1 559.1h0M125.2 545.8h0M118.6 605.3h0M131.4 604.2h0M127.9 577.3h0M106.4 616.7h0M130.8 560.5h0M128.9 572.7h0M123.2 618.5h0M124.2 566.4h0M127.3 617.7h0M116.4 557.7h0M121.3 608.1h0M119.1 572.7h0M120.6 606.7h0M131.0 558.7h0M122.0 540.7h0M124.8 575.4h0M119.4 576.0h0M119.6 549.8h0M127.7 586.7h0M118.5 558.4h0M121.1 566.8h0M132.5 535.3h0M115.8 552.9h0M132.4 526.3h0M124.6 576.4h0M124.2 594.3h0M130.6 554.1h0M127.4 533.7h0M109.5 603.8h0M134.0 579.2h0M131.0 558.8h0M100.2 595.1h0M134.2 562.6h0M124.7 562.8h0M128.1 596.0h0M123.9 568.1h0M129.2 544.0h0M117.3 568.4h0M84.8 608.7h0M129.9 588.2h0M119.4 559.7h0M135.4 601.0h0M123.1 567.0h0M123.5 570.9h0M122.1 580.1h0M120.4 554.6h0M127.4 565.4h0M133.4 558.0h0M132.0 562.5h0M121.4 590.3h0M131.5 600.1h0M128.0 570.9h0M124.9 553.4h0M122.7 569.2h0M122.5 553.6h0M128.8 572.4h0M120.1 591.5h0M115.7 563.7h0M107.4 594.4h0M121.3 551.0h0M129.8 574.0h0M128.8 577.0h0M116.8 582.3h0M123.6 587.2h0M125.8 585.8h0M129.1 582.6h0M126.5 557.2h0M127.0 567.0h0M120.9 582.4h0M121.7 606.5h0M129.0 600.3h0M139.6 631.7h0M121.2 553.1h0M122.3 559.0h0M125.3 568.3h0M122.1 550.1h0M124.3 601.2h0M132.9 626.7h0M120.4 572.6h0M131.5 557.3h0M123.8 562.1h0M125.1 528.5h0M126.4 557.1h0M123.8 581.7h0M131.0 580.9h0M134.5 554.5h0M131.2 577.9h0M124.5 579.6h0M103.5 617.3h0M117.8 583.7h0M151.4 606.5h0M134.1 571.2h0M125.6 573.5h0M131.1 530.1h0M121.9 580.8h0M123.3 544.4h0M96.5 602.8h0M129.8 573.0h0M120.7 602.2h0M130.1 582.6h0M126.2 573.4h0M137.6 598.8h0M118.1 614.6h0M135.6 605.1h0M116.4 578.6h0M131.6 607.8h0M122.1 538.0h0M127.0 547.3h0M143.5 620.9h0M120.7 548.3h0M122.0 545.0h0M130.4 548.9h0M124.2 609.9h0M130.7 544.3h0M125.5 587.3h0M125.5 553.7h0M120.8 573.5h0M118.5 553.8h0M126.5 589.8h0M128.5 598.0h0M126.2 604.6h0M114.1 593.7h0M121.7 557.6h0M126.3 604.5h0M119.3 552.5h0M124.3 570.2h0M119.7 583.9h0M123.0 596.9h0M119.6 580.4h0M118.1 598.3h0M109.3 604.7h0M125.2 551.8h0M125.1 563.0h0M130.8 545.7h0M157.4 608.4h0M115.3 622.2h0M121.3 613.8h0M127.5 561.8h0M126.9 558.0h0M111.9 620.1h0M119.7 554.5h0M119.1 587.1h0M122.5 604.9h0M121.8 578.8h0M128.5 563.8h0M127.9 582.0h0M131.6 581.1h0M121.7 596.7h0M122.2 610.2h0M132.2 615.0h0M125.8 563.1h0M114.8 597.0h0M129.0 544.6h0M128.9 614.2h0M112.9 597.8h0M134.1 598.0h0M127.7 570.3h0M132.3 578.1h0M124.0 531.6h0M126.9 565.3h0M127.3 605.2h0M128.1 583.3h0M126.2 536.8h0M124.0 569.5h0M121.4 532.9h0M123.2 591.1h0M118.2 568.5h0M120.4 592.7h0M131.6 577.3h0M128.8 564.6h0M122.8 608.3h0M119.6 573.8h0M122.5 573.9h0M128.5 591.0h0M128.9 606.9h0M118.2 603.5h0M117.3 573.0h0M115.7 564.0h0M138.1 597.7h0M127.7 580.1h0M116.6 601.5h0M125.4 611.3h0M114.8 626.1h0M120.8 577.0h0M127.8 602.4h0M128.0 580.8h0M123.0 578.6h0M116.0 555.1h0M128.9 585.6h0M123.5 586.9h0M120.7 565.7h0M121.9 579.3h0M130.5 582.0h0M129.1 593.8h0M121.2 613.5h0M125.3 579.3h0M131.8 583.7h0M129.3 527.5h0M131.8 584.2h0M124.5 559.2h0M120.2 554.7h0M119.9 575.9h0M134.7 595.1h0M120.1 593.0h0M128.3 569.6h0M118.4 541.3h0M134.0 588.8h0M125.0 564.6h0M124.0 596.2h0M124.8 607.8h0M126.5 595.7h0M122.3 577.5h0M128.2 594.8h0M125.2 583.6h0M127.4 580.2h0M120.3 594.1h0M125.5 606.1h0M122.6 589.7h0M131.2 580.7h0M122.8 560.4h0M134.4 557.0h0M125.1 553.8h0M125.4 598.7h0M131.6 616.2h0M120.2 593.3h0M118.5 569.8h0M118.6 590.5h0M126.3 556.5h0M140.5 606.7h0M130.8 601.9h0M117.0 604.8h0M127.3 602.8h0M123.6 583.3h0M132.4 597.1h0M126.7 595.1h0M117.6 550.0h0M121.5 611.6h0M118.2 601.5h0M132.5 567.0h0M127.0 583.6h0M128.3 586.0h0M133.4 598.9h0M132.2 632.2h0M126.4 573.1h0M130.7 604.7h0M124.9 578.8h0M131.7 541.3h0M132.7 575.1h0M125.4 534.3h0M125.8 614.5h0M124.6 568.3h0M123.9 558.1h0M133.4 594.4h0M125.7 574.5h0M125.5 575.2h0M135.7 609.3h0M114.3 617.5h0M121.7 569.2h0M132.3 562.4h0M132.5 549.8h0M130.3 604.3h0M124.2 559.0h0M124.8 542.6h0M123.8 553.6h0M120.7 563.2h0M126.7 560.5h0M129.9 610.5h0M120.7 588.4h0M128.1 552.1h0M117.3 566.0h0M123.9 579.8h0M123.1 556.9h0M129.2 525.9h0M133.3 557.5h0M124.3 561.8h0M124.8 562.3h0M126.1 575.4h0M126.2 604.8h0M104.8 600.7h0M132.1 595.0h0M125.5 571.7h0M134.5 573.8h0M127.9 538.7h0M132.1 572.5h0M118.5 580.6h0M151.3 619.4h0M125.8 567.2h0M121.0 594.0h0M134.5 585.2h0M126.4 592.4h0M125.5 551.2h0M130.8 561.6h0M128.7 546.1h0M125.3 604.2h0M119.8 596.0h0M115.0 600.0h0M128.5 589.1h0M126.2 532.9h0M128.6 585.8h0M140.0 592.2h0M126.7 553.1h0M117.5 595.9h0M116.6 587.5h0M126.4 584.7h0M118.4 542.2h0M123.8 547.7h0M121.4 552.7h0M128.3 576.1h0M116.8 578.2h0M116.8 594.1h0M123.9 538.8h0M138.4 617.6h0M118.8 576.6h0M135.0 590.1h0M121.3 615.5h0M116.6 585.6h0M119.0 575.2h0M129.6 566.1h0M123.7 596.1h0M127.5 559.3h0M118.4 569.7h0M131.4 557.6h0M133.9 621.8h0M120.6 587.5h0M121.4 591.4h0M124.2 563.6h0M122.1 594.3h0M130.2 589.0h0M132.5 603.8h0M123.5 605.0h0M138.5 599.0h0M144.9 602.0h0M123.3 570.6h0M124.9 564.5h0M131.5 584.8h0M127.6 590.4h0M117.7 577.7h0M127.2 595.6h0M124.0 545.9h0M122.7 593.0h0M125.5 592.1h0M122.6 592.3h0M127.5 563.3h0M119.8 562.2h0M126.9 543.0h0M122.2 560.9h0M117.7 574.5h0M127.8 566.8h0M127.9 607.8h0M123.6 564.2h0M125.8 573.3h0M122.9 530.8h0M127.9 543.7h0M98.6 596.5h0M136.8 590.4h0M124.5 556.9h0M116.7 625.4h0M126.9 598.6h0M123.7 562.2h0M125.1 575.0h0M122.4 581.7h0M138.9 602.6h0M132.2 576.1h0M122.5 590.0h0M124.1 575.3h0M118.4 589.8h0M124.6 591.5h0M124.5 576.1h0M130.5 554.7h0M123.2 549.0h0M126.8 556.4h0M133.5 576.4h0M103.3 606.9h0M124.9 585.7h0M124.3 559.3h0M126.5 588.5h0M124.8 574.6h0M128.7 580.8h0M126.9 538.0h0M125.3 594.7h0M133.1 558.4h0M125.2 560.9h0M126.4 570.0h0M136.7 629.8h0M130.8 548.4h0M123.1 567.7h0M126.1 550.2h0M124.8 604.5h0M124.4 578.6h0M132.4 583.1h0M120.1 551.3h0M120.4 565.7h0M127.4 588.9h0M124.6 558.1h0M129.6 557.7h0M134.0 587.1h0M123.9 568.2h0M128.4 606.1h0M129.6 545.2h0M121.7 562.0h0M129.8 577.6h0M120.1 568.9h0M123.4 569.2h0M129.1 584.1h0M126.1 590.6h0M145.1 590.9h0M126.5 588.3h0M110.2 604.1h0M126.3 583.5h0M124.6 553.8h0M134.0 572.1h0M123.8 576.0h0M128.1 584.4h0M134.3 587.0h0M168.5 611.9h0M119.7 594.0h0M136.3 612.0h0M131.8 571.2h0M121.0 611.4h0M121.6 609.2h0M126.0 540.0h0M131.6 579.9h0M138.7 592.4h0M128.0 531.4h0M131.4 589.8h0M114.9 598.7h0M119.1 564.5h0M121.9 543.1h0M115.2 613.4h0M124.5 570.4h0M122.0 616.6h0M133.2 566.4h0M127.9 592.4h0M122.2 594.3h0M126.8 557.5h0M129.8 535.7h0M133.4 579.2h0M127.4 565.0h0M132.5 601.2h0M120.2 582.6h0M129.9 533.2h0M133.4 609.2h0M109.1 613.6h0M121.9 594.0h0M135.3 604.1h0M125.4 527.4h0M136.5 619.5h0M125.2 566.1h0M130.3 547.4h0M127.3 582.7h0M125.5 551.9h0M125.2 564.9h0M116.8 605.8h0M130.8 588.9h0M124.5 534.7h0M114.8 600.0h0M120.2 631.2h0M126.8 548.6h0M128.7 565.6h0M122.6 574.0h0M127.6 599.3h0M97.5 621.1h0M122.6 559.3h0M128.8 606.2h0M124.0 592.0h0M129.3 608.9h0M135.4 599.5h0M123.4 544.3h0M128.1 605.8h0M131.0 573.7h0M117.6 597.0h0M121.6 610.2h0M125.4 578.3h0M118.6 557.8h0M125.9 524.6h0M167.9 606.3h0M127.5 599.1h0M121.3 579.7h0M121.7 545.8h0M116.8 602.6h0M118.7 559.4h0M107.4 593.4h0M147.1 603.0h0M138.8 616.1h0M127.2 575.6h0M131.2 554.6h0M124.1 581.2h0M128.1 628.7h0M116.1 592.0h0M116.1 557.3h0M118.6 558.7h0M124.2 572.4h0M126.5 608.8h0M118.6 608.0h0M122.3 563.1h0M122.3 583.7h0M136.8 590.4h0M120.0 559.3h0M139.7 627.8h0M134.0 625.5h0M127.4 580.1h0M122.1 570.1h0M123.2 589.3h0M131.3 569.6h0M120.8 618.4h0M123.2 530.7h0M125.9 601.8h0M132.1 565.7h0M132.7 627.4h0M121.8 539.7h0M130.7 568.6h0M123.9 532.4h0M140.2 594.5h0M129.2 553.4h0M120.3 583.0h0M125.9 579.9h0M106.1 600.2h0M123.9 561.2h0M123.6 533.8h0M126.5 535.9h0M122.4 554.0h0M129.7 570.7h0M118.6 601.5h0M129.0 542.1h0M131.8 594.5h0M117.3 552.8h0M124.1 578.0h0M129.3 578.3h0M129.0 588.7h0M131.0 574.0h0M128.9 590.6h0M128.9 571.5h0M122.1 568.0h0M129.0 598.3h0M132.8 570.5h0M120.6 577.2h0M118.4 564.3h0M116.0 577.0h0M119.7 601.3h0M126.6 561.0h0M109.1 594.2h0M127.6 571.5h0M123.8 627.4h0M131.4 566.3h0M127.7 600.1h0M132.7 564.5h0M120.7 587.1h0M134.0 540.8h0M131.1 562.6h0M124.3 607.9h0M120.7 583.1h0M138.9 620.2h0M125.7 585.9h0M128.3 565.4h0M127.4 558.6h0M126.8 580.8h0M125.4 584.0h0M127.8 574.4h0M125.8 592.5h0M133.2 570.5h0M115.8 554.6h0M128.5 596.5h0M118.4 589.7h0M121.2 570.0h0M116.2 537.6h0M134.2 529.7h0M133.2 576.6h0M122.0 549.7h0M139.5 617.5h0M127.9 565.2h0M141.9 626.9h0M116.4 552.1h0M129.6 566.1h0M123.5 567.8h0M122.0 589.0h0M122.4 594.8h0M127.4 572.7h0M125.3 541.6h0M136.3 589.9h0M125.5 590.5h0M107.4 593.8h0M124.4 582.1h0M126.4 579.2h0M146.3 614.3h0M132.0 536.0h0M123.2 570.1h0M123.3 581.6h0M122.6 571.7h0M119.5 592.5h0M125.6 554.6h0M124.4 589.0h0M117.3 564.4h0M120.2 596.4h0M112.0 600.4h0M129.8 554.8h0M122.0 576.0h0M122.3 575.8h0M110.3 595.7h0M131.2 582.7h0M118.7 594.5h0M115.7 596.9h0M118.9 554.6h0M132.5 593.4h0M131.8 541.3h0M131.4 561.6h0M125.5 549.6h0M123.0 573.9h0M120.1 573.1h0M128.0 595.8h0M115.7 582.8h0M125.3 536.8h0M123.4 630.1h0M124.2 567.4h0M128.3 539.8h0M122.0 557.9h0M131.6 554.7h0M133.6 582.7h0M127.1 549.1h0M128.6 577.3h0M133.4 529.9h0M119.2 576.6h0M124.2 579.0h0M126.7 596.3h0M125.2 619.3h0M124.7 547.6h0M119.5 576.2h0M124.8 576.7h0M128.0 611.8h0M118.4 601.9h0M122.1 563.7h0M124.3 554.8h0M119.7 558.7h0M131.0 595.9h0M128.4 595.2h0M122.6 558.8h0M119.7 550.9h0M129.4 539.7h0M124.7 577.1h0M134.3 578.9h0M129.0 590.3h0M129.1 558.4h0M118.2 609.8h0M125.5 602.7h0M123.8 565.9h0M126.1 571.3h0M122.1 565.0h0M123.0 584.8h0M117.5 588.3h0M131.3 580.9h0M112.2 614.2h0M124.9 537.1h0M126.1 594.5h0M117.9 563.8h0M121.0 578.6h0M123.0 559.6h0M134.4 597.1h0M128.6 606.6h0M119.9 566.3h0M130.7 593.2h0M124.6 577.7h0M126.1 584.2h0M132.4 570.9h0M122.0 573.6h0M132.3 599.6h0M124.2 613.6h0M127.2 596.5h0M122.7 557.6h0M127.0 560.7h0M120.6 586.3h0M126.6 600.9h0M120.2 551.9h0M126.8 572.7h0M124.4 564.5h0M137.4 599.0h0M137.5 593.0h0M121.7 562.0h0M117.1 559.8h0M147.8 600.3h0M120.1 570.3h0M126.0 604.3h0M124.1 561.6h0M121.5 592.5h0M133.3 572.5h0M129.4 588.2h0M124.5 573.8h0M122.1 577.2h0M132.9 575.7h0M134.2 608.3h0M122.5 563.6h0M119.9 577.5h0M131.4 562.6h0M131.0 576.4h0M129.1 560.9h0M131.4 591.2h0M127.5 577.6h0M127.0 590.9h0M122.9 610.1h0M114.8 592.2h0M131.7 587.1h0M125.5 576.6h0M114.1 592.1h0M126.7 581.5h0M118.6 626.9h0M117.8 575.1h0M125.5 564.3h0M126.5 551.8h0M126.1 582.1h0M116.4 579.2h0M124.6 588.5h0M122.3 574.5h0M119.6 549.0h0M120.9 616.6h0M121.7 588.9h0M134.3 571.0h0M128.7 600.6h0M129.6 609.3h0M136.2 615.8h0M127.6 571.2h0M123.4 595.8h0M125.9 562.7h0M120.8 584.5h0M107.0 599.9h0M129.3 574.9h0M132.8 578.1h0M132.5 586.0h0M124.2 577.7h0M133.9 557.9h0M121.4 591.1h0M121.5 608.6h0M124.6 556.7h0M124.2 569.5h0M129.7 585.5h0M126.5 617.1h0M121.4 575.8h0M123.0 610.1h0M119.9 588.1h0M129.2 564.6h0M129.2 573.8h0M120.5 590.7h0M128.7 558.1h0M125.9 578.4h0M116.7 533.8h0M132.6 624.0h0M130.1 589.4h0M123.5 594.7h0M118.9 544.0h0M125.1 560.1h0M130.7 567.8h0M131.4 578.0h0M127.8 557.8h0M127.2 566.1h0M122.6 545.1h0M125.4 553.5h0M126.7 567.9h0M127.1 613.1h0M133.6 577.0h0M124.4 568.1h0M124.2 604.0h0M130.6 609.1h0M130.7 584.1h0M127.3 616.3h0M119.8 569.9h0M129.2 582.8h0M131.7 566.4h0M130.5 592.3h0M116.0 562.8h0M128.4 605.7h0M125.1 602.0h0M124.9 557.1h0M118.2 583.2h0M131.9 608.0h0M122.8 601.0h0M130.8 597.5h0M118.9 564.7h0M130.4 586.2h0M130.2 606.3h0M133.5 576.6h0M129.1 605.9h0M129.7 592.6h0M121.2 563.0h0M129.0 578.3h0M128.9 564.9h0M131.3 577.4h0M128.7 544.4h0M124.5 579.1h0M123.2 605.6h0M133.1 580.7h0M127.5 544.7h0M119.8 552.8h0M130.5 547.7h0M117.8 553.6h0M124.2 588.9h0M119.8 570.7h0M134.1 570.9h0M126.0 556.6h0M123.1 600.3h0M130.1 605.2h0M124.1 559.2h0M128.9 562.8h0M126.3 542.2h0M122.7 527.4h0M138.6 632.5h0M115.6 567.8h0M129.9 551.5h0M109.9 621.2h0M116.9 618.2h0M116.1 580.9h0M124.9 533.0h0M126.6 525.3h0M133.4 549.2h0M122.9 566.0h0M129.9 573.9h0M121.7 569.3h0M117.6 620.2h0M102.0 596.0h0M116.0 560.5h0M127.0 567.7h0M143.0 623.6h0M122.0 559.5h0M124.9 572.4h0M128.0 561.0h0M113.7 616.8h0M118.8 582.0h0M145.0 605.6h0M132.6 596.3h0M120.8 597.5h0M118.8 554.5h0M122.7 590.7h0M126.4 576.4h0M131.5 576.1h0M123.7 567.0h0M127.4 581.4h0M130.0 629.4h0M124.9 569.2h0M129.9 602.5h0M122.4 582.2h0M124.2 585.0h0M123.4 584.1h0M130.9 575.1h0M129.6 577.3h0M126.2 549.9h0M126.3 595.6h0M132.1 531.4h0M123.6 574.9h0M122.1 543.2h0M123.2 602.5h0M117.1 544.3h0M126.0 547.6h0M133.8 575.5h0M132.8 591.3h0M124.8 591.7h0M127.9 600.3h0M133.9 595.1h0M110.8 600.9h0M132.8 601.0h0M133.9 572.1h0M113.9 618.9h0M124.4 573.9h0M125.0 561.6h0M109.6 599.7h0M123.5 599.0h0M129.5 577.2h0M116.3 578.7h0M128.3 624.2h0M119.0 579.3h0M130.9 531.4h0M124.8 590.4h0M134.0 536.8h0M124.5 565.5h0M130.1 577.9h0M116.8 584.1h0M128.7 598.8h0M125.5 555.6h0M124.4 548.4h0M127.6 586.4h0M123.3 566.3h0M150.5 632.6h0M124.5 560.8h0M109.4 606.3h0M128.2 604.3h0M119.7 542.8h0M119.3 603.4h0M121.7 598.2h0M129.3 599.7h0M115.6 589.9h0M124.5 597.0h0M117.9 615.7h0M124.7 595.5h0M126.9 556.5h0M128.0 586.3h0M119.7 553.9h0M130.7 559.3h0M127.9 554.2h0M126.9 587.1h0M116.1 562.9h0M121.9 613.9h0M126.1 609.8h0M124.7 576.1h0M128.4 544.6h0M116.7 584.0h0M154.5 618.9h0M124.3 584.5h0M117.5 573.2h0M112.3 604.8h0M114.3 595.7h0M123.0 576.1h0M117.4 560.3h0M119.0 568.0h0M125.4 560.0h0M126.2 611.4h0M120.6 582.5h0M127.5 554.5h0M133.0 571.2h0M122.4 583.0h0M132.4 580.2h0M125.3 579.4h0M126.9 610.7h0M133.5 558.1h0M126.9 560.7h0M118.8 620.7h0M120.7 577.3h0M127.4 612.3h0M117.0 554.2h0M124.6 564.6h0M125.7 592.8h0M114.0 622.3h0M110.4 601.6h0M118.0 585.4h0M113.7 612.2h0M103.3 600.7h0M123.4 537.8h0M127.5 607.9h0M128.9 564.4h0M134.8 620.6h0M125.2 571.3h0M122.8 557.8h0M126.3 566.8h0M121.5 550.6h0M134.3 527.5h0M127.1 609.3h0M125.5 567.1h0M126.9 538.6h0M117.9 570.5h0M126.9 549.1h0M116.6 573.3h0M122.9 563.9h0M131.5 594.5h0M120.0 569.3h0M129.4 572.1h0M127.1 553.4h0M121.6 578.9h0M129.3 543.6h0M115.5 589.7h0M127.1 572.9h0M131.2 574.1h0M121.3 601.6h0M122.2 570.2h0M115.3 591.6h0M126.9 582.3h0M126.9 606.7h0M117.7 588.7h0M125.2 543.6h0M136.2 590.9h0M118.7 607.0h0M125.1 550.4h0M118.3 552.9h0M119.7 551.0h0M128.8 562.4h0M120.7 613.2h0M133.4 545.7h0M127.7 574.8h0M118.8 630.7h0M121.1 552.2h0M120.5 597.4h0M129.3 544.9h0M125.3 544.8h0M125.6 566.9h0M124.4 536.8h0M133.6 545.6h0M115.3 598.4h0M128.9 607.6h0M130.4 530.3h0M132.5 566.7h0M130.3 615.2h0M118.1 577.9h0M133.3 591.2h0M126.6 613.3h0M129.3 591.2h0M120.4 568.3h0M111.2 609.9h0M131.1 610.6h0M120.5 571.9h0M71.2 617.8h0M129.6 560.0h0M128.1 561.2h0M127.9 557.0h0M126.9 533.0h0M133.3 572.7h0M116.8 574.0h0M134.4 587.7h0M92.8 621.2h0M131.6 605.5h0M121.0 605.5h0M120.2 572.4h0M152.3 591.9h0M119.5 563.8h0M132.5 572.6h0M132.6 578.2h0M114.3 599.0h0M122.0 548.9h0M127.8 586.7h0M124.8 553.8h0M124.7 572.8h0M124.0 591.4h0M118.8 583.7h0M124.6 589.2h0M119.7 585.8h0M131.5 577.5h0M122.9 540.9h0M131.4 537.7h0M132.9 570.9h0M117.8 574.6h0M117.0 592.4h0M126.2 544.6h0M127.0 566.3h0M132.1 552.2h0M117.1 608.6h0M117.9 557.7h0M121.7 552.4h0M131.4 575.2h0M121.0 559.3h0M124.3 603.5h0M126.5 540.9h0M128.9 567.1h0M126.8 601.1h0M120.7 547.4h0M120.6 553.7h0M127.1 563.2h0M122.3 599.3h0M125.1 560.7h0M133.2 584.3h0M122.8 560.6h0M122.1 595.2h0M123.1 550.4h0M127.3 570.8h0M117.5 568.7h0M125.7 591.4h0M122.7 553.0h0M129.4 570.6h0M132.7 587.9h0M122.9 565.5h0M116.3 579.4h0M118.2 552.7h0M133.3 610.0h0M116.8 601.4h0M123.5 528.8h0M121.1 586.2h0M122.7 584.2h0M123.7 569.8h0M127.4 620.9h0M126.3 562.1h0M123.5 574.1h0M123.1 593.3h0M120.6 597.1h0M125.6 542.8h0M117.6 563.1h0M134.3 603.0h0M129.7 574.9h0M117.9 606.2h0M126.9 566.3h0M139.4 617.2h0M124.5 553.7h0M130.3 560.5h0M122.9 567.9h0M130.8 588.1h0M124.6 579.7h0M131.1 622.5h0M127.8 543.3h0M124.9 563.6h0M124.1 607.2h0M122.2 608.5h0M127.0 606.0h0M123.7 562.8h0M131.4 577.0h0M124.7 556.3h0M127.4 628.3h0M123.9 585.0h0M121.3 547.2h0M130.3 571.9h0M123.8 615.0h0M124.8 545.9h0M127.6 603.3h0M122.9 567.7h0M123.8 527.2h0M129.5 574.0h0M127.1 581.2h0M127.2 557.7h0M121.5 595.2h0M138.7 598.0h0M127.4 552.3h0M123.7 610.7h0M178.4 604.9h0M118.7 540.1h0M96.9 605.1h0M130.0 565.5h0M129.1 548.5h0M133.1 577.3h0M123.1 600.8h0M125.8 556.6h0M127.4 597.8h0M124.8 600.0h0M124.4 562.4h0M129.8 592.5h0M124.6 567.2h0M123.7 599.0h0M125.0 564.0h0M120.5 614.8h0M123.9 579.8h0M122.4 594.5h0M134.4 553.4h0M124.9 575.3h0M117.0 584.4h0M133.7 580.2h0M116.6 581.6h0M149.7 601.1h0M115.1 605.9h0M128.1 582.9h0M128.1 608.2h0M126.8 595.3h0M124.7 545.8h0M143.8 607.7h0M119.3 557.3h0M128.0 579.3h0M121.9 555.9h0M122.6 551.8h0M128.8 570.9h0M131.7 602.4h0M131.6 564.4h0M125.0 578.6h0M119.2 585.9h0M131.1 568.1h0M130.5 582.1h0M132.7 611.7h0M126.4 581.9h0M117.4 544.6h0M123.7 575.5h0M130.5 585.0h0M124.8 600.4h0M133.6 572.0h0M124.9 558.2h0M128.2 587.4h0M124.7 573.0h0M140.0 593.7h0M123.2 556.5h0M123.7 590.5h0M129.2 628.6h0M124.7 559.2h0M115.2 594.8h0M116.9 584.3h0M123.6 561.6h0M161.2 591.4h0M120.8 542.0h0M121.2 531.9h0M126.9 540.7h0M123.5 574.4h0M124.4 543.6h0M133.2 596.3h0M102.8 601.7h0M120.5 569.8h0M116.5 595.9h0M124.3 610.0h0M105.4 624.1h0M133.3 585.3h0M126.6 567.8h0M124.9 572.7h0M126.8 562.8h0M132.0 578.9h0M124.5 613.5h0M129.4 552.3h0M120.4 586.1h0M121.2 567.3h0M122.8 564.6h0M118.6 553.8h0M130.9 594.6h0M117.6 557.7h0M131.1 555.4h0M116.1 577.4h0M121.3 572.7h0M128.4 600.1h0M127.7 602.8h0M136.3 594.5h0M121.8 601.3h0M126.6 563.8h0M118.8 585.0h0M128.6 598.6h0M124.4 556.6h0M128.6 614.6h0M130.8 554.3h0M126.7 617.9h0M130.4 561.1h0M118.6 586.7h0M124.8 582.4h0M123.3 544.0h0M128.1 525.2h0M130.5 541.4h0M119.8 607.7h0M128.3 585.9h0M131.6 573.4h0M101.4 590.5h0M117.6 582.2h0M127.9 532.3h0M130.3 580.8h0M113.2 606.1h0M121.3 588.5h0M130.8 593.3h0M120.2 546.9h0M133.3 550.5h0M111.0 592.5h0M123.6 602.3h0M129.5 595.2h0M118.4 575.6h0M129.2 584.4h0M129.7 551.1h0M132.5 574.4h0M122.7 538.5h0M143.2 594.2h0M115.9 561.4h0M129.7 577.5h0M131.7 550.8h0M125.9 576.9h0M131.7 588.5h0M130.6 579.0h0M129.3 596.6h0M105.7 601.7h0M120.2 557.9h0M124.4 590.2h0M117.5 551.3h0M134.4 585.0h0M116.3 557.2h0M123.2 578.1h0M134.6 620.5h0M127.2 578.5h0M118.9 604.7h0M133.1 580.3h0M125.6 610.3h0M130.5 569.2h0M126.7 580.0h0M126.9 563.1h0M122.6 575.4h0M122.1 609.7h0M122.2 573.6h0M123.9 562.1h0M129.3 563.7h0M130.7 564.1h0M122.3 627.1h0M128.9 562.3h0M138.6 624.3h0M131.8 607.2h0M116.3 580.3h0M124.3 600.2h0M132.4 596.2h0M125.8 551.3h0M124.5 602.6h0M129.6 531.1h0M124.1 603.5h0M119.4 613.6h0M120.6 576.3h0M130.8 523.5h0M134.5 591.0h0M134.1 580.8h0M120.2 560.3h0M128.1 548.9h0M120.7 578.0h0M118.7 581.0h0M132.1 566.0h0M126.2 587.5h0M106.6 619.2h0M121.8 575.1h0M129.6 592.0h0M126.0 583.4h0M132.6 584.8h0M124.1 598.6h0M128.4 552.1h0M124.0 565.6h0M117.1 593.2h0M130.5 573.9h0M128.4 561.6h0M123.4 580.3h0M126.6 561.6h0M147.5 610.9h0M134.4 538.9h0M116.0 556.4h0M119.0 575.0h0M132.5 521.3h0M118.2 554.2h0M117.7 594.1h0M131.8 588.3h0M129.6 591.4h0M116.7 605.8h0M128.2 560.9h0M130.3 521.2h0M126.9 557.2h0M122.5 607.9h0M125.6 565.0h0M119.5 611.4h0M116.3 572.1h0M128.9 540.3h0M123.5 569.7h0M123.4 542.0h0M118.5 599.3h0M127.6 614.2h0M130.5 531.7h0M129.5 614.3h0M116.0 556.8h0M131.9 557.9h0M121.6 599.4h0M131.9 573.4h0M122.7 558.2h0M127.2 591.8h0M122.9 550.5h0M128.1 591.8h0M118.8 552.8h0M126.5 586.1h0M128.1 582.4h0M130.9 579.2h0M121.0 551.1h0M134.4 592.5h0M127.2 595.3h0M124.0 582.3h0M117.5 568.8h0M120.6 607.7h0M130.0 591.5h0M123.8 602.1h0M124.1 553.0h0M118.0 578.1h0M125.0 561.3h0M118.5 607.7h0M128.7 568.4h0M111.8 601.7h0M123.3 592.2h0M126.7 589.2h0M121.6 573.7h0M133.1 570.6h0M129.4 610.2h0M121.1 569.5h0M117.6 572.3h0M128.9 570.4h0M133.0 597.5h0M125.0 578.8h0M123.8 548.0h0M118.1 552.9h0M124.2 591.5h0M129.5 587.0h0M113.4 598.1h0M132.5 548.6h0M116.1 569.6h0M127.2 582.6h0M131.4 574.1h0M117.1 560.1h0M125.8 481.3h0M122.6 484.1h0M120.0 486.3h0M116.0 489.7h0M117.8 488.2h0M116.1 489.6h0M123.9 483.0h0M126.7 480.6h0M123.1 498.6h0M120.1 501.2h0M119.6 501.6h0M119.5 501.7h0M122.6 499.0h0M118.0 502.9h0M125.6 496.5h0M118.7 511.1h0M125.1 505.6h0M121.4 508.7h0M116.0 513.4h0M122.3 508.0h0M116.9 512.6h0M121.0 509.1h0M125.1 505.6h0M116.4 513.0h0M117.6 511.9h0M122.2 508.1h0M122.2 514.3h0M119.7 516.4h0M128.8 508.7h0M133.5 504.6h0M116.5 519.1h0M122.1 514.3h0M122.1 514.4h0M124.6 512.3h0M118.3 517.6h0M126.7 510.5h0M116.3 519.3h0M119.8 521.1h0M121.1 520.0h0M129.1 513.2h0M121.2 519.9h0M116.1 524.2h0M116.4 524.0h0M116.7 523.8h0M121.1 520.0h0M123.0 518.4h0M124.1 517.4h0M127.7 514.4h0M133.8 509.2h0M121.6 519.6h0M119.0 525.7h0M118.7 526.0h0M118.8 525.9h0M120.4 524.5h0M123.4 522.0h0M128.7 517.5h0M119.2 525.5h0M116.7 527.7h0M127.8 518.2h0M121.2 527.2h0M117.2 530.6h0M118.4 529.6h0M125.2 523.7h0M134.2 516.1h0M128.7 520.8h0M126.4 522.7h0M126.6 522.6h0M127.0 522.3h0M119.6 528.5h0M120.5 527.8h0M119.2 528.9h0M128.9 520.7h0M117.4 530.4h0M117.1 533.5h0M117.6 533.1h0M133.4 519.6h0M119.3 531.7h0M131.4 521.4h0M118.4 532.4h0M131.4 521.4h0M116.3 534.2h0M129.5 523.0h0M118.4 532.4h0M125.0 526.8h0M124.5 527.3h0M132.7 520.3h0M117.6 533.1h0M124.3 527.4h0M125.2 526.6h0M122.7 528.7h0M117.4 535.8h0M123.6 530.5h0M123.4 530.7h0M120.5 533.1h0M116.7 536.4h0M119.1 534.3h0M120.9 532.8h0M129.2 525.8h0M115.8 537.2h0M117.5 535.7h0M119.7 533.8h0M125.1 529.3h0M119.1 536.7h0M122.2 534.0h0M121.0 535.0h0M126.0 530.7h0M128.5 528.6h0M115.8 539.4h0M133.0 524.8h0M128.5 528.6h0M122.6 533.7h0M120.4 535.5h0M129.7 527.6h0M121.1 534.9h0M118.1 537.5h0M120.8 535.2h0M126.0 530.8h0M117.8 537.7h0M123.8 532.6h0M118.0 537.6h0M131.1 528.5h0M118.4 539.3h0M120.8 537.3h0M120.9 537.2h0M119.0 538.7h0M126.7 532.2h0M130.2 529.2h0M116.0 541.3h0M119.3 538.5h0M132.1 527.6h0M122.5 535.8h0M120.5 537.5h0M125.3 533.4h0M131.6 528.1h0M128.8 530.5h0M116.1 541.2h0M121.6 536.6h0M118.5 539.2h0M124.0 534.6h0M117.3 540.2h0M118.1 539.5h0M120.2 453.7h0M122.8 453.7h0M125.4 453.7h0M128.0 453.7h0M130.7 453.7h0M51.5 624.2h0M56.4 619.3h0M71.1 616.8h0M66.2 604.4h0M172.5 614.3h0M175.8 611.8h0M170.9 629.2h0M161.1 636.6h0" stroke="#BEBEBE" stroke-width="1.9" stroke-linecap="square" fill="none"/>
<path d="M110.8 589.3h0M112.1 584.7h0M108.1 559.0h0M106.0 558.4h0M113.4 573.6h0M111.8 554.4h0M110.8 579.6h0M93.3 568.9h0M114.6 579.6h0M112.4 587.8h0M106.7 586.1h0M99.7 568.9h0M81.1 571.0h0M112.0 556.3h0M109.1 574.3h0M112.1 559.1h0M114.5 583.7h0M110.1 564.0h0M103.3 557.5h0M108.0 556.2h0M114.3 588.5h0M109.3 573.4h0M111.8 588.1h0M110.0 558.7h0M111.0 559.0h0M114.4 578.2h0M78.7 573.8h0M105.7 558.3h0M110.8 588.7h0M115.0 579.6h0M113.6 545.2h0M113.1 570.1h0M98.3 559.9h0M108.8 588.1h0M106.3 572.8h0M109.4 581.7h0M108.3 553.2h0M109.6 587.3h0M111.1 571.0h0M113.0 561.2h0M112.3 558.2h0M112.9 586.4h0M108.5 580.2h0M95.4 569.8h0M115.5 569.2h0M113.6 589.0h0M115.3 564.6h0M107.3 553.9h0M113.4 588.2h0M114.1 565.6h0M102.3 553.4h0M87.1 580.9h0M104.0 559.2h0M105.9 587.5h0M115.4 572.5h0M111.3 573.4h0M114.9 567.6h0M108.7 585.9h0M115.6 561.0h0M111.7 558.2h0M109.4 556.6h0M115.6 583.6h0M113.5 552.4h0M112.0 577.4h0M111.2 576.9h0M112.5 558.2h0M98.7 559.8h0M110.8 582.4h0M110.4 555.0h0M107.2 566.3h0M106.7 555.4h0M99.8 575.3h0M114.8 554.3h0M115.4 557.0h0M89.6 571.5h0M112.4 552.2h0M105.9 584.0h0M86.6 589.0h0M111.7 574.6h0M112.9 548.5h0M114.7 548.1h0M114.6 561.8h0M114.8 582.0h0M99.1 580.4h0M114.4 570.2h0M114.6 578.5h0M114.3 559.3h0M88.4 560.0h0M112.8 581.6h0M114.5 559.8h0M114.3 585.6h0M112.2 565.2h0M108.8 544.9h0M89.8 577.8h0M106.5 564.1h0M108.5 580.7h0M102.3 573.9h0M112.9 554.5h0M106.1 578.0h0M107.2 559.2h0M112.3 581.9h0M110.1 553.2h0M102.3 572.6h0M113.8 557.5h0M114.8 587.3h0M110.6 553.1h0M113.1 577.8h0M115.6 568.5h0M111.6 586.7h0M108.7 558.5h0M107.8 574.6h0M113.4 551.8h0M112.0 552.8h0M109.9 581.4h0M112.3 567.9h0M110.0 581.8h0M113.2 559.3h0M115.2 583.1h0M113.5 557.9h0M96.8 565.9h0M111.6 578.4h0M109.7 565.1h0M109.7 580.5h0M110.0 553.9h0M79.8 559.9h0M111.9 570.5h0M110.6 561.3h0M104.3 582.9h0M113.8 563.7h0M105.0 583.8h0M105.1 565.1h0M100.4 565.6h0M113.1 569.1h0M87.7 562.5h0M110.3 588.7h0M113.8 558.4h0M90.9 562.1h0M115.2 555.2h0M114.5 588.2h0M113.9 587.3h0M109.9 563.0h0M115.6 568.5h0M113.8 570.8h0M115.2 548.6h0M112.9 554.2h0M112.7 570.4h0M102.8 581.8h0M79.3 560.5h0M106.3 586.3h0M115.2 586.1h0M114.7 556.0h0M114.9 561.0h0M109.7 568.5h0M114.8 558.4h0M112.6 581.7h0M101.1 574.7h0M108.7 574.3h0M112.6 578.5h0M112.7 580.7h0M106.9 557.2h0M112.0 573.5h0M108.4 556.4h0M97.7 587.2h0M111.9 583.6h0M110.2 579.3h0M108.9 579.9h0M113.8 588.2h0M98.2 559.9h0M110.9 543.4h0M114.1 574.3h0M96.7 565.0h0M115.5 571.0h0M115.0 559.3h0M104.5 556.5h0M107.7 558.6h0M96.6 560.4h0M114.2 568.0h0M113.2 585.3h0M111.6 569.7h0M110.7 585.6h0M113.0 554.4h0M114.8 542.7h0M110.2 583.5h0M113.3 558.5h0M106.5 557.1h0M111.4 585.7h0M114.2 583.6h0M110.6 560.1h0M115.6 564.7h0M114.6 588.6h0M113.1 566.2h0M115.5 587.3h0M108.2 557.8h0M115.1 560.7h0M108.3 571.7h0M109.3 555.0h0M110.0 580.1h0M110.9 557.5h0M114.9 587.3h0M102.2 573.0h0M115.6 568.6h0M97.2 572.9h0M114.5 554.0h0M114.8 588.1h0M109.5 557.7h0M113.3 568.7h0M108.3 557.2h0M114.6 573.0h0M109.1 564.5h0M114.4 562.4h0M115.5 568.8h0M109.6 574.8h0M112.1 549.1h0M111.2 567.8h0M115.4 589.2h0M105.5 568.6h0M104.9 587.9h0M101.3 573.7h0M110.8 587.1h0M113.3 585.2h0M113.5 553.7h0M113.9 575.3h0M113.6 556.6h0M110.7 588.3h0M107.2 586.2h0M110.9 573.6h0M99.1 559.8h0M113.6 554.2h0M107.9 562.3h0M103.5 576.9h0M109.0 552.2h0M113.6 571.2h0M105.1 548.7h0M100.6 558.7h0M114.8 565.7h0M113.1 584.6h0M114.2 576.9h0M109.8 555.4h0M113.9 555.6h0M115.6 563.3h0M98.7 559.8h0M100.7 559.7h0M115.4 582.5h0M95.7 579.2h0M94.4 559.9h0M115.3 588.4h0M107.3 583.8h0M114.9 586.0h0M107.2 559.3h0M112.3 556.8h0M81.4 569.5h0M113.1 570.3h0M105.4 558.6h0M100.8 571.6h0M111.1 565.2h0M115.4 588.2h0M110.3 589.4h0M114.9 553.4h0M92.5 561.0h0M114.6 563.8h0M110.9 578.4h0M95.6 579.2h0M115.4 589.4h0M113.8 572.0h0M111.6 571.9h0M82.8 572.0h0M87.3 566.3h0M114.9 575.7h0M114.0 582.7h0M115.5 565.1h0M110.5 558.9h0M114.6 586.6h0M107.0 589.4h0M103.7 584.8h0M113.2 576.2h0M97.1 572.4h0M115.3 576.6h0M114.1 560.7h0M110.3 565.0h0M112.4 554.1h0M111.7 555.4h0M110.8 569.3h0M113.0 564.3h0M112.4 584.5h0M108.2 586.2h0M113.0 578.7h0M99.0 560.6h0M99.0 572.0h0M113.8 558.7h0M105.1 583.9h0M113.5 548.3h0M114.8 558.1h0M115.3 571.0h0M107.7 585.4h0M102.6 557.3h0M115.4 534.7h0M110.2 568.9h0M108.9 569.8h0M114.4 572.6h0M108.9 559.9h0M110.1 553.5h0M109.0 572.0h0M111.1 546.1h0M110.3 559.2h0M112.6 578.7h0M111.4 554.4h0M93.9 559.8h0M113.0 560.0h0M110.0 552.2h0M111.7 582.6h0M115.1 550.6h0M113.7 582.8h0M114.6 577.1h0M112.8 565.0h0M108.6 583.0h0M107.4 570.4h0M99.5 586.9h0M108.0 584.9h0M110.1 550.9h0M108.8 558.5h0M115.5 578.9h0M104.2 578.0h0M114.3 491.2h0M115.0 490.5h0M114.8 490.7h0M110.3 509.5h0M113.1 507.1h0M115.3 505.2h0M111.5 508.4h0M102.1 516.4h0M111.1 517.5h0M107.6 520.5h0M115.6 513.7h0M103.2 524.2h0M112.5 522.5h0M102.3 531.1h0M110.5 524.2h0M107.9 526.4h0M111.0 523.8h0M105.7 528.3h0M107.3 526.9h0M99.7 533.4h0M113.4 521.7h0M107.6 531.4h0M110.2 529.2h0M102.9 535.4h0M112.7 527.1h0M106.5 532.4h0M113.1 526.8h0M104.4 534.2h0M98.0 539.7h0M112.9 526.9h0M109.6 533.7h0M100.6 541.3h0M109.1 534.1h0M112.5 531.3h0M101.5 540.6h0M108.3 534.8h0M112.3 531.4h0M110.6 532.9h0M107.3 535.7h0M105.8 536.9h0M102.1 540.1h0M104.6 537.9h0M104.1 538.4h0M107.3 535.7h0M100.4 541.5h0M104.6 537.9h0M107.3 535.7h0M113.3 533.9h0M114.8 532.6h0M114.2 533.1h0M107.9 538.4h0M104.5 541.3h0M115.4 532.1h0M107.9 538.5h0M108.3 538.1h0M115.5 532.0h0M104.2 541.6h0M108.2 538.2h0M94.4 549.9h0M111.0 535.8h0M111.0 535.8h0M111.1 538.6h0M104.5 544.2h0M96.0 551.4h0M114.0 536.1h0M112.8 537.1h0M109.0 540.4h0M111.7 538.1h0M108.0 541.3h0M96.4 551.1h0M114.6 535.6h0M110.7 539.0h0M111.3 538.5h0M114.1 536.1h0M103.9 544.7h0M115.4 535.0h0M112.9 539.7h0M96.6 553.5h0M113.5 539.2h0M112.2 540.2h0M96.3 553.7h0M109.0 542.9h0M109.3 542.6h0M107.9 543.9h0M112.5 540.0h0M106.1 545.4h0M101.9 548.9h0M111.3 541.0h0M101.2 549.6h0M104.8 546.5h0M99.9 550.7h0M107.6 544.1h0M115.0 537.8h0M108.0 543.8h0M111.7 540.7h0M107.1 544.5h0M104.6 546.7h0M109.1 542.9h0M111.8 542.8h0M107.7 546.3h0M99.6 553.2h0M92.4 559.3h0M105.5 548.2h0M114.6 540.5h0M113.1 541.7h0M115.4 539.7h0M106.7 547.1h0M106.5 547.4h0M111.1 543.4h0M104.9 548.6h0M110.6 543.8h0M91.6 559.9h0M103.3 550.0h0M108.7 545.5h0M105.7 550.0h0M109.9 546.5h0M111.7 545.0h0M105.0 550.7h0M112.9 544.0h0M113.9 543.1h0M108.4 547.8h0M110.2 546.3h0M101.8 553.3h0M115.6 541.7h0M104.4 551.2h0M107.3 548.7h0M109.4 546.9h0M109.5 546.8h0M99.6 555.2h0M106.3 549.5h0M114.0 543.0h0M113.1 543.8h0M106.9 549.0h0M103.9 551.5h0M92.4 453.7h0M54.8 545.9h0" stroke="#66C2A5" stroke-width="1.9" stroke-linecap="square" fill="none"/>
<path d="M141.0 572.7h0M135.8 558.8h0M139.1 584.8h0M136.5 564.4h0M135.2 571.5h0M144.5 548.0h0M140.1 583.7h0M136.9 581.3h0M139.1 543.6h0M136.4 526.4h0M136.0 573.6h0M136.5 554.3h0M152.7 580.8h0M143.4 560.3h0M137.3 558.0h0M140.8 576.6h0M147.2 584.5h0M145.3 559.9h0M135.2 581.3h0M148.5 565.4h0M136.3 574.2h0M147.8 584.9h0M143.5 583.0h0M134.7 559.2h0M136.0 587.2h0M142.7 559.1h0M141.1 574.2h0M137.6 587.5h0M148.8 563.7h0M137.3 585.2h0M138.7 564.6h0M143.9 569.4h0M139.7 557.5h0M136.8 576.3h0M144.3 576.8h0M142.3 588.3h0M136.0 586.1h0M140.8 562.5h0M136.5 574.5h0M136.9 585.2h0M137.7 573.0h0M134.6 587.8h0M143.2 587.6h0M138.1 566.8h0M136.9 542.4h0M138.3 541.9h0M141.7 575.2h0M135.2 582.1h0M136.7 581.0h0M136.1 571.8h0M138.5 564.1h0M139.7 572.2h0M134.6 573.1h0M135.1 548.8h0M134.8 584.2h0M138.7 574.3h0M135.4 526.8h0M136.1 562.5h0M146.2 561.8h0M151.1 554.9h0M136.1 581.9h0M136.4 569.5h0M150.3 564.7h0M136.8 566.7h0M148.0 570.6h0M138.2 563.8h0M135.6 581.1h0M134.9 572.8h0M136.2 578.2h0M146.1 569.8h0M138.0 579.2h0M136.6 561.1h0M137.5 573.1h0M140.3 558.3h0M145.5 577.0h0M135.8 565.4h0M141.5 555.9h0M139.4 554.3h0M140.4 543.3h0M137.8 569.7h0M140.1 570.4h0M146.0 587.6h0M136.4 589.0h0M144.4 561.0h0M140.9 589.0h0M145.6 584.3h0M140.6 569.7h0M147.4 545.9h0M134.6 556.6h0M138.4 569.7h0M136.7 581.4h0M142.4 560.5h0M137.3 586.8h0M142.2 548.9h0M141.5 565.7h0M139.1 573.4h0M135.9 561.3h0M136.9 585.8h0M147.0 513.8h0M135.9 574.9h0M138.2 586.9h0M142.8 586.9h0M143.1 569.9h0M146.5 535.7h0M139.6 574.3h0M134.6 527.3h0M138.3 521.0h0M136.5 583.7h0M136.8 576.3h0M140.9 572.3h0M143.7 577.5h0M147.5 572.0h0M146.1 583.4h0M150.5 566.5h0M136.9 569.6h0M134.6 581.8h0M141.4 580.1h0M137.2 560.9h0M134.6 572.2h0M140.9 514.3h0M135.5 545.3h0M140.5 575.9h0M139.7 521.8h0M143.6 568.7h0M145.4 561.1h0M136.8 542.1h0M139.0 567.1h0M141.4 584.7h0M137.1 575.4h0M145.3 586.9h0M146.2 571.1h0M134.9 585.6h0M139.2 568.8h0M142.0 512.4h0M138.2 583.6h0M135.4 589.1h0M135.4 554.4h0M144.7 587.0h0M134.6 544.2h0M135.6 576.4h0M135.1 588.6h0M143.8 575.5h0M135.8 575.1h0M135.0 552.8h0M141.6 572.4h0M138.8 575.4h0M139.5 554.5h0M136.4 554.1h0M135.0 584.5h0M135.6 547.6h0M144.6 560.1h0M135.5 579.0h0M138.3 588.1h0M142.8 585.2h0M136.8 565.2h0M140.1 585.5h0M135.2 557.2h0M134.9 532.3h0M148.4 569.5h0M137.5 583.3h0M139.3 571.3h0M136.0 551.2h0M135.8 579.2h0M135.2 586.0h0M140.9 560.3h0M142.9 583.0h0M151.4 566.0h0M138.2 573.6h0M137.2 576.4h0M141.0 531.6h0M135.0 587.3h0M139.7 578.0h0M139.4 539.7h0M139.0 554.3h0M138.4 565.0h0M135.3 583.5h0M149.3 574.6h0M134.8 545.0h0M141.7 569.3h0M135.6 583.1h0M134.9 588.9h0M141.1 583.0h0M150.6 528.7h0M142.2 532.6h0M140.4 541.0h0M134.7 563.8h0M139.2 562.6h0M135.8 551.5h0M137.1 588.5h0M137.2 585.8h0M138.6 587.7h0M145.9 589.0h0M149.7 567.0h0M148.7 514.3h0M134.7 583.8h0M138.4 569.9h0M135.1 586.8h0M142.0 550.8h0M138.4 532.8h0M150.8 546.1h0M139.6 552.6h0M145.8 585.6h0M134.8 587.5h0M135.4 567.8h0M135.7 583.6h0M153.7 571.6h0M148.6 585.7h0M136.9 567.7h0M134.7 566.7h0M136.4 555.7h0M138.0 561.8h0M139.3 547.7h0M146.6 512.2h0M137.0 570.1h0M147.7 525.4h0M140.7 577.2h0M137.6 584.1h0M149.3 505.1h0M137.7 564.5h0M143.2 582.0h0M139.9 553.1h0M138.3 515.5h0M137.4 581.5h0M137.0 526.2h0M153.3 570.9h0M135.2 580.0h0M137.2 587.2h0M139.7 557.9h0M136.0 553.1h0M137.3 562.5h0M141.1 586.8h0M143.9 582.3h0M138.4 588.9h0M134.8 579.5h0M135.4 581.1h0M138.3 562.7h0M137.5 519.7h0M136.7 561.8h0M134.8 548.3h0M142.9 575.6h0M144.7 563.2h0M135.1 561.0h0M141.8 545.9h0M149.7 582.0h0M140.7 551.4h0M140.8 583.1h0M149.4 533.2h0M136.9 574.9h0M139.4 554.3h0M137.4 531.4h0M142.9 546.2h0M137.7 554.8h0M138.5 561.6h0M135.0 529.2h0M138.0 568.5h0M141.7 573.6h0M138.4 586.9h0M140.0 572.7h0M143.0 566.6h0M141.1 560.4h0M135.4 562.9h0M134.6 550.0h0M135.7 569.7h0M150.9 580.6h0M138.8 544.8h0M139.3 580.8h0M138.3 549.2h0M135.6 574.4h0M136.2 576.9h0M137.2 581.1h0M143.8 578.6h0M136.5 531.2h0M135.3 488.2h0M136.5 495.9h0M136.0 507.4h0M134.7 515.7h0M134.9 523.2h0M136.0 522.3h0M135.2 453.7h0M149.6 463.1h0M156.2 490.4h0M154.5 515.2h0M167.6 569.7h0" stroke="#FC8D62" stroke-width="1.9" stroke-linecap="square" fill="none"/>
<line x1="45.6" y1="453.1" x2="45.6" y2="647" stroke="#333" stroke-width="0.8"/>
<line x1="45.6" y1="647" x2="182.5" y2="647" stroke="#333" stroke-width="0.8"/>
<line x1="43.4" y1="639.1" x2="45.6" y2="639.1" stroke="#333" stroke-width="0.6"/>
<text x="42.6" y="642.1" style="font-size:8.2px" text-anchor="end" fill="#333">0</text>
<line x1="43.4" y1="589.5" x2="45.6" y2="589.5" stroke="#333" stroke-width="0.6"/>
<text x="42.6" y="592.5" style="font-size:8.2px" text-anchor="end" fill="#333">1</text>
<line x1="43.4" y1="540" x2="45.6" y2="540" stroke="#333" stroke-width="0.6"/>
<text x="42.6" y="543" style="font-size:8.2px" text-anchor="end" fill="#333">2</text>
<line x1="43.4" y1="490.4" x2="45.6" y2="490.4" stroke="#333" stroke-width="0.6"/>
<text x="42.6" y="493.4" style="font-size:8.2px" text-anchor="end" fill="#333">3</text>
<line x1="59.7" y1="647" x2="59.7" y2="649.2" stroke="#333" stroke-width="0.6"/>
<text x="59.7" y="657.9" style="font-size:8.2px" text-anchor="middle" fill="#333">-4</text>
<line x1="92.4" y1="647" x2="92.4" y2="649.2" stroke="#333" stroke-width="0.6"/>
<text x="92.4" y="657.9" style="font-size:8.2px" text-anchor="middle" fill="#333">-2</text>
<line x1="125.1" y1="647" x2="125.1" y2="649.2" stroke="#333" stroke-width="0.6"/>
<text x="125.1" y="657.9" style="font-size:8.2px" text-anchor="middle" fill="#333">0</text>
<line x1="157.8" y1="647" x2="157.8" y2="649.2" stroke="#333" stroke-width="0.6"/>
<text x="157.8" y="657.9" style="font-size:8.2px" text-anchor="middle" fill="#333">2</text>
<text transform="translate(32.5 546.5) rotate(-90)" style="font-size:9.8px;font-weight:bold" text-anchor="middle">-log10 CV</text>
<text x="111.9" y="668.3" style="font-size:9.8px;font-weight:bold" text-anchor="middle">Log2 G5shortvsG5long</text>
<text x="184.6" y="537" style="font-size:8.45px">Regulated Type</text>
<circle cx="174.3" cy="533.5" r="1.25" fill="#FC8D62"/>
<circle cx="191.1" cy="546.3" r="1.25" fill="#66C2A5"/>
<text x="199.3" y="549.2" style="font-size:8.3px">Down</text>
<circle cx="191.1" cy="556.8" r="1.25" fill="#BEBEBE"/>
<text x="199.3" y="559.7" style="font-size:8.3px">None</text>
<circle cx="191.1" cy="567.3" r="1.25" fill="#FC8D62"/>
<text x="199.3" y="570.2" style="font-size:8.3px">Up</text>
</svg>
</body></html>
